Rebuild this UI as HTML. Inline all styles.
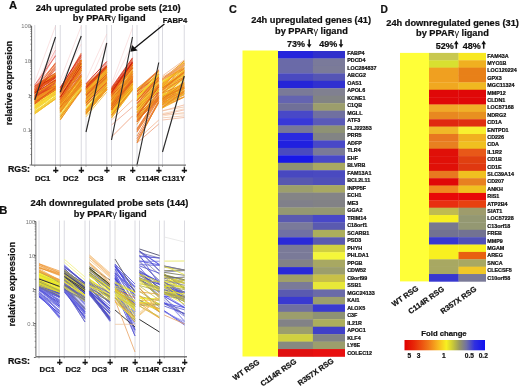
<!DOCTYPE html>
<html><head><meta charset="utf-8"><style>
html,body{margin:0;padding:0;background:#fff;}
body{width:520px;height:388px;overflow:hidden;}
svg{display:block;will-change:transform;}

</style></head><body>
<svg width="520" height="388" viewBox="0 0 520 388" font-family='"Liberation Sans", sans-serif'><line x1="34.75" y1="25" x2="34.75" y2="165.2" stroke="#d6d6dc" stroke-width="0.9"/><line x1="55.5" y1="25" x2="55.5" y2="165.2" stroke="#d6d6dc" stroke-width="0.9"/><line x1="60.25" y1="25" x2="60.25" y2="165.2" stroke="#d6d6dc" stroke-width="0.9"/><line x1="81.25" y1="25" x2="81.25" y2="165.2" stroke="#d6d6dc" stroke-width="0.9"/><line x1="86" y1="25" x2="86" y2="165.2" stroke="#d6d6dc" stroke-width="0.9"/><line x1="106.75" y1="25" x2="106.75" y2="165.2" stroke="#d6d6dc" stroke-width="0.9"/><line x1="111.5" y1="25" x2="111.5" y2="165.2" stroke="#d6d6dc" stroke-width="0.9"/><line x1="132.5" y1="25" x2="132.5" y2="165.2" stroke="#d6d6dc" stroke-width="0.9"/><line x1="137" y1="25" x2="137" y2="165.2" stroke="#d6d6dc" stroke-width="0.9"/><line x1="158.75" y1="25" x2="158.75" y2="165.2" stroke="#d6d6dc" stroke-width="0.9"/><line x1="162.5" y1="25" x2="162.5" y2="165.2" stroke="#d6d6dc" stroke-width="0.9"/><line x1="184.25" y1="25" x2="184.25" y2="165.2" stroke="#d6d6dc" stroke-width="0.9"/><line x1="34.75" y1="82.00" x2="55.50" y2="26.00" stroke="#f4c4c4" stroke-width="0.6" stroke-opacity="0.8"/><line x1="34.75" y1="86.00" x2="55.50" y2="46.00" stroke="#f4c4c4" stroke-width="0.6" stroke-opacity="0.8"/><line x1="34.75" y1="90.00" x2="55.50" y2="52.00" stroke="#f4c4c4" stroke-width="0.6" stroke-opacity="0.8"/><line x1="34.75" y1="99.94" x2="55.50" y2="89.54" stroke="#f8e830" stroke-width="0.8" stroke-opacity="0.9"/><line x1="34.75" y1="108.59" x2="55.50" y2="96.69" stroke="#f8d820" stroke-width="0.8" stroke-opacity="0.9"/><line x1="34.75" y1="97.63" x2="55.50" y2="86.85" stroke="#f8d030" stroke-width="0.8" stroke-opacity="0.9"/><line x1="34.75" y1="97.23" x2="55.50" y2="86.83" stroke="#f8e830" stroke-width="0.8" stroke-opacity="0.9"/><line x1="34.75" y1="113.76" x2="55.50" y2="98.59" stroke="#f8d820" stroke-width="0.8" stroke-opacity="0.9"/><line x1="34.75" y1="105.83" x2="55.50" y2="94.80" stroke="#f8d820" stroke-width="0.8" stroke-opacity="0.9"/><line x1="34.75" y1="104.04" x2="55.50" y2="91.99" stroke="#f8d820" stroke-width="0.8" stroke-opacity="0.9"/><line x1="34.75" y1="97.09" x2="55.50" y2="87.19" stroke="#f0e040" stroke-width="0.8" stroke-opacity="0.9"/><line x1="34.75" y1="98.24" x2="55.50" y2="84.14" stroke="#f8e830" stroke-width="0.8" stroke-opacity="0.9"/><line x1="34.75" y1="103.50" x2="55.50" y2="90.23" stroke="#f8d030" stroke-width="0.8" stroke-opacity="0.9"/><line x1="34.75" y1="105.11" x2="55.50" y2="92.69" stroke="#f0a828" stroke-width="0.8" stroke-opacity="0.9"/><line x1="34.75" y1="106.29" x2="55.50" y2="91.88" stroke="#f0e040" stroke-width="0.8" stroke-opacity="0.9"/><line x1="34.75" y1="107.20" x2="55.50" y2="94.82" stroke="#f8d820" stroke-width="0.8" stroke-opacity="0.9"/><line x1="34.75" y1="104.07" x2="55.50" y2="91.20" stroke="#f8e830" stroke-width="0.8" stroke-opacity="0.9"/><line x1="34.75" y1="111.58" x2="55.50" y2="98.33" stroke="#f0b028" stroke-width="0.8" stroke-opacity="0.9"/><line x1="34.75" y1="98.68" x2="55.50" y2="84.21" stroke="#f0e040" stroke-width="0.8" stroke-opacity="0.9"/><line x1="34.75" y1="97.71" x2="55.50" y2="86.47" stroke="#f0b028" stroke-width="0.8" stroke-opacity="0.9"/><line x1="34.75" y1="101.31" x2="55.50" y2="89.09" stroke="#f0a828" stroke-width="0.8" stroke-opacity="0.9"/><line x1="34.75" y1="96.00" x2="55.50" y2="84.00" stroke="#f8d030" stroke-width="0.8" stroke-opacity="0.9"/><line x1="34.75" y1="105.58" x2="55.50" y2="94.87" stroke="#f0e040" stroke-width="0.8" stroke-opacity="0.9"/><line x1="34.75" y1="107.38" x2="55.50" y2="92.42" stroke="#f8d030" stroke-width="0.8" stroke-opacity="0.9"/><line x1="34.75" y1="103.85" x2="55.50" y2="87.64" stroke="#f0a828" stroke-width="0.8" stroke-opacity="0.9"/><line x1="34.75" y1="103.00" x2="55.50" y2="89.30" stroke="#f8d030" stroke-width="0.8" stroke-opacity="0.9"/><line x1="34.75" y1="107.83" x2="55.50" y2="94.39" stroke="#f8b820" stroke-width="0.8" stroke-opacity="0.9"/><line x1="34.75" y1="112.48" x2="55.50" y2="96.25" stroke="#f8b820" stroke-width="0.8" stroke-opacity="0.9"/><line x1="34.75" y1="107.96" x2="55.50" y2="93.68" stroke="#f8d820" stroke-width="0.8" stroke-opacity="0.9"/><line x1="34.75" y1="100.55" x2="55.50" y2="87.54" stroke="#f8b820" stroke-width="0.8" stroke-opacity="0.9"/><line x1="34.75" y1="111.35" x2="55.50" y2="96.91" stroke="#f8d030" stroke-width="0.8" stroke-opacity="0.9"/><line x1="34.75" y1="105.22" x2="55.50" y2="95.37" stroke="#f0e040" stroke-width="0.8" stroke-opacity="0.9"/><line x1="34.75" y1="98.05" x2="55.50" y2="87.58" stroke="#f0b028" stroke-width="0.8" stroke-opacity="0.9"/><line x1="34.75" y1="106.00" x2="55.50" y2="91.46" stroke="#f8d820" stroke-width="0.8" stroke-opacity="0.9"/><line x1="34.75" y1="113.94" x2="55.50" y2="99.00" stroke="#f0a828" stroke-width="0.8" stroke-opacity="0.9"/><line x1="34.75" y1="113.70" x2="55.50" y2="99.00" stroke="#f8d820" stroke-width="0.8" stroke-opacity="0.9"/><line x1="34.75" y1="102.52" x2="55.50" y2="88.10" stroke="#f0e040" stroke-width="0.8" stroke-opacity="0.9"/><line x1="34.75" y1="101.54" x2="55.50" y2="92.19" stroke="#f0a828" stroke-width="0.8" stroke-opacity="0.9"/><line x1="34.75" y1="98.06" x2="55.50" y2="84.42" stroke="#f8d820" stroke-width="0.8" stroke-opacity="0.9"/><line x1="34.75" y1="106.40" x2="55.50" y2="94.52" stroke="#f8e830" stroke-width="0.8" stroke-opacity="0.9"/><line x1="34.75" y1="98.48" x2="55.50" y2="84.90" stroke="#f0e040" stroke-width="0.8" stroke-opacity="0.9"/><line x1="34.75" y1="109.88" x2="55.50" y2="93.98" stroke="#f0a828" stroke-width="0.8" stroke-opacity="0.9"/><line x1="34.75" y1="100.10" x2="55.50" y2="88.06" stroke="#f0a828" stroke-width="0.8" stroke-opacity="0.9"/><line x1="34.75" y1="103.63" x2="55.50" y2="89.60" stroke="#f8d030" stroke-width="0.8" stroke-opacity="0.9"/><line x1="34.75" y1="100.90" x2="55.50" y2="90.62" stroke="#f0e040" stroke-width="0.8" stroke-opacity="0.9"/><line x1="34.75" y1="103.70" x2="55.50" y2="93.78" stroke="#f0b028" stroke-width="0.8" stroke-opacity="0.9"/><line x1="34.75" y1="98.87" x2="55.50" y2="84.07" stroke="#f8d820" stroke-width="0.8" stroke-opacity="0.9"/><line x1="34.75" y1="102.14" x2="55.50" y2="86.63" stroke="#f0a020" stroke-width="0.8" stroke-opacity="0.9"/><line x1="34.75" y1="107.54" x2="55.50" y2="91.13" stroke="#f8d030" stroke-width="0.8" stroke-opacity="0.9"/><line x1="34.75" y1="107.09" x2="55.50" y2="91.22" stroke="#f8d030" stroke-width="0.8" stroke-opacity="0.9"/><line x1="34.75" y1="108.60" x2="55.50" y2="94.36" stroke="#f8d030" stroke-width="0.8" stroke-opacity="0.9"/><line x1="34.75" y1="112.23" x2="55.50" y2="97.17" stroke="#f8d030" stroke-width="0.8" stroke-opacity="0.9"/><line x1="34.75" y1="99.56" x2="55.50" y2="88.04" stroke="#f8d820" stroke-width="0.8" stroke-opacity="0.9"/><line x1="34.75" y1="110.07" x2="55.50" y2="94.47" stroke="#f8e830" stroke-width="0.8" stroke-opacity="0.9"/><line x1="34.75" y1="112.93" x2="55.50" y2="99.00" stroke="#f0b028" stroke-width="0.8" stroke-opacity="0.9"/><line x1="34.75" y1="112.46" x2="55.50" y2="97.07" stroke="#f8d030" stroke-width="0.8" stroke-opacity="0.9"/><line x1="34.75" y1="103.59" x2="55.50" y2="90.97" stroke="#f8e830" stroke-width="0.8" stroke-opacity="0.9"/><line x1="34.75" y1="111.02" x2="55.50" y2="97.29" stroke="#f0e040" stroke-width="0.8" stroke-opacity="0.9"/><line x1="34.75" y1="88.39" x2="55.50" y2="76.53" stroke="#e05020" stroke-width="0.8" stroke-opacity="0.9"/><line x1="34.75" y1="92.87" x2="55.50" y2="82.60" stroke="#e87818" stroke-width="0.8" stroke-opacity="0.9"/><line x1="34.75" y1="89.97" x2="55.50" y2="75.61" stroke="#d82010" stroke-width="0.8" stroke-opacity="0.9"/><line x1="34.75" y1="95.64" x2="55.50" y2="80.97" stroke="#e85818" stroke-width="0.8" stroke-opacity="0.9"/><line x1="34.75" y1="101.32" x2="55.50" y2="90.00" stroke="#d82010" stroke-width="0.8" stroke-opacity="0.9"/><line x1="34.75" y1="98.61" x2="55.50" y2="88.38" stroke="#e02818" stroke-width="0.8" stroke-opacity="0.9"/><line x1="34.75" y1="97.02" x2="55.50" y2="84.42" stroke="#e04818" stroke-width="0.8" stroke-opacity="0.9"/><line x1="34.75" y1="88.00" x2="55.50" y2="74.52" stroke="#e88a18" stroke-width="0.8" stroke-opacity="0.9"/><line x1="34.75" y1="97.82" x2="55.50" y2="81.61" stroke="#e05020" stroke-width="0.8" stroke-opacity="0.9"/><line x1="34.75" y1="99.31" x2="55.50" y2="85.78" stroke="#e05020" stroke-width="0.8" stroke-opacity="0.9"/><line x1="34.75" y1="96.44" x2="55.50" y2="80.63" stroke="#c81810" stroke-width="0.8" stroke-opacity="0.9"/><line x1="34.75" y1="91.55" x2="55.50" y2="82.21" stroke="#f08020" stroke-width="0.8" stroke-opacity="0.9"/><line x1="34.75" y1="103.04" x2="55.50" y2="89.87" stroke="#d01808" stroke-width="0.8" stroke-opacity="0.9"/><line x1="34.75" y1="95.83" x2="55.50" y2="80.16" stroke="#c81810" stroke-width="0.8" stroke-opacity="0.9"/><line x1="34.75" y1="88.79" x2="55.50" y2="77.48" stroke="#e85818" stroke-width="0.8" stroke-opacity="0.9"/><line x1="34.75" y1="98.44" x2="55.50" y2="81.56" stroke="#e04818" stroke-width="0.8" stroke-opacity="0.9"/><line x1="34.75" y1="95.74" x2="55.50" y2="81.34" stroke="#e87818" stroke-width="0.8" stroke-opacity="0.9"/><line x1="34.75" y1="98.45" x2="55.50" y2="84.51" stroke="#e88a18" stroke-width="0.8" stroke-opacity="0.9"/><line x1="34.75" y1="99.50" x2="55.50" y2="86.44" stroke="#f08020" stroke-width="0.8" stroke-opacity="0.9"/><line x1="34.75" y1="99.94" x2="55.50" y2="86.44" stroke="#f09020" stroke-width="0.8" stroke-opacity="0.9"/><line x1="34.75" y1="94.59" x2="55.50" y2="80.56" stroke="#d01808" stroke-width="0.8" stroke-opacity="0.9"/><line x1="34.75" y1="88.39" x2="55.50" y2="76.43" stroke="#e02818" stroke-width="0.8" stroke-opacity="0.9"/><line x1="34.75" y1="93.78" x2="55.50" y2="81.75" stroke="#e85818" stroke-width="0.8" stroke-opacity="0.9"/><line x1="34.75" y1="104.00" x2="55.50" y2="87.17" stroke="#d82010" stroke-width="0.8" stroke-opacity="0.9"/><line x1="34.75" y1="86.43" x2="55.50" y2="75.04" stroke="#f09020" stroke-width="0.8" stroke-opacity="0.9"/><line x1="34.75" y1="97.69" x2="55.50" y2="82.94" stroke="#e05020" stroke-width="0.8" stroke-opacity="0.9"/><line x1="34.75" y1="102.25" x2="55.50" y2="84.56" stroke="#f8b820" stroke-width="0.8" stroke-opacity="0.9"/><line x1="34.75" y1="95.96" x2="55.50" y2="86.18" stroke="#d82010" stroke-width="0.8" stroke-opacity="0.9"/><line x1="34.75" y1="92.40" x2="55.50" y2="76.21" stroke="#e02818" stroke-width="0.8" stroke-opacity="0.9"/><line x1="34.75" y1="89.84" x2="55.50" y2="74.36" stroke="#e88a18" stroke-width="0.8" stroke-opacity="0.9"/><line x1="34.75" y1="103.37" x2="55.50" y2="89.50" stroke="#f08020" stroke-width="0.8" stroke-opacity="0.9"/><line x1="34.75" y1="92.93" x2="55.50" y2="75.96" stroke="#c81810" stroke-width="0.8" stroke-opacity="0.9"/><line x1="34.75" y1="95.35" x2="55.50" y2="80.21" stroke="#d01808" stroke-width="0.8" stroke-opacity="0.9"/><line x1="34.75" y1="97.30" x2="55.50" y2="81.38" stroke="#e04818" stroke-width="0.8" stroke-opacity="0.9"/><line x1="34.75" y1="101.36" x2="55.50" y2="88.32" stroke="#f08020" stroke-width="0.8" stroke-opacity="0.9"/><line x1="34.75" y1="100.59" x2="55.50" y2="89.70" stroke="#e88a18" stroke-width="0.8" stroke-opacity="0.9"/><line x1="34.75" y1="102.24" x2="55.50" y2="89.72" stroke="#f09020" stroke-width="0.8" stroke-opacity="0.9"/><line x1="34.75" y1="90.95" x2="55.50" y2="75.90" stroke="#e87818" stroke-width="0.8" stroke-opacity="0.9"/><line x1="34.75" y1="86.00" x2="55.50" y2="75.48" stroke="#e88a18" stroke-width="0.8" stroke-opacity="0.9"/><line x1="34.75" y1="100.87" x2="55.50" y2="85.76" stroke="#f09020" stroke-width="0.8" stroke-opacity="0.9"/><line x1="34.75" y1="98.18" x2="55.50" y2="88.44" stroke="#f09020" stroke-width="0.8" stroke-opacity="0.9"/><line x1="34.75" y1="88.72" x2="55.50" y2="75.00" stroke="#c81810" stroke-width="0.8" stroke-opacity="0.9"/><line x1="34.75" y1="95.76" x2="55.50" y2="80.72" stroke="#f08020" stroke-width="0.8" stroke-opacity="0.9"/><line x1="34.75" y1="94.07" x2="55.50" y2="79.97" stroke="#e85818" stroke-width="0.8" stroke-opacity="0.9"/><line x1="34.75" y1="88.99" x2="55.50" y2="79.66" stroke="#f8b820" stroke-width="0.8" stroke-opacity="0.9"/><line x1="34.75" y1="92.89" x2="55.50" y2="77.11" stroke="#d01808" stroke-width="0.8" stroke-opacity="0.9"/><line x1="34.75" y1="96.86" x2="55.50" y2="85.98" stroke="#e85818" stroke-width="0.8" stroke-opacity="0.9"/><line x1="34.75" y1="86.00" x2="55.50" y2="73.66" stroke="#e05020" stroke-width="0.8" stroke-opacity="0.9"/><line x1="34.75" y1="93.88" x2="55.50" y2="81.47" stroke="#f0a828" stroke-width="0.8" stroke-opacity="0.9"/><line x1="34.75" y1="100.37" x2="55.50" y2="86.90" stroke="#f09020" stroke-width="0.8" stroke-opacity="0.9"/><line x1="34.75" y1="102.43" x2="55.50" y2="88.04" stroke="#e04818" stroke-width="0.8" stroke-opacity="0.9"/><line x1="34.75" y1="93.96" x2="55.50" y2="79.88" stroke="#f8b820" stroke-width="0.8" stroke-opacity="0.9"/><line x1="34.75" y1="91.16" x2="55.50" y2="77.83" stroke="#e04818" stroke-width="0.8" stroke-opacity="0.9"/><line x1="34.75" y1="86.93" x2="55.50" y2="75.18" stroke="#e88a18" stroke-width="0.8" stroke-opacity="0.9"/><line x1="34.75" y1="86.69" x2="55.50" y2="77.52" stroke="#d01808" stroke-width="0.8" stroke-opacity="0.9"/><line x1="34.75" y1="96.89" x2="55.50" y2="83.08" stroke="#e05020" stroke-width="0.8" stroke-opacity="0.9"/><line x1="34.75" y1="86.00" x2="55.50" y2="73.00" stroke="#e87818" stroke-width="0.8" stroke-opacity="0.9"/><line x1="34.75" y1="93.23" x2="55.50" y2="79.89" stroke="#c81810" stroke-width="0.8" stroke-opacity="0.9"/><line x1="34.75" y1="89.31" x2="55.50" y2="80.45" stroke="#e05020" stroke-width="0.8" stroke-opacity="0.9"/><line x1="34.75" y1="89.72" x2="55.50" y2="78.46" stroke="#e02818" stroke-width="0.8" stroke-opacity="0.9"/><line x1="34.75" y1="91.86" x2="55.50" y2="76.46" stroke="#e87818" stroke-width="0.8" stroke-opacity="0.9"/><line x1="34.75" y1="89.35" x2="55.50" y2="73.00" stroke="#f0a020" stroke-width="0.8" stroke-opacity="0.9"/><line x1="34.75" y1="86.00" x2="55.50" y2="73.00" stroke="#e04818" stroke-width="0.8" stroke-opacity="0.9"/><line x1="34.75" y1="89.99" x2="55.50" y2="76.24" stroke="#e04818" stroke-width="0.8" stroke-opacity="0.9"/><line x1="34.75" y1="99.00" x2="55.50" y2="86.11" stroke="#f09020" stroke-width="0.8" stroke-opacity="0.9"/><line x1="34.75" y1="93.31" x2="55.50" y2="68.73" stroke="#d01808" stroke-width="0.75" stroke-opacity="0.85"/><line x1="34.75" y1="92.67" x2="55.50" y2="65.57" stroke="#e05020" stroke-width="0.75" stroke-opacity="0.85"/><line x1="34.75" y1="92.19" x2="55.50" y2="67.49" stroke="#e85818" stroke-width="0.75" stroke-opacity="0.85"/><line x1="34.75" y1="92.04" x2="55.50" y2="69.75" stroke="#e04818" stroke-width="0.75" stroke-opacity="0.85"/><line x1="34.75" y1="91.62" x2="55.50" y2="62.62" stroke="#e85818" stroke-width="0.75" stroke-opacity="0.85"/><line x1="34.75" y1="92.02" x2="55.50" y2="66.50" stroke="#e85818" stroke-width="0.75" stroke-opacity="0.85"/><line x1="34.75" y1="90.18" x2="55.50" y2="64.10" stroke="#e85818" stroke-width="0.75" stroke-opacity="0.85"/><line x1="34.75" y1="87.42" x2="55.50" y2="63.31" stroke="#e04818" stroke-width="0.75" stroke-opacity="0.85"/><line x1="34.75" y1="85.00" x2="55.50" y2="56.08" stroke="#e02818" stroke-width="0.75" stroke-opacity="0.85"/><line x1="34.75" y1="88.00" x2="55.50" y2="50.00" stroke="#f08080" stroke-width="0.7" stroke-opacity="0.9"/><line x1="34.75" y1="90.00" x2="55.50" y2="55.00" stroke="#e87070" stroke-width="0.7" stroke-opacity="0.9"/><line x1="34.75" y1="100.00" x2="55.50" y2="37.00" stroke="#2a2a2a" stroke-width="1.15" stroke-opacity="1"/><line x1="60.25" y1="80.00" x2="81.25" y2="26.00" stroke="#f4c4c4" stroke-width="0.6" stroke-opacity="0.8"/><line x1="60.25" y1="84.00" x2="81.25" y2="44.00" stroke="#f4c4c4" stroke-width="0.6" stroke-opacity="0.8"/><line x1="60.25" y1="106.81" x2="81.25" y2="85.26" stroke="#e88a18" stroke-width="0.8" stroke-opacity="0.9"/><line x1="60.25" y1="120.00" x2="81.25" y2="88.96" stroke="#e87818" stroke-width="0.8" stroke-opacity="0.9"/><line x1="60.25" y1="102.74" x2="81.25" y2="76.00" stroke="#f0b028" stroke-width="0.8" stroke-opacity="0.9"/><line x1="60.25" y1="115.33" x2="81.25" y2="90.77" stroke="#f0a828" stroke-width="0.8" stroke-opacity="0.9"/><line x1="60.25" y1="117.65" x2="81.25" y2="87.81" stroke="#f0e040" stroke-width="0.8" stroke-opacity="0.9"/><line x1="60.25" y1="104.00" x2="81.25" y2="76.21" stroke="#f0a020" stroke-width="0.8" stroke-opacity="0.9"/><line x1="60.25" y1="113.20" x2="81.25" y2="83.84" stroke="#f8b820" stroke-width="0.8" stroke-opacity="0.9"/><line x1="60.25" y1="107.54" x2="81.25" y2="82.23" stroke="#f08020" stroke-width="0.8" stroke-opacity="0.9"/><line x1="60.25" y1="108.43" x2="81.25" y2="82.98" stroke="#f8d820" stroke-width="0.8" stroke-opacity="0.9"/><line x1="60.25" y1="117.05" x2="81.25" y2="90.21" stroke="#f8d030" stroke-width="0.8" stroke-opacity="0.9"/><line x1="60.25" y1="105.92" x2="81.25" y2="80.48" stroke="#f8d030" stroke-width="0.8" stroke-opacity="0.9"/><line x1="60.25" y1="118.30" x2="81.25" y2="88.51" stroke="#f8d820" stroke-width="0.8" stroke-opacity="0.9"/><line x1="60.25" y1="120.00" x2="81.25" y2="89.33" stroke="#f8d030" stroke-width="0.8" stroke-opacity="0.9"/><line x1="60.25" y1="101.57" x2="81.25" y2="79.60" stroke="#f8d820" stroke-width="0.8" stroke-opacity="0.9"/><line x1="60.25" y1="110.24" x2="81.25" y2="84.26" stroke="#f0b028" stroke-width="0.8" stroke-opacity="0.9"/><line x1="60.25" y1="109.48" x2="81.25" y2="85.42" stroke="#f8e830" stroke-width="0.8" stroke-opacity="0.9"/><line x1="60.25" y1="104.57" x2="81.25" y2="78.16" stroke="#f0b028" stroke-width="0.8" stroke-opacity="0.9"/><line x1="60.25" y1="112.46" x2="81.25" y2="89.16" stroke="#f8d030" stroke-width="0.8" stroke-opacity="0.9"/><line x1="60.25" y1="105.84" x2="81.25" y2="84.47" stroke="#f09020" stroke-width="0.8" stroke-opacity="0.9"/><line x1="60.25" y1="107.83" x2="81.25" y2="81.49" stroke="#f8e830" stroke-width="0.8" stroke-opacity="0.9"/><line x1="60.25" y1="105.25" x2="81.25" y2="81.21" stroke="#f8e830" stroke-width="0.8" stroke-opacity="0.9"/><line x1="60.25" y1="117.05" x2="81.25" y2="86.19" stroke="#f0a828" stroke-width="0.8" stroke-opacity="0.9"/><line x1="60.25" y1="116.67" x2="81.25" y2="86.40" stroke="#f8e830" stroke-width="0.8" stroke-opacity="0.9"/><line x1="60.25" y1="100.64" x2="81.25" y2="78.82" stroke="#f0b028" stroke-width="0.8" stroke-opacity="0.9"/><line x1="60.25" y1="106.78" x2="81.25" y2="80.69" stroke="#f0a020" stroke-width="0.8" stroke-opacity="0.9"/><line x1="60.25" y1="102.92" x2="81.25" y2="81.27" stroke="#f09020" stroke-width="0.8" stroke-opacity="0.9"/><line x1="60.25" y1="117.21" x2="81.25" y2="89.84" stroke="#e87818" stroke-width="0.8" stroke-opacity="0.9"/><line x1="60.25" y1="107.95" x2="81.25" y2="82.42" stroke="#f0e040" stroke-width="0.8" stroke-opacity="0.9"/><line x1="60.25" y1="119.56" x2="81.25" y2="90.78" stroke="#e87818" stroke-width="0.8" stroke-opacity="0.9"/><line x1="60.25" y1="112.30" x2="81.25" y2="82.63" stroke="#e88a18" stroke-width="0.8" stroke-opacity="0.9"/><line x1="60.25" y1="108.91" x2="81.25" y2="80.84" stroke="#f8d820" stroke-width="0.8" stroke-opacity="0.9"/><line x1="60.25" y1="112.18" x2="81.25" y2="84.01" stroke="#f8b820" stroke-width="0.8" stroke-opacity="0.9"/><line x1="60.25" y1="108.51" x2="81.25" y2="82.58" stroke="#e88a18" stroke-width="0.8" stroke-opacity="0.9"/><line x1="60.25" y1="115.69" x2="81.25" y2="87.37" stroke="#f0a828" stroke-width="0.8" stroke-opacity="0.9"/><line x1="60.25" y1="106.36" x2="81.25" y2="80.31" stroke="#f8b820" stroke-width="0.8" stroke-opacity="0.9"/><line x1="60.25" y1="110.32" x2="81.25" y2="86.29" stroke="#f8d030" stroke-width="0.8" stroke-opacity="0.9"/><line x1="60.25" y1="110.73" x2="81.25" y2="84.00" stroke="#f8d030" stroke-width="0.8" stroke-opacity="0.9"/><line x1="60.25" y1="108.84" x2="81.25" y2="81.61" stroke="#f8b820" stroke-width="0.8" stroke-opacity="0.9"/><line x1="60.25" y1="104.39" x2="81.25" y2="80.22" stroke="#f8d820" stroke-width="0.8" stroke-opacity="0.9"/><line x1="60.25" y1="114.40" x2="81.25" y2="86.65" stroke="#f0e040" stroke-width="0.8" stroke-opacity="0.9"/><line x1="60.25" y1="109.13" x2="81.25" y2="80.73" stroke="#f8d820" stroke-width="0.8" stroke-opacity="0.9"/><line x1="60.25" y1="104.14" x2="81.25" y2="80.34" stroke="#f8e830" stroke-width="0.8" stroke-opacity="0.9"/><line x1="60.25" y1="102.54" x2="81.25" y2="78.64" stroke="#f0a828" stroke-width="0.8" stroke-opacity="0.9"/><line x1="60.25" y1="104.23" x2="81.25" y2="76.93" stroke="#f09020" stroke-width="0.8" stroke-opacity="0.9"/><line x1="60.25" y1="111.64" x2="81.25" y2="84.81" stroke="#f0a020" stroke-width="0.8" stroke-opacity="0.9"/><line x1="60.25" y1="91.41" x2="81.25" y2="65.37" stroke="#f0a828" stroke-width="0.8" stroke-opacity="0.9"/><line x1="60.25" y1="111.20" x2="81.25" y2="81.85" stroke="#e04818" stroke-width="0.8" stroke-opacity="0.9"/><line x1="60.25" y1="111.93" x2="81.25" y2="80.28" stroke="#f08020" stroke-width="0.8" stroke-opacity="0.9"/><line x1="60.25" y1="91.75" x2="81.25" y2="69.50" stroke="#f08020" stroke-width="0.8" stroke-opacity="0.9"/><line x1="60.25" y1="112.00" x2="81.25" y2="85.63" stroke="#f0a828" stroke-width="0.8" stroke-opacity="0.9"/><line x1="60.25" y1="92.87" x2="81.25" y2="60.00" stroke="#f09020" stroke-width="0.8" stroke-opacity="0.9"/><line x1="60.25" y1="97.25" x2="81.25" y2="67.18" stroke="#f0a020" stroke-width="0.8" stroke-opacity="0.9"/><line x1="60.25" y1="112.00" x2="81.25" y2="85.24" stroke="#f8b820" stroke-width="0.8" stroke-opacity="0.9"/><line x1="60.25" y1="102.39" x2="81.25" y2="74.81" stroke="#e04818" stroke-width="0.8" stroke-opacity="0.9"/><line x1="60.25" y1="108.57" x2="81.25" y2="82.67" stroke="#e85818" stroke-width="0.8" stroke-opacity="0.9"/><line x1="60.25" y1="89.29" x2="81.25" y2="63.90" stroke="#f0a020" stroke-width="0.8" stroke-opacity="0.9"/><line x1="60.25" y1="112.00" x2="81.25" y2="86.00" stroke="#f0a828" stroke-width="0.8" stroke-opacity="0.9"/><line x1="60.25" y1="101.43" x2="81.25" y2="70.01" stroke="#f8b820" stroke-width="0.8" stroke-opacity="0.9"/><line x1="60.25" y1="103.88" x2="81.25" y2="74.59" stroke="#f0a828" stroke-width="0.8" stroke-opacity="0.9"/><line x1="60.25" y1="110.37" x2="81.25" y2="79.74" stroke="#e88a18" stroke-width="0.8" stroke-opacity="0.9"/><line x1="60.25" y1="107.28" x2="81.25" y2="75.22" stroke="#e87818" stroke-width="0.8" stroke-opacity="0.9"/><line x1="60.25" y1="106.51" x2="81.25" y2="77.02" stroke="#f8b820" stroke-width="0.8" stroke-opacity="0.9"/><line x1="60.25" y1="95.61" x2="81.25" y2="67.02" stroke="#e04818" stroke-width="0.8" stroke-opacity="0.9"/><line x1="60.25" y1="90.52" x2="81.25" y2="60.00" stroke="#e88a18" stroke-width="0.8" stroke-opacity="0.9"/><line x1="60.25" y1="92.39" x2="81.25" y2="68.03" stroke="#f0a020" stroke-width="0.8" stroke-opacity="0.9"/><line x1="60.25" y1="92.36" x2="81.25" y2="63.69" stroke="#e88a18" stroke-width="0.8" stroke-opacity="0.9"/><line x1="60.25" y1="102.99" x2="81.25" y2="69.15" stroke="#e85818" stroke-width="0.8" stroke-opacity="0.9"/><line x1="60.25" y1="91.63" x2="81.25" y2="61.57" stroke="#e85818" stroke-width="0.8" stroke-opacity="0.9"/><line x1="60.25" y1="89.17" x2="81.25" y2="60.26" stroke="#f8b820" stroke-width="0.8" stroke-opacity="0.9"/><line x1="60.25" y1="100.80" x2="81.25" y2="70.24" stroke="#f08020" stroke-width="0.8" stroke-opacity="0.9"/><line x1="60.25" y1="112.00" x2="81.25" y2="84.60" stroke="#f09020" stroke-width="0.8" stroke-opacity="0.9"/><line x1="60.25" y1="104.18" x2="81.25" y2="76.71" stroke="#f0a020" stroke-width="0.8" stroke-opacity="0.9"/><line x1="60.25" y1="103.44" x2="81.25" y2="76.29" stroke="#f0b028" stroke-width="0.8" stroke-opacity="0.9"/><line x1="60.25" y1="96.48" x2="81.25" y2="68.21" stroke="#f08020" stroke-width="0.8" stroke-opacity="0.9"/><line x1="60.25" y1="100.23" x2="81.25" y2="66.20" stroke="#e88a18" stroke-width="0.8" stroke-opacity="0.9"/><line x1="60.25" y1="99.60" x2="81.25" y2="68.39" stroke="#f8b820" stroke-width="0.8" stroke-opacity="0.9"/><line x1="60.25" y1="92.43" x2="81.25" y2="60.00" stroke="#e04818" stroke-width="0.8" stroke-opacity="0.9"/><line x1="60.25" y1="108.03" x2="81.25" y2="82.85" stroke="#f0a828" stroke-width="0.8" stroke-opacity="0.9"/><line x1="60.25" y1="89.08" x2="81.25" y2="63.22" stroke="#f8b820" stroke-width="0.8" stroke-opacity="0.9"/><line x1="60.25" y1="89.00" x2="81.25" y2="60.00" stroke="#e87818" stroke-width="0.8" stroke-opacity="0.9"/><line x1="60.25" y1="96.62" x2="81.25" y2="69.79" stroke="#f0b028" stroke-width="0.8" stroke-opacity="0.9"/><line x1="60.25" y1="96.21" x2="81.25" y2="72.98" stroke="#e87818" stroke-width="0.8" stroke-opacity="0.9"/><line x1="60.25" y1="96.52" x2="81.25" y2="65.39" stroke="#f0a020" stroke-width="0.8" stroke-opacity="0.9"/><line x1="60.25" y1="97.37" x2="81.25" y2="68.48" stroke="#e05020" stroke-width="0.8" stroke-opacity="0.9"/><line x1="60.25" y1="107.77" x2="81.25" y2="86.00" stroke="#f08020" stroke-width="0.8" stroke-opacity="0.9"/><line x1="60.25" y1="103.08" x2="81.25" y2="75.90" stroke="#f8b820" stroke-width="0.8" stroke-opacity="0.9"/><line x1="60.25" y1="110.02" x2="81.25" y2="82.99" stroke="#f09020" stroke-width="0.8" stroke-opacity="0.9"/><line x1="60.25" y1="108.16" x2="81.25" y2="86.00" stroke="#f0a020" stroke-width="0.8" stroke-opacity="0.9"/><line x1="60.25" y1="109.81" x2="81.25" y2="82.23" stroke="#f0b028" stroke-width="0.8" stroke-opacity="0.9"/><line x1="60.25" y1="108.54" x2="81.25" y2="84.61" stroke="#e85818" stroke-width="0.8" stroke-opacity="0.9"/><line x1="60.25" y1="89.00" x2="81.25" y2="64.03" stroke="#e88a18" stroke-width="0.8" stroke-opacity="0.9"/><line x1="60.25" y1="99.41" x2="81.25" y2="70.46" stroke="#e04818" stroke-width="0.8" stroke-opacity="0.9"/><line x1="60.25" y1="99.81" x2="81.25" y2="71.46" stroke="#f08020" stroke-width="0.8" stroke-opacity="0.9"/><line x1="60.25" y1="92.22" x2="81.25" y2="63.74" stroke="#f0a828" stroke-width="0.8" stroke-opacity="0.9"/><line x1="60.25" y1="112.00" x2="81.25" y2="83.15" stroke="#f09020" stroke-width="0.8" stroke-opacity="0.9"/><line x1="60.25" y1="99.42" x2="81.25" y2="72.20" stroke="#e04818" stroke-width="0.8" stroke-opacity="0.9"/><line x1="60.25" y1="109.62" x2="81.25" y2="79.07" stroke="#f0a020" stroke-width="0.8" stroke-opacity="0.9"/><line x1="60.25" y1="96.22" x2="81.25" y2="66.65" stroke="#f0a020" stroke-width="0.8" stroke-opacity="0.9"/><line x1="60.25" y1="91.84" x2="81.25" y2="63.19" stroke="#f09020" stroke-width="0.8" stroke-opacity="0.9"/><line x1="60.25" y1="98.28" x2="81.25" y2="64.88" stroke="#f08020" stroke-width="0.8" stroke-opacity="0.9"/><line x1="60.25" y1="101.51" x2="81.25" y2="70.35" stroke="#e88a18" stroke-width="0.8" stroke-opacity="0.9"/><line x1="60.25" y1="101.19" x2="81.25" y2="76.61" stroke="#e87818" stroke-width="0.8" stroke-opacity="0.9"/><line x1="60.25" y1="91.18" x2="81.25" y2="65.15" stroke="#f0a828" stroke-width="0.8" stroke-opacity="0.9"/><line x1="60.25" y1="106.86" x2="81.25" y2="82.16" stroke="#f08020" stroke-width="0.8" stroke-opacity="0.9"/><line x1="60.25" y1="90.85" x2="81.25" y2="63.87" stroke="#e88a18" stroke-width="0.8" stroke-opacity="0.9"/><line x1="60.25" y1="109.51" x2="81.25" y2="86.00" stroke="#f0a828" stroke-width="0.8" stroke-opacity="0.9"/><line x1="60.25" y1="104.77" x2="81.25" y2="76.96" stroke="#e87818" stroke-width="0.8" stroke-opacity="0.9"/><line x1="60.25" y1="92.10" x2="81.25" y2="63.69" stroke="#e88a18" stroke-width="0.8" stroke-opacity="0.9"/><line x1="60.25" y1="89.00" x2="81.25" y2="60.00" stroke="#f0a020" stroke-width="0.8" stroke-opacity="0.9"/><line x1="60.25" y1="91.48" x2="81.25" y2="64.22" stroke="#e87818" stroke-width="0.8" stroke-opacity="0.9"/><line x1="60.25" y1="107.21" x2="81.25" y2="80.29" stroke="#e85818" stroke-width="0.8" stroke-opacity="0.9"/><line x1="60.25" y1="94.13" x2="81.25" y2="70.42" stroke="#e04818" stroke-width="0.8" stroke-opacity="0.9"/><line x1="60.25" y1="99.49" x2="81.25" y2="74.88" stroke="#e05020" stroke-width="0.8" stroke-opacity="0.9"/><line x1="60.25" y1="102.61" x2="81.25" y2="71.11" stroke="#f09020" stroke-width="0.8" stroke-opacity="0.9"/><line x1="60.25" y1="96.57" x2="81.25" y2="74.15" stroke="#e05020" stroke-width="0.8" stroke-opacity="0.9"/><line x1="60.25" y1="99.20" x2="81.25" y2="66.53" stroke="#e85818" stroke-width="0.8" stroke-opacity="0.9"/><line x1="60.25" y1="108.73" x2="81.25" y2="79.22" stroke="#f0b028" stroke-width="0.8" stroke-opacity="0.9"/><line x1="60.25" y1="103.07" x2="81.25" y2="76.02" stroke="#e87818" stroke-width="0.8" stroke-opacity="0.9"/><line x1="60.25" y1="96.62" x2="81.25" y2="68.27" stroke="#f08020" stroke-width="0.8" stroke-opacity="0.9"/><line x1="60.25" y1="100.98" x2="81.25" y2="70.26" stroke="#f09020" stroke-width="0.8" stroke-opacity="0.9"/><line x1="60.25" y1="89.00" x2="81.25" y2="60.59" stroke="#f8b820" stroke-width="0.8" stroke-opacity="0.9"/><line x1="60.25" y1="91.89" x2="81.25" y2="61.31" stroke="#e04818" stroke-width="0.8" stroke-opacity="0.9"/><line x1="60.25" y1="91.90" x2="81.25" y2="61.83" stroke="#f09020" stroke-width="0.8" stroke-opacity="0.9"/><line x1="60.25" y1="107.59" x2="81.25" y2="83.99" stroke="#e88a18" stroke-width="0.8" stroke-opacity="0.9"/><line x1="60.25" y1="98.26" x2="81.25" y2="64.28" stroke="#f0a828" stroke-width="0.8" stroke-opacity="0.9"/><line x1="60.25" y1="90.82" x2="81.25" y2="57.62" stroke="#e02818" stroke-width="0.8" stroke-opacity="0.9"/><line x1="60.25" y1="97.34" x2="81.25" y2="66.00" stroke="#d01808" stroke-width="0.8" stroke-opacity="0.9"/><line x1="60.25" y1="95.22" x2="81.25" y2="61.80" stroke="#f09020" stroke-width="0.8" stroke-opacity="0.9"/><line x1="60.25" y1="97.40" x2="81.25" y2="62.77" stroke="#c81810" stroke-width="0.8" stroke-opacity="0.9"/><line x1="60.25" y1="88.91" x2="81.25" y2="53.00" stroke="#e85818" stroke-width="0.8" stroke-opacity="0.9"/><line x1="60.25" y1="87.52" x2="81.25" y2="55.48" stroke="#c81810" stroke-width="0.8" stroke-opacity="0.9"/><line x1="60.25" y1="87.66" x2="81.25" y2="54.54" stroke="#d82010" stroke-width="0.8" stroke-opacity="0.9"/><line x1="60.25" y1="93.77" x2="81.25" y2="61.25" stroke="#e87818" stroke-width="0.8" stroke-opacity="0.9"/><line x1="60.25" y1="93.47" x2="81.25" y2="59.39" stroke="#e05020" stroke-width="0.8" stroke-opacity="0.9"/><line x1="60.25" y1="89.56" x2="81.25" y2="56.57" stroke="#e85818" stroke-width="0.8" stroke-opacity="0.9"/><line x1="60.25" y1="92.00" x2="81.25" y2="36.00" stroke="#2a2a2a" stroke-width="1.15" stroke-opacity="1"/><line x1="86.00" y1="80.00" x2="106.75" y2="34.00" stroke="#f4c4c4" stroke-width="0.6" stroke-opacity="0.8"/><line x1="86.00" y1="90.00" x2="106.75" y2="42.00" stroke="#f4c4c4" stroke-width="0.6" stroke-opacity="0.8"/><line x1="86.00" y1="103.14" x2="106.75" y2="80.25" stroke="#f08020" stroke-width="0.8" stroke-opacity="0.9"/><line x1="86.00" y1="113.54" x2="106.75" y2="89.58" stroke="#f08020" stroke-width="0.8" stroke-opacity="0.9"/><line x1="86.00" y1="109.58" x2="106.75" y2="85.57" stroke="#f8d030" stroke-width="0.8" stroke-opacity="0.9"/><line x1="86.00" y1="100.14" x2="106.75" y2="81.01" stroke="#f8e830" stroke-width="0.8" stroke-opacity="0.9"/><line x1="86.00" y1="96.41" x2="106.75" y2="77.33" stroke="#f0a020" stroke-width="0.8" stroke-opacity="0.9"/><line x1="86.00" y1="95.00" x2="106.75" y2="78.34" stroke="#f8e830" stroke-width="0.8" stroke-opacity="0.9"/><line x1="86.00" y1="109.84" x2="106.75" y2="85.01" stroke="#e87818" stroke-width="0.8" stroke-opacity="0.9"/><line x1="86.00" y1="112.87" x2="106.75" y2="89.72" stroke="#f0a020" stroke-width="0.8" stroke-opacity="0.9"/><line x1="86.00" y1="114.00" x2="106.75" y2="88.97" stroke="#f0b028" stroke-width="0.8" stroke-opacity="0.9"/><line x1="86.00" y1="101.43" x2="106.75" y2="78.68" stroke="#f8b820" stroke-width="0.8" stroke-opacity="0.9"/><line x1="86.00" y1="109.30" x2="106.75" y2="84.43" stroke="#f8e830" stroke-width="0.8" stroke-opacity="0.9"/><line x1="86.00" y1="105.19" x2="106.75" y2="83.81" stroke="#f08020" stroke-width="0.8" stroke-opacity="0.9"/><line x1="86.00" y1="102.02" x2="106.75" y2="78.35" stroke="#e87818" stroke-width="0.8" stroke-opacity="0.9"/><line x1="86.00" y1="113.21" x2="106.75" y2="89.89" stroke="#f08020" stroke-width="0.8" stroke-opacity="0.9"/><line x1="86.00" y1="103.58" x2="106.75" y2="81.14" stroke="#f8b820" stroke-width="0.8" stroke-opacity="0.9"/><line x1="86.00" y1="103.44" x2="106.75" y2="80.72" stroke="#f8e830" stroke-width="0.8" stroke-opacity="0.9"/><line x1="86.00" y1="110.12" x2="106.75" y2="89.73" stroke="#f0b028" stroke-width="0.8" stroke-opacity="0.9"/><line x1="86.00" y1="107.02" x2="106.75" y2="88.26" stroke="#f8d030" stroke-width="0.8" stroke-opacity="0.9"/><line x1="86.00" y1="106.00" x2="106.75" y2="85.38" stroke="#f0b028" stroke-width="0.8" stroke-opacity="0.9"/><line x1="86.00" y1="99.99" x2="106.75" y2="81.03" stroke="#e88a18" stroke-width="0.8" stroke-opacity="0.9"/><line x1="86.00" y1="108.81" x2="106.75" y2="89.23" stroke="#f08020" stroke-width="0.8" stroke-opacity="0.9"/><line x1="86.00" y1="96.81" x2="106.75" y2="76.29" stroke="#f0a828" stroke-width="0.8" stroke-opacity="0.9"/><line x1="86.00" y1="99.75" x2="106.75" y2="76.58" stroke="#e87818" stroke-width="0.8" stroke-opacity="0.9"/><line x1="86.00" y1="100.61" x2="106.75" y2="81.58" stroke="#f08020" stroke-width="0.8" stroke-opacity="0.9"/><line x1="86.00" y1="114.00" x2="106.75" y2="89.98" stroke="#e88a18" stroke-width="0.8" stroke-opacity="0.9"/><line x1="86.00" y1="95.00" x2="106.75" y2="76.96" stroke="#f0e040" stroke-width="0.8" stroke-opacity="0.9"/><line x1="86.00" y1="102.16" x2="106.75" y2="79.95" stroke="#f8d030" stroke-width="0.8" stroke-opacity="0.9"/><line x1="86.00" y1="100.19" x2="106.75" y2="77.18" stroke="#f0a020" stroke-width="0.8" stroke-opacity="0.9"/><line x1="86.00" y1="104.66" x2="106.75" y2="84.04" stroke="#e87818" stroke-width="0.8" stroke-opacity="0.9"/><line x1="86.00" y1="99.74" x2="106.75" y2="79.51" stroke="#f0a828" stroke-width="0.8" stroke-opacity="0.9"/><line x1="86.00" y1="103.83" x2="106.75" y2="79.69" stroke="#f0a020" stroke-width="0.8" stroke-opacity="0.9"/><line x1="86.00" y1="111.33" x2="106.75" y2="87.64" stroke="#f0b028" stroke-width="0.8" stroke-opacity="0.9"/><line x1="86.00" y1="95.00" x2="106.75" y2="77.59" stroke="#f8d820" stroke-width="0.8" stroke-opacity="0.9"/><line x1="86.00" y1="101.29" x2="106.75" y2="79.58" stroke="#f09020" stroke-width="0.8" stroke-opacity="0.9"/><line x1="86.00" y1="112.83" x2="106.75" y2="87.89" stroke="#f08020" stroke-width="0.8" stroke-opacity="0.9"/><line x1="86.00" y1="105.92" x2="106.75" y2="83.19" stroke="#f0a828" stroke-width="0.8" stroke-opacity="0.9"/><line x1="86.00" y1="95.29" x2="106.75" y2="76.47" stroke="#f0a020" stroke-width="0.8" stroke-opacity="0.9"/><line x1="86.00" y1="101.22" x2="106.75" y2="79.83" stroke="#f0b028" stroke-width="0.8" stroke-opacity="0.9"/><line x1="86.00" y1="95.52" x2="106.75" y2="78.02" stroke="#f8b820" stroke-width="0.8" stroke-opacity="0.9"/><line x1="86.00" y1="102.95" x2="106.75" y2="82.38" stroke="#f09020" stroke-width="0.8" stroke-opacity="0.9"/><line x1="86.00" y1="108.98" x2="106.75" y2="83.62" stroke="#f8d820" stroke-width="0.8" stroke-opacity="0.9"/><line x1="86.00" y1="96.93" x2="106.75" y2="78.97" stroke="#e88a18" stroke-width="0.8" stroke-opacity="0.9"/><line x1="86.00" y1="111.10" x2="106.75" y2="84.89" stroke="#f0e040" stroke-width="0.8" stroke-opacity="0.9"/><line x1="86.00" y1="108.96" x2="106.75" y2="87.45" stroke="#f8d030" stroke-width="0.8" stroke-opacity="0.9"/><line x1="86.00" y1="101.16" x2="106.75" y2="77.45" stroke="#f09020" stroke-width="0.8" stroke-opacity="0.9"/><line x1="86.00" y1="95.00" x2="106.75" y2="77.59" stroke="#e88a18" stroke-width="0.8" stroke-opacity="0.9"/><line x1="86.00" y1="111.56" x2="106.75" y2="87.32" stroke="#f09020" stroke-width="0.8" stroke-opacity="0.9"/><line x1="86.00" y1="105.16" x2="106.75" y2="84.96" stroke="#e87818" stroke-width="0.8" stroke-opacity="0.9"/><line x1="86.00" y1="112.30" x2="106.75" y2="90.00" stroke="#f0a828" stroke-width="0.8" stroke-opacity="0.9"/><line x1="86.00" y1="96.67" x2="106.75" y2="76.00" stroke="#f0a828" stroke-width="0.8" stroke-opacity="0.9"/><line x1="86.00" y1="109.30" x2="106.75" y2="86.35" stroke="#f8e830" stroke-width="0.8" stroke-opacity="0.9"/><line x1="86.00" y1="98.01" x2="106.75" y2="79.11" stroke="#f0e040" stroke-width="0.8" stroke-opacity="0.9"/><line x1="86.00" y1="112.99" x2="106.75" y2="89.52" stroke="#f09020" stroke-width="0.8" stroke-opacity="0.9"/><line x1="86.00" y1="111.20" x2="106.75" y2="87.66" stroke="#e87818" stroke-width="0.8" stroke-opacity="0.9"/><line x1="86.00" y1="110.29" x2="106.75" y2="85.50" stroke="#e88a18" stroke-width="0.8" stroke-opacity="0.9"/><line x1="86.00" y1="91.29" x2="106.75" y2="71.45" stroke="#f8b820" stroke-width="0.8" stroke-opacity="0.9"/><line x1="86.00" y1="93.93" x2="106.75" y2="78.68" stroke="#f09020" stroke-width="0.8" stroke-opacity="0.9"/><line x1="86.00" y1="85.00" x2="106.75" y2="67.18" stroke="#f09020" stroke-width="0.8" stroke-opacity="0.9"/><line x1="86.00" y1="89.27" x2="106.75" y2="69.46" stroke="#e87818" stroke-width="0.8" stroke-opacity="0.9"/><line x1="86.00" y1="88.27" x2="106.75" y2="66.02" stroke="#f08020" stroke-width="0.8" stroke-opacity="0.9"/><line x1="86.00" y1="95.92" x2="106.75" y2="78.99" stroke="#f0b028" stroke-width="0.8" stroke-opacity="0.9"/><line x1="86.00" y1="91.04" x2="106.75" y2="69.56" stroke="#e05020" stroke-width="0.8" stroke-opacity="0.9"/><line x1="86.00" y1="88.17" x2="106.75" y2="69.23" stroke="#f8b820" stroke-width="0.8" stroke-opacity="0.9"/><line x1="86.00" y1="85.34" x2="106.75" y2="66.00" stroke="#e87818" stroke-width="0.8" stroke-opacity="0.9"/><line x1="86.00" y1="103.00" x2="106.75" y2="83.00" stroke="#f08020" stroke-width="0.8" stroke-opacity="0.9"/><line x1="86.00" y1="100.56" x2="106.75" y2="78.94" stroke="#f08020" stroke-width="0.8" stroke-opacity="0.9"/><line x1="86.00" y1="88.96" x2="106.75" y2="69.00" stroke="#f0a020" stroke-width="0.8" stroke-opacity="0.9"/><line x1="86.00" y1="90.33" x2="106.75" y2="68.98" stroke="#f0a020" stroke-width="0.8" stroke-opacity="0.9"/><line x1="86.00" y1="99.30" x2="106.75" y2="83.00" stroke="#f0a828" stroke-width="0.8" stroke-opacity="0.9"/><line x1="86.00" y1="93.28" x2="106.75" y2="71.47" stroke="#f8b820" stroke-width="0.8" stroke-opacity="0.9"/><line x1="86.00" y1="91.50" x2="106.75" y2="72.36" stroke="#e87818" stroke-width="0.8" stroke-opacity="0.9"/><line x1="86.00" y1="94.33" x2="106.75" y2="72.64" stroke="#f0a020" stroke-width="0.8" stroke-opacity="0.9"/><line x1="86.00" y1="86.22" x2="106.75" y2="67.91" stroke="#f8b820" stroke-width="0.8" stroke-opacity="0.9"/><line x1="86.00" y1="88.36" x2="106.75" y2="66.00" stroke="#e87818" stroke-width="0.8" stroke-opacity="0.9"/><line x1="86.00" y1="93.28" x2="106.75" y2="76.18" stroke="#e87818" stroke-width="0.8" stroke-opacity="0.9"/><line x1="86.00" y1="85.03" x2="106.75" y2="66.03" stroke="#f0b028" stroke-width="0.8" stroke-opacity="0.9"/><line x1="86.00" y1="102.38" x2="106.75" y2="80.50" stroke="#f8b820" stroke-width="0.8" stroke-opacity="0.9"/><line x1="86.00" y1="94.69" x2="106.75" y2="73.02" stroke="#f8b820" stroke-width="0.8" stroke-opacity="0.9"/><line x1="86.00" y1="89.94" x2="106.75" y2="69.64" stroke="#f08020" stroke-width="0.8" stroke-opacity="0.9"/><line x1="86.00" y1="103.00" x2="106.75" y2="81.91" stroke="#f0a020" stroke-width="0.8" stroke-opacity="0.9"/><line x1="86.00" y1="92.97" x2="106.75" y2="74.66" stroke="#f08020" stroke-width="0.8" stroke-opacity="0.9"/><line x1="86.00" y1="91.65" x2="106.75" y2="74.81" stroke="#f08020" stroke-width="0.8" stroke-opacity="0.9"/><line x1="86.00" y1="93.39" x2="106.75" y2="72.52" stroke="#f0a020" stroke-width="0.8" stroke-opacity="0.9"/><line x1="86.00" y1="91.90" x2="106.75" y2="70.48" stroke="#f8b820" stroke-width="0.8" stroke-opacity="0.9"/><line x1="86.00" y1="103.00" x2="106.75" y2="83.00" stroke="#f09020" stroke-width="0.8" stroke-opacity="0.9"/><line x1="86.00" y1="95.94" x2="106.75" y2="76.33" stroke="#e05020" stroke-width="0.8" stroke-opacity="0.9"/><line x1="86.00" y1="86.05" x2="106.75" y2="66.69" stroke="#f8b820" stroke-width="0.8" stroke-opacity="0.9"/><line x1="86.00" y1="101.05" x2="106.75" y2="81.57" stroke="#f09020" stroke-width="0.8" stroke-opacity="0.9"/><line x1="86.00" y1="94.36" x2="106.75" y2="72.64" stroke="#e88a18" stroke-width="0.8" stroke-opacity="0.9"/><line x1="86.00" y1="87.06" x2="106.75" y2="70.11" stroke="#e88a18" stroke-width="0.8" stroke-opacity="0.9"/><line x1="86.00" y1="92.88" x2="106.75" y2="75.93" stroke="#f8b820" stroke-width="0.8" stroke-opacity="0.9"/><line x1="86.00" y1="98.32" x2="106.75" y2="78.59" stroke="#e88a18" stroke-width="0.8" stroke-opacity="0.9"/><line x1="86.00" y1="98.57" x2="106.75" y2="77.52" stroke="#e88a18" stroke-width="0.8" stroke-opacity="0.9"/><line x1="86.00" y1="89.23" x2="106.75" y2="74.00" stroke="#f0a020" stroke-width="0.8" stroke-opacity="0.9"/><line x1="86.00" y1="101.10" x2="106.75" y2="83.00" stroke="#e88a18" stroke-width="0.8" stroke-opacity="0.9"/><line x1="86.00" y1="94.53" x2="106.75" y2="74.04" stroke="#f0a020" stroke-width="0.8" stroke-opacity="0.9"/><line x1="86.00" y1="89.13" x2="106.75" y2="69.06" stroke="#f0a828" stroke-width="0.8" stroke-opacity="0.9"/><line x1="86.00" y1="85.34" x2="106.75" y2="67.25" stroke="#e87818" stroke-width="0.8" stroke-opacity="0.9"/><line x1="86.00" y1="87.14" x2="106.75" y2="66.00" stroke="#e88a18" stroke-width="0.8" stroke-opacity="0.9"/><line x1="86.00" y1="94.72" x2="106.75" y2="74.32" stroke="#f09020" stroke-width="0.8" stroke-opacity="0.9"/><line x1="86.00" y1="90.92" x2="106.75" y2="67.85" stroke="#e88a18" stroke-width="0.8" stroke-opacity="0.9"/><line x1="86.00" y1="100.97" x2="106.75" y2="81.81" stroke="#f0a020" stroke-width="0.8" stroke-opacity="0.9"/><line x1="86.00" y1="98.52" x2="106.75" y2="77.86" stroke="#e05020" stroke-width="0.8" stroke-opacity="0.9"/><line x1="86.00" y1="102.32" x2="106.75" y2="81.98" stroke="#f8b820" stroke-width="0.8" stroke-opacity="0.9"/><line x1="86.00" y1="87.40" x2="106.75" y2="67.97" stroke="#f8b820" stroke-width="0.8" stroke-opacity="0.9"/><line x1="86.00" y1="91.33" x2="106.75" y2="69.27" stroke="#f8b820" stroke-width="0.8" stroke-opacity="0.9"/><line x1="86.00" y1="88.82" x2="106.75" y2="71.21" stroke="#f09020" stroke-width="0.8" stroke-opacity="0.9"/><line x1="86.00" y1="89.09" x2="106.75" y2="70.02" stroke="#e85818" stroke-width="0.8" stroke-opacity="0.9"/><line x1="86.00" y1="100.55" x2="106.75" y2="81.42" stroke="#f8b820" stroke-width="0.8" stroke-opacity="0.9"/><line x1="86.00" y1="89.13" x2="106.75" y2="70.53" stroke="#f8b820" stroke-width="0.8" stroke-opacity="0.9"/><line x1="86.00" y1="102.18" x2="106.75" y2="78.13" stroke="#f0a020" stroke-width="0.8" stroke-opacity="0.9"/><line x1="86.00" y1="92.95" x2="106.75" y2="76.67" stroke="#e88a18" stroke-width="0.8" stroke-opacity="0.9"/><line x1="86.00" y1="92.19" x2="106.75" y2="75.21" stroke="#e04818" stroke-width="0.8" stroke-opacity="0.9"/><line x1="86.00" y1="88.56" x2="106.75" y2="67.02" stroke="#f0b028" stroke-width="0.8" stroke-opacity="0.9"/><line x1="86.00" y1="100.04" x2="106.75" y2="79.64" stroke="#f0a828" stroke-width="0.8" stroke-opacity="0.9"/><line x1="86.00" y1="89.78" x2="106.75" y2="69.02" stroke="#f0b028" stroke-width="0.8" stroke-opacity="0.9"/><line x1="86.00" y1="103.00" x2="106.75" y2="82.44" stroke="#e05020" stroke-width="0.8" stroke-opacity="0.9"/><line x1="86.00" y1="85.00" x2="106.75" y2="66.45" stroke="#e87818" stroke-width="0.8" stroke-opacity="0.9"/><line x1="86.00" y1="88.60" x2="106.75" y2="67.93" stroke="#e05020" stroke-width="0.8" stroke-opacity="0.9"/><line x1="86.00" y1="90.07" x2="106.75" y2="70.58" stroke="#f0a020" stroke-width="0.8" stroke-opacity="0.9"/><line x1="86.00" y1="94.66" x2="106.75" y2="75.21" stroke="#f0b028" stroke-width="0.8" stroke-opacity="0.9"/><line x1="86.00" y1="102.09" x2="106.75" y2="80.62" stroke="#f0a828" stroke-width="0.8" stroke-opacity="0.9"/><line x1="86.00" y1="100.65" x2="106.75" y2="79.89" stroke="#f0a828" stroke-width="0.8" stroke-opacity="0.9"/><line x1="86.00" y1="97.75" x2="106.75" y2="78.52" stroke="#f09020" stroke-width="0.8" stroke-opacity="0.9"/><line x1="86.00" y1="92.11" x2="106.75" y2="73.63" stroke="#f8b820" stroke-width="0.8" stroke-opacity="0.9"/><line x1="86.00" y1="95.12" x2="106.75" y2="74.35" stroke="#e05020" stroke-width="0.8" stroke-opacity="0.9"/><line x1="86.00" y1="89.06" x2="106.75" y2="67.39" stroke="#f8b820" stroke-width="0.8" stroke-opacity="0.9"/><line x1="86.00" y1="90.25" x2="106.75" y2="70.87" stroke="#f8b820" stroke-width="0.8" stroke-opacity="0.9"/><line x1="86.00" y1="97.12" x2="106.75" y2="79.10" stroke="#f0b028" stroke-width="0.8" stroke-opacity="0.9"/><line x1="86.00" y1="88.68" x2="106.75" y2="69.77" stroke="#f0a828" stroke-width="0.8" stroke-opacity="0.9"/><line x1="86.00" y1="86.65" x2="106.75" y2="63.52" stroke="#d01808" stroke-width="0.75" stroke-opacity="0.85"/><line x1="86.00" y1="83.66" x2="106.75" y2="61.83" stroke="#d82010" stroke-width="0.75" stroke-opacity="0.85"/><line x1="86.00" y1="89.65" x2="106.75" y2="67.39" stroke="#e02818" stroke-width="0.75" stroke-opacity="0.85"/><line x1="86.00" y1="86.39" x2="106.75" y2="64.89" stroke="#e85818" stroke-width="0.75" stroke-opacity="0.85"/><line x1="86.00" y1="84.03" x2="106.75" y2="61.41" stroke="#d01808" stroke-width="0.75" stroke-opacity="0.85"/><line x1="86.00" y1="87.42" x2="106.75" y2="66.00" stroke="#e02818" stroke-width="0.75" stroke-opacity="0.85"/><line x1="86.00" y1="88.11" x2="106.75" y2="65.70" stroke="#c81810" stroke-width="0.75" stroke-opacity="0.85"/><line x1="86.00" y1="87.84" x2="106.75" y2="67.36" stroke="#e04818" stroke-width="0.75" stroke-opacity="0.85"/><line x1="86.00" y1="116.83" x2="106.75" y2="92.00" stroke="#f8b820" stroke-width="0.8" stroke-opacity="0.9"/><line x1="86.00" y1="112.04" x2="106.75" y2="87.24" stroke="#f0a828" stroke-width="0.8" stroke-opacity="0.9"/><line x1="86.00" y1="114.45" x2="106.75" y2="89.34" stroke="#f0a828" stroke-width="0.8" stroke-opacity="0.9"/><line x1="86.00" y1="111.01" x2="106.75" y2="87.39" stroke="#f0a020" stroke-width="0.8" stroke-opacity="0.9"/><line x1="86.00" y1="114.85" x2="106.75" y2="89.27" stroke="#f0b028" stroke-width="0.8" stroke-opacity="0.9"/><line x1="86.00" y1="132.00" x2="106.75" y2="43.00" stroke="#2a2a2a" stroke-width="1.15" stroke-opacity="1"/><line x1="111.50" y1="84.00" x2="132.50" y2="28.00" stroke="#f4c4c4" stroke-width="0.6" stroke-opacity="0.8"/><line x1="111.50" y1="86.00" x2="132.50" y2="44.00" stroke="#f4c4c4" stroke-width="0.6" stroke-opacity="0.8"/><line x1="111.50" y1="109.18" x2="132.50" y2="85.11" stroke="#f0a020" stroke-width="0.8" stroke-opacity="0.9"/><line x1="111.50" y1="101.92" x2="132.50" y2="79.29" stroke="#f8d030" stroke-width="0.8" stroke-opacity="0.9"/><line x1="111.50" y1="113.81" x2="132.50" y2="85.42" stroke="#f0e040" stroke-width="0.8" stroke-opacity="0.9"/><line x1="111.50" y1="118.00" x2="132.50" y2="89.56" stroke="#f8e830" stroke-width="0.8" stroke-opacity="0.9"/><line x1="111.50" y1="108.90" x2="132.50" y2="86.04" stroke="#f09020" stroke-width="0.8" stroke-opacity="0.9"/><line x1="111.50" y1="115.95" x2="132.50" y2="88.44" stroke="#f0b028" stroke-width="0.8" stroke-opacity="0.9"/><line x1="111.50" y1="109.11" x2="132.50" y2="85.45" stroke="#f0a020" stroke-width="0.8" stroke-opacity="0.9"/><line x1="111.50" y1="103.38" x2="132.50" y2="77.52" stroke="#f0b028" stroke-width="0.8" stroke-opacity="0.9"/><line x1="111.50" y1="114.79" x2="132.50" y2="88.81" stroke="#e87818" stroke-width="0.8" stroke-opacity="0.9"/><line x1="111.50" y1="112.20" x2="132.50" y2="83.34" stroke="#f8e830" stroke-width="0.8" stroke-opacity="0.9"/><line x1="111.50" y1="107.89" x2="132.50" y2="83.81" stroke="#f8d820" stroke-width="0.8" stroke-opacity="0.9"/><line x1="111.50" y1="106.36" x2="132.50" y2="80.58" stroke="#f8d820" stroke-width="0.8" stroke-opacity="0.9"/><line x1="111.50" y1="114.88" x2="132.50" y2="87.76" stroke="#f8d030" stroke-width="0.8" stroke-opacity="0.9"/><line x1="111.50" y1="113.34" x2="132.50" y2="87.06" stroke="#f8d820" stroke-width="0.8" stroke-opacity="0.9"/><line x1="111.50" y1="104.85" x2="132.50" y2="76.06" stroke="#f0a020" stroke-width="0.8" stroke-opacity="0.9"/><line x1="111.50" y1="107.47" x2="132.50" y2="81.56" stroke="#f08020" stroke-width="0.8" stroke-opacity="0.9"/><line x1="111.50" y1="100.00" x2="132.50" y2="76.00" stroke="#f0a828" stroke-width="0.8" stroke-opacity="0.9"/><line x1="111.50" y1="114.66" x2="132.50" y2="89.53" stroke="#f0a020" stroke-width="0.8" stroke-opacity="0.9"/><line x1="111.50" y1="116.42" x2="132.50" y2="88.34" stroke="#f08020" stroke-width="0.8" stroke-opacity="0.9"/><line x1="111.50" y1="103.58" x2="132.50" y2="79.06" stroke="#f09020" stroke-width="0.8" stroke-opacity="0.9"/><line x1="111.50" y1="100.00" x2="132.50" y2="77.85" stroke="#f09020" stroke-width="0.8" stroke-opacity="0.9"/><line x1="111.50" y1="111.58" x2="132.50" y2="86.01" stroke="#f0a020" stroke-width="0.8" stroke-opacity="0.9"/><line x1="111.50" y1="105.43" x2="132.50" y2="84.26" stroke="#f0a020" stroke-width="0.8" stroke-opacity="0.9"/><line x1="111.50" y1="108.38" x2="132.50" y2="82.82" stroke="#e87818" stroke-width="0.8" stroke-opacity="0.9"/><line x1="111.50" y1="114.74" x2="132.50" y2="85.23" stroke="#f0a020" stroke-width="0.8" stroke-opacity="0.9"/><line x1="111.50" y1="105.36" x2="132.50" y2="81.42" stroke="#f0a020" stroke-width="0.8" stroke-opacity="0.9"/><line x1="111.50" y1="109.08" x2="132.50" y2="84.93" stroke="#f0e040" stroke-width="0.8" stroke-opacity="0.9"/><line x1="111.50" y1="112.62" x2="132.50" y2="84.39" stroke="#f0a020" stroke-width="0.8" stroke-opacity="0.9"/><line x1="111.50" y1="112.75" x2="132.50" y2="88.42" stroke="#f09020" stroke-width="0.8" stroke-opacity="0.9"/><line x1="111.50" y1="117.52" x2="132.50" y2="90.32" stroke="#f0b028" stroke-width="0.8" stroke-opacity="0.9"/><line x1="111.50" y1="101.34" x2="132.50" y2="79.02" stroke="#f09020" stroke-width="0.8" stroke-opacity="0.9"/><line x1="111.50" y1="100.00" x2="132.50" y2="77.06" stroke="#f0b028" stroke-width="0.8" stroke-opacity="0.9"/><line x1="111.50" y1="118.00" x2="132.50" y2="89.53" stroke="#f0b028" stroke-width="0.8" stroke-opacity="0.9"/><line x1="111.50" y1="100.00" x2="132.50" y2="78.92" stroke="#f0a828" stroke-width="0.8" stroke-opacity="0.9"/><line x1="111.50" y1="109.43" x2="132.50" y2="84.66" stroke="#f8e830" stroke-width="0.8" stroke-opacity="0.9"/><line x1="111.50" y1="115.09" x2="132.50" y2="89.21" stroke="#e88a18" stroke-width="0.8" stroke-opacity="0.9"/><line x1="111.50" y1="112.55" x2="132.50" y2="87.65" stroke="#f8d030" stroke-width="0.8" stroke-opacity="0.9"/><line x1="111.50" y1="110.63" x2="132.50" y2="81.80" stroke="#f0a020" stroke-width="0.8" stroke-opacity="0.9"/><line x1="111.50" y1="110.27" x2="132.50" y2="84.57" stroke="#f09020" stroke-width="0.8" stroke-opacity="0.9"/><line x1="111.50" y1="113.00" x2="132.50" y2="85.80" stroke="#f8d820" stroke-width="0.8" stroke-opacity="0.9"/><line x1="111.50" y1="111.33" x2="132.50" y2="88.57" stroke="#f8d030" stroke-width="0.8" stroke-opacity="0.9"/><line x1="111.50" y1="109.97" x2="132.50" y2="87.15" stroke="#e88a18" stroke-width="0.8" stroke-opacity="0.9"/><line x1="111.50" y1="108.85" x2="132.50" y2="80.98" stroke="#f0b028" stroke-width="0.8" stroke-opacity="0.9"/><line x1="111.50" y1="107.32" x2="132.50" y2="82.03" stroke="#f0e040" stroke-width="0.8" stroke-opacity="0.9"/><line x1="111.50" y1="110.09" x2="132.50" y2="82.94" stroke="#f8d820" stroke-width="0.8" stroke-opacity="0.9"/><line x1="111.50" y1="105.90" x2="132.50" y2="78.17" stroke="#e87818" stroke-width="0.8" stroke-opacity="0.9"/><line x1="111.50" y1="103.01" x2="132.50" y2="77.96" stroke="#f8b820" stroke-width="0.8" stroke-opacity="0.9"/><line x1="111.50" y1="96.64" x2="132.50" y2="72.98" stroke="#f09020" stroke-width="0.8" stroke-opacity="0.9"/><line x1="111.50" y1="100.42" x2="132.50" y2="75.17" stroke="#e88a18" stroke-width="0.8" stroke-opacity="0.9"/><line x1="111.50" y1="98.07" x2="132.50" y2="71.55" stroke="#e88a18" stroke-width="0.8" stroke-opacity="0.9"/><line x1="111.50" y1="104.59" x2="132.50" y2="76.82" stroke="#e04818" stroke-width="0.8" stroke-opacity="0.9"/><line x1="111.50" y1="92.47" x2="132.50" y2="71.28" stroke="#e87818" stroke-width="0.8" stroke-opacity="0.9"/><line x1="111.50" y1="92.80" x2="132.50" y2="71.52" stroke="#f8b820" stroke-width="0.8" stroke-opacity="0.9"/><line x1="111.50" y1="95.08" x2="132.50" y2="67.96" stroke="#f0b028" stroke-width="0.8" stroke-opacity="0.9"/><line x1="111.50" y1="105.98" x2="132.50" y2="76.41" stroke="#f08020" stroke-width="0.8" stroke-opacity="0.9"/><line x1="111.50" y1="100.24" x2="132.50" y2="73.59" stroke="#e88a18" stroke-width="0.8" stroke-opacity="0.9"/><line x1="111.50" y1="92.71" x2="132.50" y2="68.84" stroke="#e88a18" stroke-width="0.8" stroke-opacity="0.9"/><line x1="111.50" y1="108.99" x2="132.50" y2="79.36" stroke="#e05020" stroke-width="0.8" stroke-opacity="0.9"/><line x1="111.50" y1="96.06" x2="132.50" y2="74.59" stroke="#f08020" stroke-width="0.8" stroke-opacity="0.9"/><line x1="111.50" y1="94.39" x2="132.50" y2="70.39" stroke="#f0b028" stroke-width="0.8" stroke-opacity="0.9"/><line x1="111.50" y1="95.78" x2="132.50" y2="67.86" stroke="#e88a18" stroke-width="0.8" stroke-opacity="0.9"/><line x1="111.50" y1="91.03" x2="132.50" y2="68.31" stroke="#e85818" stroke-width="0.8" stroke-opacity="0.9"/><line x1="111.50" y1="100.25" x2="132.50" y2="76.90" stroke="#f09020" stroke-width="0.8" stroke-opacity="0.9"/><line x1="111.50" y1="96.83" x2="132.50" y2="68.13" stroke="#f08020" stroke-width="0.8" stroke-opacity="0.9"/><line x1="111.50" y1="96.57" x2="132.50" y2="68.17" stroke="#e85818" stroke-width="0.8" stroke-opacity="0.9"/><line x1="111.50" y1="100.56" x2="132.50" y2="75.66" stroke="#e87818" stroke-width="0.8" stroke-opacity="0.9"/><line x1="111.50" y1="89.12" x2="132.50" y2="67.31" stroke="#f8b820" stroke-width="0.8" stroke-opacity="0.9"/><line x1="111.50" y1="99.64" x2="132.50" y2="71.71" stroke="#e04818" stroke-width="0.8" stroke-opacity="0.9"/><line x1="111.50" y1="100.76" x2="132.50" y2="73.63" stroke="#f8b820" stroke-width="0.8" stroke-opacity="0.9"/><line x1="111.50" y1="107.68" x2="132.50" y2="80.32" stroke="#e88a18" stroke-width="0.8" stroke-opacity="0.9"/><line x1="111.50" y1="109.12" x2="132.50" y2="80.91" stroke="#e87818" stroke-width="0.8" stroke-opacity="0.9"/><line x1="111.50" y1="103.04" x2="132.50" y2="74.44" stroke="#f08020" stroke-width="0.8" stroke-opacity="0.9"/><line x1="111.50" y1="108.00" x2="132.50" y2="83.78" stroke="#f08020" stroke-width="0.8" stroke-opacity="0.9"/><line x1="111.50" y1="94.81" x2="132.50" y2="69.29" stroke="#f0a828" stroke-width="0.8" stroke-opacity="0.9"/><line x1="111.50" y1="97.64" x2="132.50" y2="75.84" stroke="#e85818" stroke-width="0.8" stroke-opacity="0.9"/><line x1="111.50" y1="110.00" x2="132.50" y2="81.53" stroke="#e87818" stroke-width="0.8" stroke-opacity="0.9"/><line x1="111.50" y1="110.00" x2="132.50" y2="80.00" stroke="#f0b028" stroke-width="0.8" stroke-opacity="0.9"/><line x1="111.50" y1="110.00" x2="132.50" y2="79.14" stroke="#f0b028" stroke-width="0.8" stroke-opacity="0.9"/><line x1="111.50" y1="104.83" x2="132.50" y2="80.96" stroke="#e87818" stroke-width="0.8" stroke-opacity="0.9"/><line x1="111.50" y1="89.97" x2="132.50" y2="63.00" stroke="#e88a18" stroke-width="0.8" stroke-opacity="0.9"/><line x1="111.50" y1="101.95" x2="132.50" y2="77.79" stroke="#f0a828" stroke-width="0.8" stroke-opacity="0.9"/><line x1="111.50" y1="90.10" x2="132.50" y2="63.68" stroke="#f08020" stroke-width="0.8" stroke-opacity="0.9"/><line x1="111.50" y1="96.12" x2="132.50" y2="70.51" stroke="#f09020" stroke-width="0.8" stroke-opacity="0.9"/><line x1="111.50" y1="110.00" x2="132.50" y2="82.00" stroke="#e88a18" stroke-width="0.8" stroke-opacity="0.9"/><line x1="111.50" y1="103.61" x2="132.50" y2="81.87" stroke="#f08020" stroke-width="0.8" stroke-opacity="0.9"/><line x1="111.50" y1="110.00" x2="132.50" y2="84.00" stroke="#f09020" stroke-width="0.8" stroke-opacity="0.9"/><line x1="111.50" y1="108.23" x2="132.50" y2="82.03" stroke="#e05020" stroke-width="0.8" stroke-opacity="0.9"/><line x1="111.50" y1="107.50" x2="132.50" y2="80.39" stroke="#e85818" stroke-width="0.8" stroke-opacity="0.9"/><line x1="111.50" y1="94.10" x2="132.50" y2="67.35" stroke="#e85818" stroke-width="0.8" stroke-opacity="0.9"/><line x1="111.50" y1="90.24" x2="132.50" y2="63.21" stroke="#f0a020" stroke-width="0.8" stroke-opacity="0.9"/><line x1="111.50" y1="98.38" x2="132.50" y2="76.96" stroke="#e04818" stroke-width="0.8" stroke-opacity="0.9"/><line x1="111.50" y1="96.19" x2="132.50" y2="68.79" stroke="#f8b820" stroke-width="0.8" stroke-opacity="0.9"/><line x1="111.50" y1="105.59" x2="132.50" y2="78.54" stroke="#f0a020" stroke-width="0.8" stroke-opacity="0.9"/><line x1="111.50" y1="91.02" x2="132.50" y2="65.18" stroke="#f09020" stroke-width="0.8" stroke-opacity="0.9"/><line x1="111.50" y1="106.76" x2="132.50" y2="84.00" stroke="#f0a828" stroke-width="0.8" stroke-opacity="0.9"/><line x1="111.50" y1="108.81" x2="132.50" y2="84.00" stroke="#f08020" stroke-width="0.8" stroke-opacity="0.9"/><line x1="111.50" y1="92.53" x2="132.50" y2="67.56" stroke="#e04818" stroke-width="0.8" stroke-opacity="0.9"/><line x1="111.50" y1="110.00" x2="132.50" y2="81.42" stroke="#e04818" stroke-width="0.8" stroke-opacity="0.9"/><line x1="111.50" y1="95.60" x2="132.50" y2="73.82" stroke="#e04818" stroke-width="0.8" stroke-opacity="0.9"/><line x1="111.50" y1="92.91" x2="132.50" y2="65.67" stroke="#f0b028" stroke-width="0.8" stroke-opacity="0.9"/><line x1="111.50" y1="93.89" x2="132.50" y2="67.02" stroke="#f0b028" stroke-width="0.8" stroke-opacity="0.9"/><line x1="111.50" y1="94.13" x2="132.50" y2="66.12" stroke="#e05020" stroke-width="0.8" stroke-opacity="0.9"/><line x1="111.50" y1="94.03" x2="132.50" y2="65.30" stroke="#f09020" stroke-width="0.8" stroke-opacity="0.9"/><line x1="111.50" y1="98.26" x2="132.50" y2="71.91" stroke="#f8b820" stroke-width="0.8" stroke-opacity="0.9"/><line x1="111.50" y1="89.00" x2="132.50" y2="65.35" stroke="#f0a020" stroke-width="0.8" stroke-opacity="0.9"/><line x1="111.50" y1="102.94" x2="132.50" y2="76.70" stroke="#f0a828" stroke-width="0.8" stroke-opacity="0.9"/><line x1="111.50" y1="105.83" x2="132.50" y2="78.39" stroke="#e88a18" stroke-width="0.8" stroke-opacity="0.9"/><line x1="111.50" y1="90.42" x2="132.50" y2="63.33" stroke="#e87818" stroke-width="0.8" stroke-opacity="0.9"/><line x1="111.50" y1="98.93" x2="132.50" y2="72.51" stroke="#f0a828" stroke-width="0.8" stroke-opacity="0.9"/><line x1="111.50" y1="107.11" x2="132.50" y2="78.10" stroke="#f0a020" stroke-width="0.8" stroke-opacity="0.9"/><line x1="111.50" y1="92.84" x2="132.50" y2="64.21" stroke="#f8b820" stroke-width="0.8" stroke-opacity="0.9"/><line x1="111.50" y1="105.63" x2="132.50" y2="78.34" stroke="#e85818" stroke-width="0.8" stroke-opacity="0.9"/><line x1="111.50" y1="103.33" x2="132.50" y2="74.17" stroke="#f0a020" stroke-width="0.8" stroke-opacity="0.9"/><line x1="111.50" y1="106.64" x2="132.50" y2="82.44" stroke="#e88a18" stroke-width="0.8" stroke-opacity="0.9"/><line x1="111.50" y1="108.45" x2="132.50" y2="79.02" stroke="#e05020" stroke-width="0.8" stroke-opacity="0.9"/><line x1="111.50" y1="103.61" x2="132.50" y2="73.79" stroke="#f08020" stroke-width="0.8" stroke-opacity="0.9"/><line x1="111.50" y1="109.00" x2="132.50" y2="83.12" stroke="#f0b028" stroke-width="0.8" stroke-opacity="0.9"/><line x1="111.50" y1="103.59" x2="132.50" y2="78.28" stroke="#f08020" stroke-width="0.8" stroke-opacity="0.9"/><line x1="111.50" y1="91.70" x2="132.50" y2="65.19" stroke="#e04818" stroke-width="0.8" stroke-opacity="0.9"/><line x1="111.50" y1="103.53" x2="132.50" y2="71.64" stroke="#e88a18" stroke-width="0.8" stroke-opacity="0.9"/><line x1="111.50" y1="90.26" x2="132.50" y2="60.33" stroke="#e87818" stroke-width="0.8" stroke-opacity="0.9"/><line x1="111.50" y1="92.25" x2="132.50" y2="61.44" stroke="#e02818" stroke-width="0.8" stroke-opacity="0.9"/><line x1="111.50" y1="92.23" x2="132.50" y2="63.64" stroke="#e87818" stroke-width="0.8" stroke-opacity="0.9"/><line x1="111.50" y1="92.98" x2="132.50" y2="62.16" stroke="#e02818" stroke-width="0.8" stroke-opacity="0.9"/><line x1="111.50" y1="89.67" x2="132.50" y2="61.77" stroke="#c81810" stroke-width="0.8" stroke-opacity="0.9"/><line x1="111.50" y1="88.52" x2="132.50" y2="59.43" stroke="#d01808" stroke-width="0.8" stroke-opacity="0.9"/><line x1="111.50" y1="94.23" x2="132.50" y2="67.88" stroke="#e05020" stroke-width="0.8" stroke-opacity="0.9"/><line x1="111.50" y1="92.65" x2="132.50" y2="62.04" stroke="#d82010" stroke-width="0.8" stroke-opacity="0.9"/><line x1="111.50" y1="93.56" x2="132.50" y2="64.69" stroke="#e85818" stroke-width="0.8" stroke-opacity="0.9"/><line x1="111.50" y1="94.37" x2="132.50" y2="65.08" stroke="#e85818" stroke-width="0.8" stroke-opacity="0.9"/><line x1="111.50" y1="95.27" x2="132.50" y2="64.49" stroke="#f08020" stroke-width="0.8" stroke-opacity="0.9"/><line x1="111.50" y1="88.81" x2="132.50" y2="58.13" stroke="#e05020" stroke-width="0.8" stroke-opacity="0.9"/><line x1="111.50" y1="91.65" x2="132.50" y2="63.00" stroke="#d01808" stroke-width="0.8" stroke-opacity="0.9"/><line x1="111.50" y1="87.44" x2="132.50" y2="57.78" stroke="#d82010" stroke-width="0.8" stroke-opacity="0.9"/><line x1="111.50" y1="137.00" x2="132.50" y2="116.00" stroke="#e88050" stroke-width="0.7" stroke-opacity="0.9"/><line x1="111.50" y1="125.00" x2="132.50" y2="107.00" stroke="#e89070" stroke-width="0.7" stroke-opacity="0.9"/><line x1="111.50" y1="120.00" x2="132.50" y2="100.00" stroke="#f0a070" stroke-width="0.7" stroke-opacity="0.9"/><line x1="111.50" y1="140.00" x2="132.50" y2="37.00" stroke="#2a2a2a" stroke-width="1.15" stroke-opacity="1"/><line x1="137.00" y1="95.66" x2="158.75" y2="75.84" stroke="#f8d030" stroke-width="0.8" stroke-opacity="0.9"/><line x1="137.00" y1="99.49" x2="158.75" y2="87.93" stroke="#f8d030" stroke-width="0.8" stroke-opacity="0.9"/><line x1="137.00" y1="93.95" x2="158.75" y2="72.30" stroke="#f8d030" stroke-width="0.8" stroke-opacity="0.9"/><line x1="137.00" y1="109.15" x2="158.75" y2="90.73" stroke="#f8d030" stroke-width="0.8" stroke-opacity="0.9"/><line x1="137.00" y1="89.00" x2="158.75" y2="70.00" stroke="#e87818" stroke-width="0.8" stroke-opacity="0.9"/><line x1="137.00" y1="107.78" x2="158.75" y2="81.10" stroke="#f0a020" stroke-width="0.8" stroke-opacity="0.9"/><line x1="137.00" y1="97.17" x2="158.75" y2="76.47" stroke="#f8d030" stroke-width="0.8" stroke-opacity="0.9"/><line x1="137.00" y1="103.66" x2="158.75" y2="85.11" stroke="#e04818" stroke-width="0.8" stroke-opacity="0.9"/><line x1="137.00" y1="119.16" x2="158.75" y2="98.06" stroke="#f8d030" stroke-width="0.8" stroke-opacity="0.9"/><line x1="137.00" y1="97.76" x2="158.75" y2="76.90" stroke="#e88a18" stroke-width="0.8" stroke-opacity="0.9"/><line x1="137.00" y1="115.67" x2="158.75" y2="90.16" stroke="#f0a828" stroke-width="0.8" stroke-opacity="0.9"/><line x1="137.00" y1="109.82" x2="158.75" y2="89.65" stroke="#e88a18" stroke-width="0.8" stroke-opacity="0.9"/><line x1="137.00" y1="105.78" x2="158.75" y2="89.98" stroke="#f0a020" stroke-width="0.8" stroke-opacity="0.9"/><line x1="137.00" y1="108.92" x2="158.75" y2="86.68" stroke="#e88a18" stroke-width="0.8" stroke-opacity="0.9"/><line x1="137.00" y1="96.93" x2="158.75" y2="80.42" stroke="#e85818" stroke-width="0.8" stroke-opacity="0.9"/><line x1="137.00" y1="106.28" x2="158.75" y2="78.85" stroke="#e88a18" stroke-width="0.8" stroke-opacity="0.9"/><line x1="137.00" y1="97.96" x2="158.75" y2="77.65" stroke="#f8d030" stroke-width="0.8" stroke-opacity="0.9"/><line x1="137.00" y1="119.56" x2="158.75" y2="100.00" stroke="#f09020" stroke-width="0.8" stroke-opacity="0.9"/><line x1="137.00" y1="108.24" x2="158.75" y2="85.17" stroke="#e05020" stroke-width="0.8" stroke-opacity="0.9"/><line x1="137.00" y1="89.94" x2="158.75" y2="71.32" stroke="#f8d820" stroke-width="0.8" stroke-opacity="0.9"/><line x1="137.00" y1="114.38" x2="158.75" y2="97.29" stroke="#e05020" stroke-width="0.8" stroke-opacity="0.9"/><line x1="137.00" y1="109.95" x2="158.75" y2="90.69" stroke="#f0b028" stroke-width="0.8" stroke-opacity="0.9"/><line x1="137.00" y1="90.69" x2="158.75" y2="75.21" stroke="#f0a020" stroke-width="0.8" stroke-opacity="0.9"/><line x1="137.00" y1="116.28" x2="158.75" y2="96.78" stroke="#f8d820" stroke-width="0.8" stroke-opacity="0.9"/><line x1="137.00" y1="122.00" x2="158.75" y2="95.58" stroke="#e05020" stroke-width="0.8" stroke-opacity="0.9"/><line x1="137.00" y1="116.49" x2="158.75" y2="87.90" stroke="#f0e040" stroke-width="0.8" stroke-opacity="0.9"/><line x1="137.00" y1="91.52" x2="158.75" y2="73.55" stroke="#f08020" stroke-width="0.8" stroke-opacity="0.9"/><line x1="137.00" y1="110.01" x2="158.75" y2="85.58" stroke="#f8b820" stroke-width="0.8" stroke-opacity="0.9"/><line x1="137.00" y1="114.86" x2="158.75" y2="96.59" stroke="#f08020" stroke-width="0.8" stroke-opacity="0.9"/><line x1="137.00" y1="101.05" x2="158.75" y2="81.01" stroke="#f8d820" stroke-width="0.8" stroke-opacity="0.9"/><line x1="137.00" y1="99.18" x2="158.75" y2="80.81" stroke="#e85818" stroke-width="0.8" stroke-opacity="0.9"/><line x1="137.00" y1="99.93" x2="158.75" y2="84.12" stroke="#f0e040" stroke-width="0.8" stroke-opacity="0.9"/><line x1="137.00" y1="120.48" x2="158.75" y2="97.89" stroke="#e04818" stroke-width="0.8" stroke-opacity="0.9"/><line x1="137.00" y1="95.52" x2="158.75" y2="79.80" stroke="#e85818" stroke-width="0.8" stroke-opacity="0.9"/><line x1="137.00" y1="99.84" x2="158.75" y2="75.43" stroke="#f0e040" stroke-width="0.8" stroke-opacity="0.9"/><line x1="137.00" y1="106.52" x2="158.75" y2="86.67" stroke="#f8b820" stroke-width="0.8" stroke-opacity="0.9"/><line x1="137.00" y1="122.00" x2="158.75" y2="92.47" stroke="#f0a020" stroke-width="0.8" stroke-opacity="0.9"/><line x1="137.00" y1="107.62" x2="158.75" y2="90.73" stroke="#f8e830" stroke-width="0.8" stroke-opacity="0.9"/><line x1="137.00" y1="100.50" x2="158.75" y2="78.81" stroke="#f0e040" stroke-width="0.8" stroke-opacity="0.9"/><line x1="137.00" y1="107.90" x2="158.75" y2="84.52" stroke="#f0b028" stroke-width="0.8" stroke-opacity="0.9"/><line x1="137.00" y1="92.09" x2="158.75" y2="70.80" stroke="#e87818" stroke-width="0.8" stroke-opacity="0.9"/><line x1="137.00" y1="111.57" x2="158.75" y2="86.69" stroke="#f0b028" stroke-width="0.8" stroke-opacity="0.9"/><line x1="137.00" y1="107.00" x2="158.75" y2="88.88" stroke="#f09020" stroke-width="0.8" stroke-opacity="0.9"/><line x1="137.00" y1="122.00" x2="158.75" y2="96.28" stroke="#f0a828" stroke-width="0.8" stroke-opacity="0.9"/><line x1="137.00" y1="118.27" x2="158.75" y2="93.81" stroke="#f8d820" stroke-width="0.8" stroke-opacity="0.9"/><line x1="137.00" y1="109.62" x2="158.75" y2="82.94" stroke="#f0b028" stroke-width="0.8" stroke-opacity="0.9"/><line x1="137.00" y1="96.89" x2="158.75" y2="79.30" stroke="#f09020" stroke-width="0.8" stroke-opacity="0.9"/><line x1="137.00" y1="96.55" x2="158.75" y2="75.02" stroke="#f0e040" stroke-width="0.8" stroke-opacity="0.9"/><line x1="137.00" y1="119.96" x2="158.75" y2="100.00" stroke="#e05020" stroke-width="0.8" stroke-opacity="0.9"/><line x1="137.00" y1="92.08" x2="158.75" y2="74.80" stroke="#e04818" stroke-width="0.8" stroke-opacity="0.9"/><line x1="137.00" y1="117.61" x2="158.75" y2="92.84" stroke="#e85818" stroke-width="0.8" stroke-opacity="0.9"/><line x1="137.00" y1="107.45" x2="158.75" y2="92.54" stroke="#e05020" stroke-width="0.8" stroke-opacity="0.9"/><line x1="137.00" y1="114.75" x2="158.75" y2="87.28" stroke="#e87818" stroke-width="0.8" stroke-opacity="0.9"/><line x1="137.00" y1="101.01" x2="158.75" y2="74.74" stroke="#f0a020" stroke-width="0.8" stroke-opacity="0.9"/><line x1="137.00" y1="98.14" x2="158.75" y2="77.57" stroke="#e87818" stroke-width="0.8" stroke-opacity="0.9"/><line x1="137.00" y1="95.47" x2="158.75" y2="76.38" stroke="#f0a020" stroke-width="0.8" stroke-opacity="0.9"/><line x1="137.00" y1="121.66" x2="158.75" y2="96.26" stroke="#f09020" stroke-width="0.8" stroke-opacity="0.9"/><line x1="137.00" y1="107.08" x2="158.75" y2="83.83" stroke="#f09020" stroke-width="0.8" stroke-opacity="0.9"/><line x1="137.00" y1="106.20" x2="158.75" y2="81.31" stroke="#f08020" stroke-width="0.8" stroke-opacity="0.9"/><line x1="137.00" y1="94.85" x2="158.75" y2="78.02" stroke="#e85818" stroke-width="0.8" stroke-opacity="0.9"/><line x1="137.00" y1="106.18" x2="158.75" y2="84.27" stroke="#e05020" stroke-width="0.8" stroke-opacity="0.9"/><line x1="137.00" y1="112.68" x2="158.75" y2="95.06" stroke="#f0b028" stroke-width="0.8" stroke-opacity="0.9"/><line x1="137.00" y1="93.47" x2="158.75" y2="79.42" stroke="#f0e040" stroke-width="0.8" stroke-opacity="0.9"/><line x1="137.00" y1="119.64" x2="158.75" y2="95.76" stroke="#f0a828" stroke-width="0.8" stroke-opacity="0.9"/><line x1="137.00" y1="104.84" x2="158.75" y2="86.20" stroke="#f8b820" stroke-width="0.8" stroke-opacity="0.9"/><line x1="137.00" y1="112.78" x2="158.75" y2="86.94" stroke="#e85818" stroke-width="0.8" stroke-opacity="0.9"/><line x1="137.00" y1="94.12" x2="158.75" y2="74.08" stroke="#e85818" stroke-width="0.8" stroke-opacity="0.9"/><line x1="137.00" y1="115.37" x2="158.75" y2="99.23" stroke="#f0e040" stroke-width="0.8" stroke-opacity="0.9"/><line x1="137.00" y1="103.22" x2="158.75" y2="81.43" stroke="#f8d030" stroke-width="0.8" stroke-opacity="0.9"/><line x1="137.00" y1="109.81" x2="158.75" y2="82.55" stroke="#f8b820" stroke-width="0.8" stroke-opacity="0.9"/><line x1="137.00" y1="112.11" x2="158.75" y2="89.47" stroke="#f8b820" stroke-width="0.8" stroke-opacity="0.9"/><line x1="137.00" y1="117.73" x2="158.75" y2="98.89" stroke="#e88a18" stroke-width="0.8" stroke-opacity="0.9"/><line x1="137.00" y1="89.00" x2="158.75" y2="71.54" stroke="#e87818" stroke-width="0.8" stroke-opacity="0.9"/><line x1="137.00" y1="118.99" x2="158.75" y2="99.70" stroke="#f08020" stroke-width="0.8" stroke-opacity="0.9"/><line x1="137.00" y1="103.73" x2="158.75" y2="78.57" stroke="#e05020" stroke-width="0.8" stroke-opacity="0.9"/><line x1="137.00" y1="89.00" x2="158.75" y2="74.90" stroke="#f0b028" stroke-width="0.8" stroke-opacity="0.9"/><line x1="137.00" y1="106.16" x2="158.75" y2="86.32" stroke="#f0b028" stroke-width="0.8" stroke-opacity="0.9"/><line x1="137.00" y1="92.22" x2="158.75" y2="78.59" stroke="#f0b028" stroke-width="0.8" stroke-opacity="0.9"/><line x1="137.00" y1="113.00" x2="158.75" y2="90.81" stroke="#e88a18" stroke-width="0.8" stroke-opacity="0.9"/><line x1="137.00" y1="101.22" x2="158.75" y2="74.74" stroke="#f0a828" stroke-width="0.8" stroke-opacity="0.9"/><line x1="137.00" y1="107.33" x2="158.75" y2="81.67" stroke="#f0b028" stroke-width="0.8" stroke-opacity="0.9"/><line x1="137.00" y1="102.85" x2="158.75" y2="79.48" stroke="#e85818" stroke-width="0.8" stroke-opacity="0.9"/><line x1="137.00" y1="100.33" x2="158.75" y2="76.29" stroke="#e88a18" stroke-width="0.8" stroke-opacity="0.9"/><line x1="137.00" y1="119.06" x2="158.75" y2="99.73" stroke="#f0a020" stroke-width="0.8" stroke-opacity="0.9"/><line x1="137.00" y1="108.08" x2="158.75" y2="92.29" stroke="#e04818" stroke-width="0.8" stroke-opacity="0.9"/><line x1="137.00" y1="98.20" x2="158.75" y2="74.80" stroke="#f0e040" stroke-width="0.8" stroke-opacity="0.9"/><line x1="137.00" y1="115.53" x2="158.75" y2="88.84" stroke="#f0e040" stroke-width="0.8" stroke-opacity="0.9"/><line x1="137.00" y1="100.61" x2="158.75" y2="77.08" stroke="#e05020" stroke-width="0.8" stroke-opacity="0.9"/><line x1="137.00" y1="109.19" x2="158.75" y2="87.18" stroke="#f8d820" stroke-width="0.8" stroke-opacity="0.9"/><line x1="137.00" y1="89.00" x2="158.75" y2="75.74" stroke="#f0b028" stroke-width="0.8" stroke-opacity="0.9"/><line x1="137.00" y1="99.09" x2="158.75" y2="71.76" stroke="#f8d030" stroke-width="0.8" stroke-opacity="0.9"/><line x1="137.00" y1="100.93" x2="158.75" y2="79.02" stroke="#f08020" stroke-width="0.8" stroke-opacity="0.9"/><line x1="137.00" y1="108.64" x2="158.75" y2="89.66" stroke="#f0e040" stroke-width="0.8" stroke-opacity="0.9"/><line x1="137.00" y1="110.50" x2="158.75" y2="90.63" stroke="#f8d030" stroke-width="0.8" stroke-opacity="0.9"/><line x1="137.00" y1="105.59" x2="158.75" y2="85.09" stroke="#f0e040" stroke-width="0.8" stroke-opacity="0.9"/><line x1="137.00" y1="91.15" x2="158.75" y2="70.00" stroke="#e05020" stroke-width="0.8" stroke-opacity="0.9"/><line x1="137.00" y1="117.27" x2="158.75" y2="97.55" stroke="#e87818" stroke-width="0.8" stroke-opacity="0.9"/><line x1="137.00" y1="112.72" x2="158.75" y2="87.51" stroke="#f0e040" stroke-width="0.8" stroke-opacity="0.9"/><line x1="137.00" y1="106.24" x2="158.75" y2="78.40" stroke="#f0a020" stroke-width="0.8" stroke-opacity="0.9"/><line x1="137.00" y1="96.89" x2="158.75" y2="75.56" stroke="#f8d820" stroke-width="0.8" stroke-opacity="0.9"/><line x1="137.00" y1="132.11" x2="158.75" y2="97.49" stroke="#e05020" stroke-width="0.8" stroke-opacity="0.9"/><line x1="137.00" y1="116.31" x2="158.75" y2="87.08" stroke="#d82010" stroke-width="0.8" stroke-opacity="0.9"/><line x1="137.00" y1="130.33" x2="158.75" y2="97.01" stroke="#f09020" stroke-width="0.8" stroke-opacity="0.9"/><line x1="137.00" y1="138.68" x2="158.75" y2="101.18" stroke="#e04818" stroke-width="0.8" stroke-opacity="0.9"/><line x1="137.00" y1="142.28" x2="158.75" y2="102.02" stroke="#e88a18" stroke-width="0.8" stroke-opacity="0.9"/><line x1="137.00" y1="115.14" x2="158.75" y2="85.59" stroke="#e04818" stroke-width="0.8" stroke-opacity="0.9"/><line x1="137.00" y1="143.00" x2="158.75" y2="101.61" stroke="#e87818" stroke-width="0.8" stroke-opacity="0.9"/><line x1="137.00" y1="112.00" x2="158.75" y2="84.00" stroke="#f08020" stroke-width="0.8" stroke-opacity="0.9"/><line x1="137.00" y1="124.45" x2="158.75" y2="89.17" stroke="#e88a18" stroke-width="0.8" stroke-opacity="0.9"/><line x1="137.00" y1="116.48" x2="158.75" y2="85.03" stroke="#e87818" stroke-width="0.8" stroke-opacity="0.9"/><line x1="137.00" y1="128.48" x2="158.75" y2="95.85" stroke="#e85818" stroke-width="0.8" stroke-opacity="0.9"/><line x1="137.00" y1="140.63" x2="158.75" y2="103.00" stroke="#e87818" stroke-width="0.8" stroke-opacity="0.9"/><line x1="137.00" y1="129.35" x2="158.75" y2="95.49" stroke="#e88a18" stroke-width="0.8" stroke-opacity="0.9"/><line x1="137.00" y1="121.89" x2="158.75" y2="93.73" stroke="#e05020" stroke-width="0.8" stroke-opacity="0.9"/><line x1="137.00" y1="136.09" x2="158.75" y2="98.38" stroke="#e87818" stroke-width="0.8" stroke-opacity="0.9"/><line x1="137.00" y1="131.38" x2="158.75" y2="99.63" stroke="#f08020" stroke-width="0.8" stroke-opacity="0.9"/><line x1="137.00" y1="143.00" x2="158.75" y2="124.00" stroke="#e88050" stroke-width="0.7" stroke-opacity="0.9"/><line x1="137.00" y1="140.00" x2="158.75" y2="120.00" stroke="#f0a070" stroke-width="0.7" stroke-opacity="0.9"/><line x1="137.00" y1="130.00" x2="158.75" y2="96.00" stroke="#e07050" stroke-width="0.7" stroke-opacity="0.9"/><line x1="137.00" y1="165.00" x2="158.75" y2="62.50" stroke="#2a2a2a" stroke-width="1.15" stroke-opacity="1"/><line x1="162.50" y1="92.38" x2="184.25" y2="77.50" stroke="#e88a18" stroke-width="0.8" stroke-opacity="0.9"/><line x1="162.50" y1="92.60" x2="184.25" y2="75.82" stroke="#e88a18" stroke-width="0.8" stroke-opacity="0.9"/><line x1="162.50" y1="85.52" x2="184.25" y2="74.97" stroke="#e87818" stroke-width="0.8" stroke-opacity="0.9"/><line x1="162.50" y1="84.76" x2="184.25" y2="67.76" stroke="#e88a18" stroke-width="0.8" stroke-opacity="0.9"/><line x1="162.50" y1="95.16" x2="184.25" y2="88.47" stroke="#e87818" stroke-width="0.8" stroke-opacity="0.9"/><line x1="162.50" y1="104.85" x2="184.25" y2="92.52" stroke="#e87818" stroke-width="0.8" stroke-opacity="0.9"/><line x1="162.50" y1="93.78" x2="184.25" y2="83.55" stroke="#f0a828" stroke-width="0.8" stroke-opacity="0.9"/><line x1="162.50" y1="97.17" x2="184.25" y2="77.16" stroke="#e87818" stroke-width="0.8" stroke-opacity="0.9"/><line x1="162.50" y1="96.02" x2="184.25" y2="85.43" stroke="#f09020" stroke-width="0.8" stroke-opacity="0.9"/><line x1="162.50" y1="80.49" x2="184.25" y2="63.61" stroke="#f09020" stroke-width="0.8" stroke-opacity="0.9"/><line x1="162.50" y1="83.70" x2="184.25" y2="61.00" stroke="#f0a828" stroke-width="0.8" stroke-opacity="0.9"/><line x1="162.50" y1="98.89" x2="184.25" y2="82.08" stroke="#f09020" stroke-width="0.8" stroke-opacity="0.9"/><line x1="162.50" y1="92.51" x2="184.25" y2="74.75" stroke="#f8b820" stroke-width="0.8" stroke-opacity="0.9"/><line x1="162.50" y1="80.05" x2="184.25" y2="67.82" stroke="#f8d030" stroke-width="0.8" stroke-opacity="0.9"/><line x1="162.50" y1="83.32" x2="184.25" y2="69.21" stroke="#e87818" stroke-width="0.8" stroke-opacity="0.9"/><line x1="162.50" y1="82.06" x2="184.25" y2="64.21" stroke="#f09020" stroke-width="0.8" stroke-opacity="0.9"/><line x1="162.50" y1="100.18" x2="184.25" y2="87.70" stroke="#f8b820" stroke-width="0.8" stroke-opacity="0.9"/><line x1="162.50" y1="98.80" x2="184.25" y2="88.90" stroke="#e87818" stroke-width="0.8" stroke-opacity="0.9"/><line x1="162.50" y1="94.27" x2="184.25" y2="87.18" stroke="#f0a020" stroke-width="0.8" stroke-opacity="0.9"/><line x1="162.50" y1="104.41" x2="184.25" y2="86.68" stroke="#f08020" stroke-width="0.8" stroke-opacity="0.9"/><line x1="162.50" y1="107.12" x2="184.25" y2="97.00" stroke="#f08020" stroke-width="0.8" stroke-opacity="0.9"/><line x1="162.50" y1="83.87" x2="184.25" y2="62.63" stroke="#f09020" stroke-width="0.8" stroke-opacity="0.9"/><line x1="162.50" y1="91.28" x2="184.25" y2="73.10" stroke="#e88a18" stroke-width="0.8" stroke-opacity="0.9"/><line x1="162.50" y1="90.13" x2="184.25" y2="72.86" stroke="#e87818" stroke-width="0.8" stroke-opacity="0.9"/><line x1="162.50" y1="81.95" x2="184.25" y2="70.34" stroke="#f8d820" stroke-width="0.8" stroke-opacity="0.9"/><line x1="162.50" y1="108.00" x2="184.25" y2="93.53" stroke="#f8d030" stroke-width="0.8" stroke-opacity="0.9"/><line x1="162.50" y1="104.50" x2="184.25" y2="88.42" stroke="#f8b820" stroke-width="0.8" stroke-opacity="0.9"/><line x1="162.50" y1="80.74" x2="184.25" y2="62.20" stroke="#f8d820" stroke-width="0.8" stroke-opacity="0.9"/><line x1="162.50" y1="79.00" x2="184.25" y2="63.57" stroke="#f09020" stroke-width="0.8" stroke-opacity="0.9"/><line x1="162.50" y1="84.22" x2="184.25" y2="63.80" stroke="#f8e830" stroke-width="0.8" stroke-opacity="0.9"/><line x1="162.50" y1="79.43" x2="184.25" y2="61.35" stroke="#f8e830" stroke-width="0.8" stroke-opacity="0.9"/><line x1="162.50" y1="101.02" x2="184.25" y2="87.76" stroke="#f08020" stroke-width="0.8" stroke-opacity="0.9"/><line x1="162.50" y1="102.30" x2="184.25" y2="91.34" stroke="#f0e040" stroke-width="0.8" stroke-opacity="0.9"/><line x1="162.50" y1="103.85" x2="184.25" y2="90.68" stroke="#f8d030" stroke-width="0.8" stroke-opacity="0.9"/><line x1="162.50" y1="79.93" x2="184.25" y2="63.63" stroke="#e87818" stroke-width="0.8" stroke-opacity="0.9"/><line x1="162.50" y1="108.00" x2="184.25" y2="97.00" stroke="#f0b028" stroke-width="0.8" stroke-opacity="0.9"/><line x1="162.50" y1="98.49" x2="184.25" y2="88.73" stroke="#f8e830" stroke-width="0.8" stroke-opacity="0.9"/><line x1="162.50" y1="106.46" x2="184.25" y2="96.89" stroke="#f08020" stroke-width="0.8" stroke-opacity="0.9"/><line x1="162.50" y1="104.36" x2="184.25" y2="93.59" stroke="#f09020" stroke-width="0.8" stroke-opacity="0.9"/><line x1="162.50" y1="87.54" x2="184.25" y2="71.08" stroke="#e87818" stroke-width="0.8" stroke-opacity="0.9"/><line x1="162.50" y1="97.04" x2="184.25" y2="85.65" stroke="#f8e830" stroke-width="0.8" stroke-opacity="0.9"/><line x1="162.50" y1="87.18" x2="184.25" y2="73.33" stroke="#e87818" stroke-width="0.8" stroke-opacity="0.9"/><line x1="162.50" y1="79.53" x2="184.25" y2="69.33" stroke="#f0a828" stroke-width="0.8" stroke-opacity="0.9"/><line x1="162.50" y1="88.35" x2="184.25" y2="70.58" stroke="#f09020" stroke-width="0.8" stroke-opacity="0.9"/><line x1="162.50" y1="92.23" x2="184.25" y2="79.99" stroke="#f0e040" stroke-width="0.8" stroke-opacity="0.9"/><line x1="162.50" y1="86.20" x2="184.25" y2="64.98" stroke="#f8b820" stroke-width="0.8" stroke-opacity="0.9"/><line x1="162.50" y1="105.26" x2="184.25" y2="94.90" stroke="#e87818" stroke-width="0.8" stroke-opacity="0.9"/><line x1="162.50" y1="104.48" x2="184.25" y2="94.40" stroke="#f0a828" stroke-width="0.8" stroke-opacity="0.9"/><line x1="162.50" y1="101.18" x2="184.25" y2="83.72" stroke="#f0e040" stroke-width="0.8" stroke-opacity="0.9"/><line x1="162.50" y1="102.14" x2="184.25" y2="87.34" stroke="#f09020" stroke-width="0.8" stroke-opacity="0.9"/><line x1="162.50" y1="97.72" x2="184.25" y2="77.35" stroke="#f0b028" stroke-width="0.8" stroke-opacity="0.9"/><line x1="162.50" y1="86.79" x2="184.25" y2="70.61" stroke="#f09020" stroke-width="0.8" stroke-opacity="0.9"/><line x1="162.50" y1="89.03" x2="184.25" y2="73.61" stroke="#f8b820" stroke-width="0.8" stroke-opacity="0.9"/><line x1="162.50" y1="100.25" x2="184.25" y2="84.04" stroke="#e88a18" stroke-width="0.8" stroke-opacity="0.9"/><line x1="162.50" y1="86.01" x2="184.25" y2="65.34" stroke="#f0a020" stroke-width="0.8" stroke-opacity="0.9"/><line x1="162.50" y1="99.66" x2="184.25" y2="89.35" stroke="#e88a18" stroke-width="0.8" stroke-opacity="0.9"/><line x1="162.50" y1="95.96" x2="184.25" y2="88.11" stroke="#f0a828" stroke-width="0.8" stroke-opacity="0.9"/><line x1="162.50" y1="87.81" x2="184.25" y2="74.92" stroke="#f0b028" stroke-width="0.8" stroke-opacity="0.9"/><line x1="162.50" y1="107.36" x2="184.25" y2="91.66" stroke="#f09020" stroke-width="0.8" stroke-opacity="0.9"/><line x1="162.50" y1="94.96" x2="184.25" y2="91.26" stroke="#f0e040" stroke-width="0.8" stroke-opacity="0.9"/><line x1="162.50" y1="79.00" x2="184.25" y2="61.00" stroke="#e87818" stroke-width="0.8" stroke-opacity="0.9"/><line x1="162.50" y1="84.84" x2="184.25" y2="65.40" stroke="#f8d820" stroke-width="0.8" stroke-opacity="0.9"/><line x1="162.50" y1="104.02" x2="184.25" y2="88.41" stroke="#e87818" stroke-width="0.8" stroke-opacity="0.9"/><line x1="162.50" y1="102.28" x2="184.25" y2="93.45" stroke="#e87818" stroke-width="0.8" stroke-opacity="0.9"/><line x1="162.50" y1="92.99" x2="184.25" y2="73.48" stroke="#f0b028" stroke-width="0.8" stroke-opacity="0.9"/><line x1="162.50" y1="82.21" x2="184.25" y2="65.25" stroke="#f8d820" stroke-width="0.8" stroke-opacity="0.9"/><line x1="162.50" y1="107.51" x2="184.25" y2="93.43" stroke="#f0e040" stroke-width="0.8" stroke-opacity="0.9"/><line x1="162.50" y1="93.65" x2="184.25" y2="76.36" stroke="#f8b820" stroke-width="0.8" stroke-opacity="0.9"/><line x1="162.50" y1="89.71" x2="184.25" y2="71.96" stroke="#e87818" stroke-width="0.8" stroke-opacity="0.9"/><line x1="162.50" y1="92.12" x2="184.25" y2="78.65" stroke="#e88a18" stroke-width="0.8" stroke-opacity="0.9"/><line x1="162.50" y1="98.62" x2="184.25" y2="86.84" stroke="#e88a18" stroke-width="0.8" stroke-opacity="0.9"/><line x1="162.50" y1="86.69" x2="184.25" y2="72.14" stroke="#e88a18" stroke-width="0.8" stroke-opacity="0.9"/><line x1="162.50" y1="79.24" x2="184.25" y2="66.99" stroke="#f0b028" stroke-width="0.8" stroke-opacity="0.9"/><line x1="162.50" y1="99.27" x2="184.25" y2="79.86" stroke="#f8d820" stroke-width="0.8" stroke-opacity="0.9"/><line x1="162.50" y1="86.93" x2="184.25" y2="68.27" stroke="#e87818" stroke-width="0.8" stroke-opacity="0.9"/><line x1="162.50" y1="103.72" x2="184.25" y2="97.00" stroke="#f0a828" stroke-width="0.8" stroke-opacity="0.9"/><line x1="162.50" y1="106.69" x2="184.25" y2="93.84" stroke="#f0a828" stroke-width="0.8" stroke-opacity="0.9"/><line x1="162.50" y1="87.62" x2="184.25" y2="77.25" stroke="#e87818" stroke-width="0.8" stroke-opacity="0.9"/><line x1="162.50" y1="97.05" x2="184.25" y2="88.37" stroke="#e88a18" stroke-width="0.8" stroke-opacity="0.9"/><line x1="162.50" y1="94.93" x2="184.25" y2="77.71" stroke="#f8d820" stroke-width="0.8" stroke-opacity="0.9"/><line x1="162.50" y1="90.48" x2="184.25" y2="74.89" stroke="#f8d030" stroke-width="0.8" stroke-opacity="0.9"/><line x1="162.50" y1="97.04" x2="184.25" y2="82.47" stroke="#e88a18" stroke-width="0.8" stroke-opacity="0.9"/><line x1="162.50" y1="80.81" x2="184.25" y2="70.63" stroke="#f0e040" stroke-width="0.8" stroke-opacity="0.9"/><line x1="162.50" y1="89.84" x2="184.25" y2="78.52" stroke="#f08020" stroke-width="0.8" stroke-opacity="0.9"/><line x1="162.50" y1="92.92" x2="184.25" y2="84.50" stroke="#e87818" stroke-width="0.8" stroke-opacity="0.9"/><line x1="162.50" y1="100.52" x2="184.25" y2="91.88" stroke="#f09020" stroke-width="0.8" stroke-opacity="0.9"/><line x1="162.50" y1="79.00" x2="184.25" y2="68.23" stroke="#f08020" stroke-width="0.8" stroke-opacity="0.9"/><line x1="162.50" y1="86.55" x2="184.25" y2="71.61" stroke="#f8e830" stroke-width="0.8" stroke-opacity="0.9"/><line x1="162.50" y1="103.59" x2="184.25" y2="90.62" stroke="#f09020" stroke-width="0.8" stroke-opacity="0.9"/><line x1="162.50" y1="103.12" x2="184.25" y2="90.75" stroke="#f0a020" stroke-width="0.8" stroke-opacity="0.9"/><line x1="162.50" y1="102.10" x2="184.25" y2="85.46" stroke="#f0a020" stroke-width="0.8" stroke-opacity="0.9"/><line x1="162.50" y1="84.46" x2="184.25" y2="65.62" stroke="#f08020" stroke-width="0.8" stroke-opacity="0.9"/><line x1="162.50" y1="105.35" x2="184.25" y2="88.83" stroke="#f0b028" stroke-width="0.8" stroke-opacity="0.9"/><line x1="162.50" y1="107.81" x2="184.25" y2="91.13" stroke="#f09020" stroke-width="0.8" stroke-opacity="0.9"/><line x1="162.50" y1="95.55" x2="184.25" y2="84.41" stroke="#f0a020" stroke-width="0.8" stroke-opacity="0.9"/><line x1="162.50" y1="101.24" x2="184.25" y2="80.93" stroke="#f09020" stroke-width="0.8" stroke-opacity="0.9"/><line x1="162.50" y1="100.05" x2="184.25" y2="92.09" stroke="#f09020" stroke-width="0.8" stroke-opacity="0.9"/><line x1="162.50" y1="87.22" x2="184.25" y2="70.48" stroke="#f8b820" stroke-width="0.8" stroke-opacity="0.9"/><line x1="162.50" y1="95.72" x2="184.25" y2="83.49" stroke="#f8d820" stroke-width="0.8" stroke-opacity="0.9"/><line x1="162.50" y1="86.13" x2="184.25" y2="65.00" stroke="#f09020" stroke-width="0.8" stroke-opacity="0.9"/><line x1="162.50" y1="99.60" x2="184.25" y2="76.51" stroke="#f09020" stroke-width="0.8" stroke-opacity="0.9"/><line x1="162.50" y1="79.36" x2="184.25" y2="63.51" stroke="#f8b820" stroke-width="0.8" stroke-opacity="0.9"/><line x1="162.50" y1="88.17" x2="184.25" y2="72.20" stroke="#e87818" stroke-width="0.8" stroke-opacity="0.9"/><line x1="162.50" y1="98.95" x2="184.25" y2="82.84" stroke="#e87818" stroke-width="0.8" stroke-opacity="0.9"/><line x1="162.50" y1="102.39" x2="184.25" y2="85.23" stroke="#f08020" stroke-width="0.8" stroke-opacity="0.9"/><line x1="162.50" y1="98.33" x2="184.25" y2="86.69" stroke="#e87818" stroke-width="0.8" stroke-opacity="0.9"/><line x1="162.50" y1="89.74" x2="184.25" y2="71.57" stroke="#e87818" stroke-width="0.8" stroke-opacity="0.9"/><line x1="162.50" y1="79.05" x2="184.25" y2="63.00" stroke="#e88a18" stroke-width="0.8" stroke-opacity="0.9"/><line x1="162.50" y1="84.49" x2="184.25" y2="65.35" stroke="#f8b820" stroke-width="0.8" stroke-opacity="0.9"/><line x1="162.50" y1="107.26" x2="184.25" y2="90.65" stroke="#f09020" stroke-width="0.8" stroke-opacity="0.9"/><line x1="162.50" y1="77.30" x2="184.25" y2="64.12" stroke="#f0b080" stroke-width="0.8" stroke-opacity="0.9"/><line x1="162.50" y1="79.29" x2="184.25" y2="65.09" stroke="#f0a070" stroke-width="0.8" stroke-opacity="0.9"/><line x1="162.50" y1="77.42" x2="184.25" y2="63.55" stroke="#f0b080" stroke-width="0.8" stroke-opacity="0.9"/><line x1="162.50" y1="79.91" x2="184.25" y2="66.00" stroke="#f0b080" stroke-width="0.8" stroke-opacity="0.9"/><line x1="162.50" y1="79.34" x2="184.25" y2="64.89" stroke="#f0a070" stroke-width="0.8" stroke-opacity="0.9"/><line x1="162.50" y1="75.89" x2="184.25" y2="60.00" stroke="#f0b080" stroke-width="0.8" stroke-opacity="0.9"/><line x1="162.50" y1="114.81" x2="184.25" y2="109.85" stroke="#f0b090" stroke-width="0.8" stroke-opacity="0.9"/><line x1="162.50" y1="113.50" x2="184.25" y2="108.87" stroke="#f8d0b0" stroke-width="0.8" stroke-opacity="0.9"/><line x1="162.50" y1="116.07" x2="184.25" y2="112.33" stroke="#f8d0b0" stroke-width="0.8" stroke-opacity="0.9"/><line x1="162.50" y1="110.94" x2="184.25" y2="104.90" stroke="#f0b090" stroke-width="0.8" stroke-opacity="0.9"/><line x1="162.50" y1="114.15" x2="184.25" y2="113.82" stroke="#f0c0a0" stroke-width="0.8" stroke-opacity="0.9"/><line x1="162.50" y1="120.00" x2="184.25" y2="117.49" stroke="#f0b090" stroke-width="0.8" stroke-opacity="0.9"/><line x1="162.50" y1="117.83" x2="184.25" y2="115.89" stroke="#f0c0a0" stroke-width="0.8" stroke-opacity="0.9"/><line x1="162.50" y1="110.58" x2="184.25" y2="106.98" stroke="#f0c0a0" stroke-width="0.8" stroke-opacity="0.9"/><line x1="162.50" y1="152.00" x2="184.25" y2="76.00" stroke="#2a2a2a" stroke-width="1.15" stroke-opacity="1"/><line x1="31.6" y1="26" x2="31.6" y2="165.2" stroke="#666" stroke-width="1.0"/><line x1="29.6" y1="26.00" x2="31.6" y2="26.00" stroke="#444" stroke-width="0.8"/><line x1="30.3" y1="50.29" x2="31.6" y2="50.29" stroke="#555" stroke-width="0.6"/><line x1="30.3" y1="44.17" x2="31.6" y2="44.17" stroke="#555" stroke-width="0.6"/><line x1="30.3" y1="39.83" x2="31.6" y2="39.83" stroke="#555" stroke-width="0.6"/><line x1="30.3" y1="36.46" x2="31.6" y2="36.46" stroke="#555" stroke-width="0.6"/><line x1="30.3" y1="33.71" x2="31.6" y2="33.71" stroke="#555" stroke-width="0.6"/><line x1="30.3" y1="31.38" x2="31.6" y2="31.38" stroke="#555" stroke-width="0.6"/><line x1="30.3" y1="29.37" x2="31.6" y2="29.37" stroke="#555" stroke-width="0.6"/><line x1="30.3" y1="27.59" x2="31.6" y2="27.59" stroke="#555" stroke-width="0.6"/><line x1="29.6" y1="60.75" x2="31.6" y2="60.75" stroke="#444" stroke-width="0.8"/><line x1="30.3" y1="85.04" x2="31.6" y2="85.04" stroke="#555" stroke-width="0.6"/><line x1="30.3" y1="78.92" x2="31.6" y2="78.92" stroke="#555" stroke-width="0.6"/><line x1="30.3" y1="74.58" x2="31.6" y2="74.58" stroke="#555" stroke-width="0.6"/><line x1="30.3" y1="71.21" x2="31.6" y2="71.21" stroke="#555" stroke-width="0.6"/><line x1="30.3" y1="68.46" x2="31.6" y2="68.46" stroke="#555" stroke-width="0.6"/><line x1="30.3" y1="66.13" x2="31.6" y2="66.13" stroke="#555" stroke-width="0.6"/><line x1="30.3" y1="64.12" x2="31.6" y2="64.12" stroke="#555" stroke-width="0.6"/><line x1="30.3" y1="62.34" x2="31.6" y2="62.34" stroke="#555" stroke-width="0.6"/><line x1="29.6" y1="95.50" x2="31.6" y2="95.50" stroke="#444" stroke-width="0.8"/><line x1="30.3" y1="119.79" x2="31.6" y2="119.79" stroke="#555" stroke-width="0.6"/><line x1="30.3" y1="113.67" x2="31.6" y2="113.67" stroke="#555" stroke-width="0.6"/><line x1="30.3" y1="109.33" x2="31.6" y2="109.33" stroke="#555" stroke-width="0.6"/><line x1="30.3" y1="105.96" x2="31.6" y2="105.96" stroke="#555" stroke-width="0.6"/><line x1="30.3" y1="103.21" x2="31.6" y2="103.21" stroke="#555" stroke-width="0.6"/><line x1="30.3" y1="100.88" x2="31.6" y2="100.88" stroke="#555" stroke-width="0.6"/><line x1="30.3" y1="98.87" x2="31.6" y2="98.87" stroke="#555" stroke-width="0.6"/><line x1="30.3" y1="97.09" x2="31.6" y2="97.09" stroke="#555" stroke-width="0.6"/><line x1="29.6" y1="130.25" x2="31.6" y2="130.25" stroke="#444" stroke-width="0.8"/><line x1="30.3" y1="154.54" x2="31.6" y2="154.54" stroke="#555" stroke-width="0.6"/><line x1="30.3" y1="148.42" x2="31.6" y2="148.42" stroke="#555" stroke-width="0.6"/><line x1="30.3" y1="144.08" x2="31.6" y2="144.08" stroke="#555" stroke-width="0.6"/><line x1="30.3" y1="140.71" x2="31.6" y2="140.71" stroke="#555" stroke-width="0.6"/><line x1="30.3" y1="137.96" x2="31.6" y2="137.96" stroke="#555" stroke-width="0.6"/><line x1="30.3" y1="135.63" x2="31.6" y2="135.63" stroke="#555" stroke-width="0.6"/><line x1="30.3" y1="133.62" x2="31.6" y2="133.62" stroke="#555" stroke-width="0.6"/><line x1="30.3" y1="131.84" x2="31.6" y2="131.84" stroke="#555" stroke-width="0.6"/><line x1="29.6" y1="165.00" x2="31.6" y2="165.00" stroke="#444" stroke-width="0.8"/><text x="31.0" y="28.0" font-size="5.8" font-weight="normal" text-anchor="end" fill="#777"  >100</text><text x="31.0" y="62.75" font-size="5.8" font-weight="normal" text-anchor="end" fill="#777"  >10</text><text x="31.0" y="97.5" font-size="5.8" font-weight="normal" text-anchor="end" fill="#777"  >1</text><text x="31.0" y="132.25" font-size="5.8" font-weight="normal" text-anchor="end" fill="#777"  >0.1</text><line x1="31.6" y1="165.2" x2="186" y2="165.2" stroke="#777" stroke-width="1.3"/><line x1="34.75" y1="165.2" x2="34.75" y2="166.79999999999998" stroke="#666" stroke-width="0.6"/><line x1="55.5" y1="165.2" x2="55.5" y2="166.79999999999998" stroke="#666" stroke-width="0.6"/><text x="55.6" y="174.45" font-size="10" font-weight="bold" text-anchor="middle" fill="#111" stroke="#111" stroke-width="0.22" >+</text><text x="42.6" y="180.5" font-size="7.7" font-weight="bold" text-anchor="middle" fill="#111" stroke="#111" stroke-width="0.22" >DC1</text><line x1="60.25" y1="165.2" x2="60.25" y2="166.79999999999998" stroke="#666" stroke-width="0.6"/><line x1="81.25" y1="165.2" x2="81.25" y2="166.79999999999998" stroke="#666" stroke-width="0.6"/><text x="81.35" y="174.45" font-size="10" font-weight="bold" text-anchor="middle" fill="#111" stroke="#111" stroke-width="0.22" >+</text><text x="70.75" y="180.5" font-size="7.7" font-weight="bold" text-anchor="middle" fill="#111" stroke="#111" stroke-width="0.22" >DC2</text><line x1="86" y1="165.2" x2="86" y2="166.79999999999998" stroke="#666" stroke-width="0.6"/><line x1="106.75" y1="165.2" x2="106.75" y2="166.79999999999998" stroke="#666" stroke-width="0.6"/><text x="106.85" y="174.45" font-size="10" font-weight="bold" text-anchor="middle" fill="#111" stroke="#111" stroke-width="0.22" >+</text><text x="95.75" y="180.5" font-size="7.7" font-weight="bold" text-anchor="middle" fill="#111" stroke="#111" stroke-width="0.22" >DC3</text><line x1="111.5" y1="165.2" x2="111.5" y2="166.79999999999998" stroke="#666" stroke-width="0.6"/><line x1="132.5" y1="165.2" x2="132.5" y2="166.79999999999998" stroke="#666" stroke-width="0.6"/><text x="132.6" y="174.45" font-size="10" font-weight="bold" text-anchor="middle" fill="#111" stroke="#111" stroke-width="0.22" >+</text><text x="121.75" y="180.5" font-size="7.7" font-weight="bold" text-anchor="middle" fill="#111" stroke="#111" stroke-width="0.22" >IR</text><line x1="137" y1="165.2" x2="137" y2="166.79999999999998" stroke="#666" stroke-width="0.6"/><line x1="158.75" y1="165.2" x2="158.75" y2="166.79999999999998" stroke="#666" stroke-width="0.6"/><text x="158.85" y="174.45" font-size="10" font-weight="bold" text-anchor="middle" fill="#111" stroke="#111" stroke-width="0.22" >+</text><text x="147.6" y="180.5" font-size="7.7" font-weight="bold" text-anchor="middle" fill="#111" stroke="#111" stroke-width="0.22" >C114R</text><line x1="162.5" y1="165.2" x2="162.5" y2="166.79999999999998" stroke="#666" stroke-width="0.6"/><line x1="184.25" y1="165.2" x2="184.25" y2="166.79999999999998" stroke="#666" stroke-width="0.6"/><text x="184.35" y="174.45" font-size="10" font-weight="bold" text-anchor="middle" fill="#111" stroke="#111" stroke-width="0.22" >+</text><text x="173.4" y="180.5" font-size="7.7" font-weight="bold" text-anchor="middle" fill="#111" stroke="#111" stroke-width="0.22" >C131Y</text><text x="8" y="171.9" font-size="8.8" font-weight="bold" text-anchor="start" fill="#111" stroke="#111" stroke-width="0.22" >RGS:</text><text x="9.0" y="8.8" font-size="11.2" font-weight="bold" text-anchor="start" fill="#111" stroke="#111" stroke-width="0.22" >A</text><text x="108.2" y="10.6" font-size="9.25" font-weight="bold" text-anchor="middle" fill="#111" stroke="#111" stroke-width="0.22" >24h upregulated probe sets (210)</text><text x="109.2" y="21.3" font-size="9.25" font-weight="bold" text-anchor="middle" fill="#111" stroke="#111" stroke-width="0.22" >by PPAR<tspan font-weight="normal" stroke-width="0">γ</tspan> ligand</text><text x="175" y="22.5" font-size="7.6" font-weight="bold" text-anchor="middle" fill="#111" stroke="#111" stroke-width="0.22" >FABP4</text><line x1="164.4" y1="24.0" x2="134.5" y2="48.3" stroke="#111" stroke-width="1.25"/><polygon points="130.4,51.8 132.0,45.0 137.6,50.6" fill="#111"/><text transform="translate(12.4,83.0) rotate(-90)" font-size="9.35" font-weight="bold" text-anchor="middle" fill="#111" stroke="#111" stroke-width="0.22">relative expression</text><line x1="39" y1="220.5" x2="39" y2="356.75" stroke="#d6d6dc" stroke-width="0.9"/><line x1="59.5" y1="220.5" x2="59.5" y2="356.75" stroke="#d6d6dc" stroke-width="0.9"/><line x1="64.25" y1="220.5" x2="64.25" y2="356.75" stroke="#d6d6dc" stroke-width="0.9"/><line x1="85" y1="220.5" x2="85" y2="356.75" stroke="#d6d6dc" stroke-width="0.9"/><line x1="89.5" y1="220.5" x2="89.5" y2="356.75" stroke="#d6d6dc" stroke-width="0.9"/><line x1="110" y1="220.5" x2="110" y2="356.75" stroke="#d6d6dc" stroke-width="0.9"/><line x1="115" y1="220.5" x2="115" y2="356.75" stroke="#d6d6dc" stroke-width="0.9"/><line x1="135" y1="220.5" x2="135" y2="356.75" stroke="#d6d6dc" stroke-width="0.9"/><line x1="139.5" y1="220.5" x2="139.5" y2="356.75" stroke="#d6d6dc" stroke-width="0.9"/><line x1="159.5" y1="220.5" x2="159.5" y2="356.75" stroke="#d6d6dc" stroke-width="0.9"/><line x1="164.25" y1="220.5" x2="164.25" y2="356.75" stroke="#d6d6dc" stroke-width="0.9"/><line x1="184.5" y1="220.5" x2="184.5" y2="356.75" stroke="#d6d6dc" stroke-width="0.9"/><line x1="39.00" y1="288.59" x2="59.50" y2="305.25" stroke="#4040e0" stroke-width="0.85" stroke-opacity="0.92"/><line x1="39.00" y1="293.02" x2="59.50" y2="306.27" stroke="#5c5cd0" stroke-width="0.85" stroke-opacity="0.92"/><line x1="39.00" y1="289.78" x2="59.50" y2="305.61" stroke="#4646d0" stroke-width="0.85" stroke-opacity="0.92"/><line x1="39.00" y1="288.25" x2="59.50" y2="308.40" stroke="#8484e8" stroke-width="0.85" stroke-opacity="0.92"/><line x1="39.00" y1="284.00" x2="59.50" y2="296.84" stroke="#3a3ad0" stroke-width="0.85" stroke-opacity="0.92"/><line x1="39.00" y1="284.96" x2="59.50" y2="295.89" stroke="#6c6ce0" stroke-width="0.85" stroke-opacity="0.92"/><line x1="39.00" y1="284.00" x2="59.50" y2="296.42" stroke="#3030d8" stroke-width="0.85" stroke-opacity="0.92"/><line x1="39.00" y1="289.94" x2="59.50" y2="305.45" stroke="#8484e8" stroke-width="0.85" stroke-opacity="0.92"/><line x1="39.00" y1="297.00" x2="59.50" y2="313.51" stroke="#4040e0" stroke-width="0.85" stroke-opacity="0.92"/><line x1="39.00" y1="287.11" x2="59.50" y2="293.62" stroke="#4646d0" stroke-width="0.85" stroke-opacity="0.92"/><line x1="39.00" y1="289.52" x2="59.50" y2="306.03" stroke="#3030d8" stroke-width="0.85" stroke-opacity="0.92"/><line x1="39.00" y1="291.71" x2="59.50" y2="316.55" stroke="#3030d8" stroke-width="0.85" stroke-opacity="0.92"/><line x1="39.00" y1="293.94" x2="59.50" y2="317.37" stroke="#4646d0" stroke-width="0.85" stroke-opacity="0.92"/><line x1="39.00" y1="288.89" x2="59.50" y2="304.84" stroke="#9090e8" stroke-width="0.85" stroke-opacity="0.92"/><line x1="39.00" y1="286.85" x2="59.50" y2="296.30" stroke="#3030d8" stroke-width="0.85" stroke-opacity="0.92"/><line x1="39.00" y1="292.21" x2="59.50" y2="311.35" stroke="#3030d8" stroke-width="0.85" stroke-opacity="0.92"/><line x1="39.00" y1="287.43" x2="59.50" y2="306.20" stroke="#4040e0" stroke-width="0.85" stroke-opacity="0.92"/><line x1="39.00" y1="292.62" x2="59.50" y2="310.40" stroke="#5050d8" stroke-width="0.85" stroke-opacity="0.92"/><line x1="39.00" y1="289.32" x2="59.50" y2="297.16" stroke="#3a3ad0" stroke-width="0.85" stroke-opacity="0.92"/><line x1="39.00" y1="289.53" x2="59.50" y2="302.64" stroke="#3a3ad0" stroke-width="0.85" stroke-opacity="0.92"/><line x1="39.00" y1="286.45" x2="59.50" y2="301.04" stroke="#5050d8" stroke-width="0.85" stroke-opacity="0.92"/><line x1="39.00" y1="291.88" x2="59.50" y2="312.11" stroke="#5c5cd0" stroke-width="0.85" stroke-opacity="0.92"/><line x1="39.00" y1="292.94" x2="59.50" y2="311.23" stroke="#8484e8" stroke-width="0.85" stroke-opacity="0.92"/><line x1="39.00" y1="287.62" x2="59.50" y2="305.38" stroke="#8484e8" stroke-width="0.85" stroke-opacity="0.92"/><line x1="39.00" y1="296.00" x2="59.50" y2="316.48" stroke="#4040e0" stroke-width="0.85" stroke-opacity="0.92"/><line x1="39.00" y1="293.56" x2="59.50" y2="307.49" stroke="#6c6ce0" stroke-width="0.85" stroke-opacity="0.92"/><line x1="39.00" y1="295.40" x2="59.50" y2="316.00" stroke="#8484e8" stroke-width="0.85" stroke-opacity="0.92"/><line x1="39.00" y1="286.85" x2="59.50" y2="297.84" stroke="#5c5cd0" stroke-width="0.85" stroke-opacity="0.92"/><line x1="39.00" y1="285.40" x2="59.50" y2="292.00" stroke="#8484e8" stroke-width="0.85" stroke-opacity="0.92"/><line x1="39.00" y1="290.41" x2="59.50" y2="304.44" stroke="#6c6ce0" stroke-width="0.85" stroke-opacity="0.92"/><line x1="39.00" y1="284.97" x2="59.50" y2="295.10" stroke="#9090e8" stroke-width="0.85" stroke-opacity="0.92"/><line x1="39.00" y1="288.63" x2="59.50" y2="300.88" stroke="#8484e8" stroke-width="0.85" stroke-opacity="0.92"/><line x1="39.00" y1="295.73" x2="59.50" y2="313.69" stroke="#3030d8" stroke-width="0.85" stroke-opacity="0.92"/><line x1="39.00" y1="289.22" x2="59.50" y2="304.39" stroke="#8484e8" stroke-width="0.85" stroke-opacity="0.92"/><line x1="39.00" y1="293.07" x2="59.50" y2="318.55" stroke="#8484e8" stroke-width="0.85" stroke-opacity="0.92"/><line x1="39.00" y1="287.34" x2="59.50" y2="296.43" stroke="#5c5cd0" stroke-width="0.85" stroke-opacity="0.92"/><line x1="39.00" y1="294.56" x2="59.50" y2="317.65" stroke="#6c6ce0" stroke-width="0.85" stroke-opacity="0.92"/><line x1="39.00" y1="285.48" x2="59.50" y2="302.13" stroke="#9090e8" stroke-width="0.85" stroke-opacity="0.92"/><line x1="39.00" y1="287.58" x2="59.50" y2="299.68" stroke="#6c6ce0" stroke-width="0.85" stroke-opacity="0.92"/><line x1="39.00" y1="285.82" x2="59.50" y2="301.72" stroke="#5c5cd0" stroke-width="0.85" stroke-opacity="0.92"/><line x1="39.00" y1="288.05" x2="59.50" y2="300.25" stroke="#8484e8" stroke-width="0.85" stroke-opacity="0.92"/><line x1="39.00" y1="293.50" x2="59.50" y2="316.13" stroke="#8484e8" stroke-width="0.85" stroke-opacity="0.92"/><line x1="39.00" y1="284.25" x2="59.50" y2="293.41" stroke="#3030d8" stroke-width="0.85" stroke-opacity="0.92"/><line x1="39.00" y1="289.38" x2="59.50" y2="302.77" stroke="#5050d8" stroke-width="0.85" stroke-opacity="0.92"/><line x1="39.00" y1="288.28" x2="59.50" y2="304.22" stroke="#5c5cd0" stroke-width="0.85" stroke-opacity="0.92"/><line x1="39.00" y1="292.84" x2="59.50" y2="311.97" stroke="#9090e8" stroke-width="0.85" stroke-opacity="0.92"/><line x1="39.00" y1="286.34" x2="59.50" y2="292.76" stroke="#4646d0" stroke-width="0.85" stroke-opacity="0.92"/><line x1="39.00" y1="288.85" x2="59.50" y2="300.36" stroke="#6c6ce0" stroke-width="0.85" stroke-opacity="0.92"/><line x1="39.00" y1="291.98" x2="59.50" y2="305.03" stroke="#9090e8" stroke-width="0.85" stroke-opacity="0.92"/><line x1="39.00" y1="286.89" x2="59.50" y2="293.98" stroke="#4646d0" stroke-width="0.85" stroke-opacity="0.92"/><line x1="39.00" y1="283.24" x2="59.50" y2="291.45" stroke="#a8a848" stroke-width="0.85" stroke-opacity="0.92"/><line x1="39.00" y1="283.39" x2="59.50" y2="288.95" stroke="#c8c040" stroke-width="0.85" stroke-opacity="0.92"/><line x1="39.00" y1="286.39" x2="59.50" y2="294.69" stroke="#a8a848" stroke-width="0.85" stroke-opacity="0.92"/><line x1="39.00" y1="285.06" x2="59.50" y2="291.85" stroke="#c8c040" stroke-width="0.85" stroke-opacity="0.92"/><line x1="39.00" y1="282.67" x2="59.50" y2="291.61" stroke="#b8b040" stroke-width="0.85" stroke-opacity="0.92"/><line x1="39.00" y1="284.24" x2="59.50" y2="290.86" stroke="#7a7aa0" stroke-width="0.85" stroke-opacity="0.92"/><line x1="39.00" y1="283.86" x2="59.50" y2="292.10" stroke="#7a7aa0" stroke-width="0.85" stroke-opacity="0.92"/><line x1="39.00" y1="288.00" x2="59.50" y2="296.00" stroke="#6c6ca8" stroke-width="0.85" stroke-opacity="0.92"/><line x1="39.00" y1="285.30" x2="59.50" y2="292.29" stroke="#c8c040" stroke-width="0.85" stroke-opacity="0.92"/><line x1="39.00" y1="283.71" x2="59.50" y2="291.03" stroke="#6262b0" stroke-width="0.85" stroke-opacity="0.92"/><line x1="39.00" y1="271.78" x2="59.50" y2="282.86" stroke="#c8c040" stroke-width="0.85" stroke-opacity="0.92"/><line x1="39.00" y1="281.40" x2="59.50" y2="289.98" stroke="#f0e820" stroke-width="0.85" stroke-opacity="0.92"/><line x1="39.00" y1="276.12" x2="59.50" y2="285.32" stroke="#f0f020" stroke-width="0.85" stroke-opacity="0.92"/><line x1="39.00" y1="280.40" x2="59.50" y2="287.69" stroke="#f0f020" stroke-width="0.85" stroke-opacity="0.92"/><line x1="39.00" y1="282.10" x2="59.50" y2="290.50" stroke="#e8e830" stroke-width="0.85" stroke-opacity="0.92"/><line x1="39.00" y1="279.17" x2="59.50" y2="288.23" stroke="#f0e820" stroke-width="0.85" stroke-opacity="0.92"/><line x1="39.00" y1="275.96" x2="59.50" y2="286.84" stroke="#f8f040" stroke-width="0.85" stroke-opacity="0.92"/><line x1="39.00" y1="276.03" x2="59.50" y2="287.42" stroke="#c8c040" stroke-width="0.85" stroke-opacity="0.92"/><line x1="39.00" y1="276.22" x2="59.50" y2="284.21" stroke="#c8c040" stroke-width="0.85" stroke-opacity="0.92"/><line x1="39.00" y1="276.20" x2="59.50" y2="286.81" stroke="#f0f020" stroke-width="0.85" stroke-opacity="0.92"/><line x1="39.00" y1="280.72" x2="59.50" y2="289.87" stroke="#a8a848" stroke-width="0.85" stroke-opacity="0.92"/><line x1="39.00" y1="282.43" x2="59.50" y2="291.93" stroke="#a8a848" stroke-width="0.85" stroke-opacity="0.92"/><line x1="39.00" y1="272.89" x2="59.50" y2="282.27" stroke="#f0f020" stroke-width="0.85" stroke-opacity="0.92"/><line x1="39.00" y1="277.83" x2="59.50" y2="286.38" stroke="#f0f020" stroke-width="0.85" stroke-opacity="0.92"/><line x1="39.00" y1="273.24" x2="59.50" y2="283.25" stroke="#e8e830" stroke-width="0.85" stroke-opacity="0.92"/><line x1="39.00" y1="280.97" x2="59.50" y2="289.21" stroke="#f0f020" stroke-width="0.85" stroke-opacity="0.92"/><line x1="39.00" y1="273.54" x2="59.50" y2="284.05" stroke="#b8b040" stroke-width="0.85" stroke-opacity="0.92"/><line x1="39.00" y1="277.20" x2="59.50" y2="285.38" stroke="#f0e820" stroke-width="0.85" stroke-opacity="0.92"/><line x1="39.00" y1="274.57" x2="59.50" y2="282.61" stroke="#f0f020" stroke-width="0.85" stroke-opacity="0.92"/><line x1="39.00" y1="278.15" x2="59.50" y2="287.19" stroke="#989858" stroke-width="0.85" stroke-opacity="0.92"/><line x1="39.00" y1="279.58" x2="59.50" y2="288.87" stroke="#f8f040" stroke-width="0.85" stroke-opacity="0.92"/><line x1="39.00" y1="274.97" x2="59.50" y2="284.59" stroke="#989858" stroke-width="0.85" stroke-opacity="0.92"/><line x1="39.00" y1="278.16" x2="59.50" y2="288.15" stroke="#f8f040" stroke-width="0.85" stroke-opacity="0.92"/><line x1="39.00" y1="280.44" x2="59.50" y2="290.30" stroke="#b8b040" stroke-width="0.85" stroke-opacity="0.92"/><line x1="39.00" y1="270.22" x2="59.50" y2="282.86" stroke="#989858" stroke-width="0.85" stroke-opacity="0.92"/><line x1="39.00" y1="274.92" x2="59.50" y2="286.76" stroke="#c8c040" stroke-width="0.85" stroke-opacity="0.92"/><line x1="39.00" y1="281.20" x2="59.50" y2="290.23" stroke="#b8b040" stroke-width="0.85" stroke-opacity="0.92"/><line x1="39.00" y1="281.75" x2="59.50" y2="289.11" stroke="#e8e830" stroke-width="0.85" stroke-opacity="0.92"/><line x1="39.00" y1="273.80" x2="59.50" y2="280.69" stroke="#f0e820" stroke-width="0.85" stroke-opacity="0.92"/><line x1="39.00" y1="275.27" x2="59.50" y2="284.12" stroke="#f0f020" stroke-width="0.85" stroke-opacity="0.92"/><line x1="39.00" y1="276.47" x2="59.50" y2="284.10" stroke="#f8f040" stroke-width="0.85" stroke-opacity="0.92"/><line x1="39.00" y1="278.15" x2="59.50" y2="286.63" stroke="#c8c040" stroke-width="0.85" stroke-opacity="0.92"/><line x1="39.00" y1="270.44" x2="59.50" y2="281.41" stroke="#f8f040" stroke-width="0.85" stroke-opacity="0.92"/><line x1="39.00" y1="283.49" x2="59.50" y2="291.24" stroke="#c8c040" stroke-width="0.85" stroke-opacity="0.92"/><line x1="39.00" y1="273.89" x2="59.50" y2="281.22" stroke="#f8f040" stroke-width="0.85" stroke-opacity="0.92"/><line x1="39.00" y1="273.38" x2="59.50" y2="283.55" stroke="#e8e830" stroke-width="0.85" stroke-opacity="0.92"/><line x1="39.00" y1="282.91" x2="59.50" y2="290.45" stroke="#f0f020" stroke-width="0.85" stroke-opacity="0.92"/><line x1="39.00" y1="273.32" x2="59.50" y2="281.22" stroke="#f8f040" stroke-width="0.85" stroke-opacity="0.92"/><line x1="39.00" y1="270.76" x2="59.50" y2="281.19" stroke="#e8e830" stroke-width="0.85" stroke-opacity="0.92"/><line x1="39.00" y1="272.98" x2="59.50" y2="280.01" stroke="#f8f040" stroke-width="0.85" stroke-opacity="0.92"/><line x1="39.00" y1="284.00" x2="59.50" y2="292.00" stroke="#f0f020" stroke-width="0.85" stroke-opacity="0.92"/><line x1="39.00" y1="274.83" x2="59.50" y2="286.89" stroke="#f0e820" stroke-width="0.85" stroke-opacity="0.92"/><line x1="39.00" y1="271.88" x2="59.50" y2="281.70" stroke="#989858" stroke-width="0.85" stroke-opacity="0.92"/><line x1="39.00" y1="275.84" x2="59.50" y2="285.19" stroke="#f0f020" stroke-width="0.85" stroke-opacity="0.92"/><line x1="39.00" y1="281.86" x2="59.50" y2="290.67" stroke="#989858" stroke-width="0.85" stroke-opacity="0.92"/><line x1="39.00" y1="269.64" x2="59.50" y2="281.61" stroke="#f0a848" stroke-width="0.85" stroke-opacity="0.9"/><line x1="39.00" y1="267.70" x2="59.50" y2="275.48" stroke="#f0a848" stroke-width="0.85" stroke-opacity="0.9"/><line x1="39.00" y1="264.01" x2="59.50" y2="272.81" stroke="#f0b060" stroke-width="0.85" stroke-opacity="0.9"/><line x1="39.00" y1="268.53" x2="59.50" y2="280.43" stroke="#f0b060" stroke-width="0.85" stroke-opacity="0.9"/><line x1="39.00" y1="271.09" x2="59.50" y2="279.70" stroke="#f0a848" stroke-width="0.85" stroke-opacity="0.9"/><line x1="39.00" y1="270.44" x2="59.50" y2="279.50" stroke="#f0a848" stroke-width="0.85" stroke-opacity="0.9"/><line x1="39.00" y1="263.64" x2="59.50" y2="271.05" stroke="#f09838" stroke-width="0.85" stroke-opacity="0.9"/><line x1="39.00" y1="267.95" x2="59.50" y2="273.70" stroke="#f09838" stroke-width="0.85" stroke-opacity="0.9"/><line x1="39.00" y1="266.82" x2="59.50" y2="273.15" stroke="#f0a848" stroke-width="0.85" stroke-opacity="0.9"/><line x1="39.00" y1="271.93" x2="59.50" y2="280.18" stroke="#f09838" stroke-width="0.85" stroke-opacity="0.9"/><line x1="39.00" y1="263.94" x2="59.50" y2="272.72" stroke="#f09838" stroke-width="0.85" stroke-opacity="0.9"/><line x1="39.00" y1="267.59" x2="59.50" y2="274.77" stroke="#e89030" stroke-width="0.85" stroke-opacity="0.9"/><line x1="39.00" y1="265.46" x2="59.50" y2="271.69" stroke="#f0b060" stroke-width="0.85" stroke-opacity="0.9"/><line x1="39.00" y1="265.21" x2="59.50" y2="274.61" stroke="#f09838" stroke-width="0.85" stroke-opacity="0.9"/><line x1="39.00" y1="279.00" x2="59.50" y2="286.40" stroke="#303030" stroke-width="1.0" stroke-opacity="1"/><line x1="64.25" y1="288.69" x2="85.00" y2="322.00" stroke="#5656a8" stroke-width="0.85" stroke-opacity="0.92"/><line x1="64.25" y1="290.08" x2="85.00" y2="313.44" stroke="#5c5cd0" stroke-width="0.85" stroke-opacity="0.92"/><line x1="64.25" y1="279.00" x2="85.00" y2="298.49" stroke="#3a3ad0" stroke-width="0.85" stroke-opacity="0.92"/><line x1="64.25" y1="285.00" x2="85.00" y2="301.90" stroke="#4040e0" stroke-width="0.85" stroke-opacity="0.92"/><line x1="64.25" y1="280.40" x2="85.00" y2="293.13" stroke="#7a7aa0" stroke-width="0.85" stroke-opacity="0.92"/><line x1="64.25" y1="286.53" x2="85.00" y2="311.40" stroke="#8484e8" stroke-width="0.85" stroke-opacity="0.92"/><line x1="64.25" y1="289.99" x2="85.00" y2="322.00" stroke="#6c6ce0" stroke-width="0.85" stroke-opacity="0.92"/><line x1="64.25" y1="288.97" x2="85.00" y2="319.33" stroke="#6c6ca8" stroke-width="0.85" stroke-opacity="0.92"/><line x1="64.25" y1="285.46" x2="85.00" y2="308.58" stroke="#6262b0" stroke-width="0.85" stroke-opacity="0.92"/><line x1="64.25" y1="287.40" x2="85.00" y2="318.32" stroke="#5050d8" stroke-width="0.85" stroke-opacity="0.92"/><line x1="64.25" y1="289.24" x2="85.00" y2="311.24" stroke="#5c5cd0" stroke-width="0.85" stroke-opacity="0.92"/><line x1="64.25" y1="287.86" x2="85.00" y2="319.03" stroke="#8484e8" stroke-width="0.85" stroke-opacity="0.92"/><line x1="64.25" y1="286.52" x2="85.00" y2="309.22" stroke="#5656a8" stroke-width="0.85" stroke-opacity="0.92"/><line x1="64.25" y1="279.59" x2="85.00" y2="293.00" stroke="#4646d0" stroke-width="0.85" stroke-opacity="0.92"/><line x1="64.25" y1="289.30" x2="85.00" y2="312.17" stroke="#3030d8" stroke-width="0.85" stroke-opacity="0.92"/><line x1="64.25" y1="291.11" x2="85.00" y2="313.98" stroke="#5c5cd0" stroke-width="0.85" stroke-opacity="0.92"/><line x1="64.25" y1="287.76" x2="85.00" y2="309.84" stroke="#5656a8" stroke-width="0.85" stroke-opacity="0.92"/><line x1="64.25" y1="282.04" x2="85.00" y2="300.72" stroke="#3030d8" stroke-width="0.85" stroke-opacity="0.92"/><line x1="64.25" y1="289.98" x2="85.00" y2="317.23" stroke="#6c6ce0" stroke-width="0.85" stroke-opacity="0.92"/><line x1="64.25" y1="285.93" x2="85.00" y2="308.10" stroke="#7a7aa0" stroke-width="0.85" stroke-opacity="0.92"/><line x1="64.25" y1="284.68" x2="85.00" y2="301.95" stroke="#4040e0" stroke-width="0.85" stroke-opacity="0.92"/><line x1="64.25" y1="280.99" x2="85.00" y2="297.60" stroke="#5c5cd0" stroke-width="0.85" stroke-opacity="0.92"/><line x1="64.25" y1="282.46" x2="85.00" y2="300.50" stroke="#5656a8" stroke-width="0.85" stroke-opacity="0.92"/><line x1="64.25" y1="288.16" x2="85.00" y2="313.06" stroke="#3030d8" stroke-width="0.85" stroke-opacity="0.92"/><line x1="64.25" y1="285.20" x2="85.00" y2="306.92" stroke="#8484e8" stroke-width="0.85" stroke-opacity="0.92"/><line x1="64.25" y1="289.37" x2="85.00" y2="313.36" stroke="#8484e8" stroke-width="0.85" stroke-opacity="0.92"/><line x1="64.25" y1="289.20" x2="85.00" y2="311.60" stroke="#6c6ce0" stroke-width="0.85" stroke-opacity="0.92"/><line x1="64.25" y1="279.02" x2="85.00" y2="293.00" stroke="#4040e0" stroke-width="0.85" stroke-opacity="0.92"/><line x1="64.25" y1="290.32" x2="85.00" y2="317.69" stroke="#6c6ce0" stroke-width="0.85" stroke-opacity="0.92"/><line x1="64.25" y1="284.31" x2="85.00" y2="303.78" stroke="#5c5cd0" stroke-width="0.85" stroke-opacity="0.92"/><line x1="64.25" y1="283.99" x2="85.00" y2="300.36" stroke="#8484e8" stroke-width="0.85" stroke-opacity="0.92"/><line x1="64.25" y1="279.25" x2="85.00" y2="297.30" stroke="#6c6ca8" stroke-width="0.85" stroke-opacity="0.92"/><line x1="64.25" y1="284.45" x2="85.00" y2="302.57" stroke="#8484e8" stroke-width="0.85" stroke-opacity="0.92"/><line x1="64.25" y1="286.09" x2="85.00" y2="315.62" stroke="#6c6ce0" stroke-width="0.85" stroke-opacity="0.92"/><line x1="64.25" y1="283.41" x2="85.00" y2="301.26" stroke="#6c6ce0" stroke-width="0.85" stroke-opacity="0.92"/><line x1="64.25" y1="283.44" x2="85.00" y2="300.46" stroke="#9090e8" stroke-width="0.85" stroke-opacity="0.92"/><line x1="64.25" y1="282.30" x2="85.00" y2="305.22" stroke="#8484e8" stroke-width="0.85" stroke-opacity="0.92"/><line x1="64.25" y1="291.96" x2="85.00" y2="316.90" stroke="#3a3ad0" stroke-width="0.85" stroke-opacity="0.92"/><line x1="64.25" y1="265.00" x2="85.00" y2="283.61" stroke="#4040e0" stroke-width="0.85" stroke-opacity="0.92"/><line x1="64.25" y1="271.12" x2="85.00" y2="289.63" stroke="#6c6ca8" stroke-width="0.85" stroke-opacity="0.92"/><line x1="64.25" y1="275.00" x2="85.00" y2="294.00" stroke="#4646d0" stroke-width="0.85" stroke-opacity="0.92"/><line x1="64.25" y1="267.11" x2="85.00" y2="282.73" stroke="#4646d0" stroke-width="0.85" stroke-opacity="0.92"/><line x1="64.25" y1="266.13" x2="85.00" y2="282.71" stroke="#3a3ad0" stroke-width="0.85" stroke-opacity="0.92"/><line x1="64.25" y1="269.10" x2="85.00" y2="286.82" stroke="#4646d0" stroke-width="0.85" stroke-opacity="0.92"/><line x1="64.25" y1="275.00" x2="85.00" y2="291.67" stroke="#4040e0" stroke-width="0.85" stroke-opacity="0.92"/><line x1="64.25" y1="270.51" x2="85.00" y2="286.18" stroke="#6c6ca8" stroke-width="0.85" stroke-opacity="0.92"/><line x1="64.25" y1="270.42" x2="85.00" y2="289.59" stroke="#5656a8" stroke-width="0.85" stroke-opacity="0.92"/><line x1="64.25" y1="273.04" x2="85.00" y2="289.07" stroke="#3030d8" stroke-width="0.85" stroke-opacity="0.92"/><line x1="64.25" y1="268.35" x2="85.00" y2="289.36" stroke="#3a3ad0" stroke-width="0.85" stroke-opacity="0.92"/><line x1="64.25" y1="266.71" x2="85.00" y2="284.01" stroke="#6262b0" stroke-width="0.85" stroke-opacity="0.92"/><line x1="64.25" y1="274.00" x2="85.00" y2="294.00" stroke="#3a3ad0" stroke-width="0.85" stroke-opacity="0.92"/><line x1="64.25" y1="270.50" x2="85.00" y2="290.51" stroke="#6262b0" stroke-width="0.85" stroke-opacity="0.92"/><line x1="64.25" y1="270.64" x2="85.00" y2="287.58" stroke="#4646d0" stroke-width="0.85" stroke-opacity="0.92"/><line x1="64.25" y1="271.35" x2="85.00" y2="287.41" stroke="#3a3ad0" stroke-width="0.85" stroke-opacity="0.92"/><line x1="64.25" y1="269.24" x2="85.00" y2="285.88" stroke="#6262b0" stroke-width="0.85" stroke-opacity="0.92"/><line x1="64.25" y1="272.48" x2="85.00" y2="290.23" stroke="#5050d8" stroke-width="0.85" stroke-opacity="0.92"/><line x1="64.25" y1="283.52" x2="85.00" y2="297.50" stroke="#6262b0" stroke-width="0.85" stroke-opacity="0.92"/><line x1="64.25" y1="272.29" x2="85.00" y2="284.66" stroke="#a8a848" stroke-width="0.85" stroke-opacity="0.92"/><line x1="64.25" y1="290.00" x2="85.00" y2="300.73" stroke="#7a7aa0" stroke-width="0.85" stroke-opacity="0.92"/><line x1="64.25" y1="272.60" x2="85.00" y2="289.76" stroke="#f8f040" stroke-width="0.85" stroke-opacity="0.92"/><line x1="64.25" y1="284.98" x2="85.00" y2="294.65" stroke="#5656a8" stroke-width="0.85" stroke-opacity="0.92"/><line x1="64.25" y1="274.57" x2="85.00" y2="288.07" stroke="#c8c040" stroke-width="0.85" stroke-opacity="0.92"/><line x1="64.25" y1="273.56" x2="85.00" y2="291.01" stroke="#c8c040" stroke-width="0.85" stroke-opacity="0.92"/><line x1="64.25" y1="279.47" x2="85.00" y2="291.19" stroke="#989858" stroke-width="0.85" stroke-opacity="0.92"/><line x1="64.25" y1="270.00" x2="85.00" y2="284.98" stroke="#5656a8" stroke-width="0.85" stroke-opacity="0.92"/><line x1="64.25" y1="282.20" x2="85.00" y2="295.42" stroke="#a8a848" stroke-width="0.85" stroke-opacity="0.92"/><line x1="64.25" y1="279.14" x2="85.00" y2="290.49" stroke="#a8a848" stroke-width="0.85" stroke-opacity="0.92"/><line x1="64.25" y1="284.75" x2="85.00" y2="299.05" stroke="#f0f020" stroke-width="0.85" stroke-opacity="0.92"/><line x1="64.25" y1="272.79" x2="85.00" y2="285.10" stroke="#989858" stroke-width="0.85" stroke-opacity="0.92"/><line x1="64.25" y1="281.20" x2="85.00" y2="297.43" stroke="#f0e820" stroke-width="0.85" stroke-opacity="0.92"/><line x1="64.25" y1="285.09" x2="85.00" y2="300.32" stroke="#b8b040" stroke-width="0.85" stroke-opacity="0.92"/><line x1="64.25" y1="287.96" x2="85.00" y2="301.34" stroke="#e8e830" stroke-width="0.85" stroke-opacity="0.92"/><line x1="64.25" y1="285.70" x2="85.00" y2="296.33" stroke="#7a7aa0" stroke-width="0.85" stroke-opacity="0.92"/><line x1="64.25" y1="271.78" x2="85.00" y2="287.97" stroke="#7a7aa0" stroke-width="0.85" stroke-opacity="0.92"/><line x1="64.25" y1="286.18" x2="85.00" y2="299.10" stroke="#989858" stroke-width="0.85" stroke-opacity="0.92"/><line x1="64.25" y1="275.11" x2="85.00" y2="292.30" stroke="#6262b0" stroke-width="0.85" stroke-opacity="0.92"/><line x1="64.25" y1="284.20" x2="85.00" y2="299.55" stroke="#a8a848" stroke-width="0.85" stroke-opacity="0.92"/><line x1="64.25" y1="271.70" x2="85.00" y2="284.06" stroke="#b8b040" stroke-width="0.85" stroke-opacity="0.92"/><line x1="64.25" y1="270.00" x2="85.00" y2="285.60" stroke="#f8f040" stroke-width="0.85" stroke-opacity="0.92"/><line x1="64.25" y1="280.98" x2="85.00" y2="294.80" stroke="#a8a848" stroke-width="0.85" stroke-opacity="0.92"/><line x1="64.25" y1="286.78" x2="85.00" y2="300.04" stroke="#e8e830" stroke-width="0.85" stroke-opacity="0.92"/><line x1="64.25" y1="274.05" x2="85.00" y2="288.09" stroke="#6262b0" stroke-width="0.85" stroke-opacity="0.92"/><line x1="64.25" y1="271.19" x2="85.00" y2="284.00" stroke="#5656a8" stroke-width="0.85" stroke-opacity="0.92"/><line x1="64.25" y1="276.34" x2="85.00" y2="291.65" stroke="#7a7aa0" stroke-width="0.85" stroke-opacity="0.92"/><line x1="64.25" y1="280.06" x2="85.00" y2="292.06" stroke="#6c6ca8" stroke-width="0.85" stroke-opacity="0.92"/><line x1="64.25" y1="282.15" x2="85.00" y2="295.47" stroke="#f8f040" stroke-width="0.85" stroke-opacity="0.92"/><line x1="64.25" y1="275.34" x2="85.00" y2="289.94" stroke="#f0e820" stroke-width="0.85" stroke-opacity="0.92"/><line x1="64.25" y1="278.39" x2="85.00" y2="288.16" stroke="#989858" stroke-width="0.85" stroke-opacity="0.92"/><line x1="64.25" y1="274.11" x2="85.00" y2="289.36" stroke="#c8c040" stroke-width="0.85" stroke-opacity="0.92"/><line x1="64.25" y1="272.86" x2="85.00" y2="288.66" stroke="#6262b0" stroke-width="0.85" stroke-opacity="0.92"/><line x1="64.25" y1="279.11" x2="85.00" y2="294.93" stroke="#c8c040" stroke-width="0.85" stroke-opacity="0.92"/><line x1="64.25" y1="270.56" x2="85.00" y2="286.69" stroke="#989858" stroke-width="0.85" stroke-opacity="0.92"/><line x1="64.25" y1="289.48" x2="85.00" y2="299.91" stroke="#6262b0" stroke-width="0.85" stroke-opacity="0.92"/><line x1="64.25" y1="284.12" x2="85.00" y2="300.12" stroke="#6c6ca8" stroke-width="0.85" stroke-opacity="0.92"/><line x1="64.25" y1="277.92" x2="85.00" y2="295.17" stroke="#f0f020" stroke-width="0.85" stroke-opacity="0.92"/><line x1="64.25" y1="284.82" x2="85.00" y2="297.92" stroke="#5656a8" stroke-width="0.85" stroke-opacity="0.92"/><line x1="64.25" y1="273.20" x2="85.00" y2="287.94" stroke="#404040" stroke-width="0.85" stroke-opacity="0.92"/><line x1="64.25" y1="276.31" x2="85.00" y2="289.58" stroke="#303030" stroke-width="0.85" stroke-opacity="0.92"/><line x1="64.25" y1="277.00" x2="85.00" y2="291.60" stroke="#404040" stroke-width="1.0" stroke-opacity="1"/><line x1="64.25" y1="259.19" x2="85.00" y2="277.00" stroke="#f0f080" stroke-width="0.85" stroke-opacity="0.92"/><line x1="64.25" y1="262.00" x2="85.00" y2="280.00" stroke="#f0f080" stroke-width="0.85" stroke-opacity="0.92"/><line x1="89.50" y1="285.48" x2="110.00" y2="303.38" stroke="#6c6ce0" stroke-width="0.85" stroke-opacity="0.92"/><line x1="89.50" y1="290.85" x2="110.00" y2="320.36" stroke="#3a3ad0" stroke-width="0.85" stroke-opacity="0.92"/><line x1="89.50" y1="286.87" x2="110.00" y2="308.99" stroke="#8484e8" stroke-width="0.85" stroke-opacity="0.92"/><line x1="89.50" y1="291.57" x2="110.00" y2="319.50" stroke="#6c6ce0" stroke-width="0.85" stroke-opacity="0.92"/><line x1="89.50" y1="294.35" x2="110.00" y2="320.21" stroke="#3a3ad0" stroke-width="0.85" stroke-opacity="0.92"/><line x1="89.50" y1="282.00" x2="110.00" y2="294.00" stroke="#9090e8" stroke-width="0.85" stroke-opacity="0.92"/><line x1="89.50" y1="290.34" x2="110.00" y2="311.32" stroke="#8484e8" stroke-width="0.85" stroke-opacity="0.92"/><line x1="89.50" y1="295.06" x2="110.00" y2="319.64" stroke="#6c6ce0" stroke-width="0.85" stroke-opacity="0.92"/><line x1="89.50" y1="291.35" x2="110.00" y2="310.50" stroke="#6c6ca8" stroke-width="0.85" stroke-opacity="0.92"/><line x1="89.50" y1="292.16" x2="110.00" y2="320.40" stroke="#5c5cd0" stroke-width="0.85" stroke-opacity="0.92"/><line x1="89.50" y1="292.76" x2="110.00" y2="321.74" stroke="#8484e8" stroke-width="0.85" stroke-opacity="0.92"/><line x1="89.50" y1="293.03" x2="110.00" y2="320.74" stroke="#5050d8" stroke-width="0.85" stroke-opacity="0.92"/><line x1="89.50" y1="294.02" x2="110.00" y2="317.26" stroke="#9090e8" stroke-width="0.85" stroke-opacity="0.92"/><line x1="89.50" y1="283.89" x2="110.00" y2="295.97" stroke="#8484e8" stroke-width="0.85" stroke-opacity="0.92"/><line x1="89.50" y1="293.81" x2="110.00" y2="319.63" stroke="#6262b0" stroke-width="0.85" stroke-opacity="0.92"/><line x1="89.50" y1="293.79" x2="110.00" y2="314.18" stroke="#6262b0" stroke-width="0.85" stroke-opacity="0.92"/><line x1="89.50" y1="282.00" x2="110.00" y2="295.44" stroke="#9090e8" stroke-width="0.85" stroke-opacity="0.92"/><line x1="89.50" y1="283.70" x2="110.00" y2="299.09" stroke="#4646d0" stroke-width="0.85" stroke-opacity="0.92"/><line x1="89.50" y1="286.57" x2="110.00" y2="311.41" stroke="#4646d0" stroke-width="0.85" stroke-opacity="0.92"/><line x1="89.50" y1="293.34" x2="110.00" y2="320.29" stroke="#6c6ca8" stroke-width="0.85" stroke-opacity="0.92"/><line x1="89.50" y1="289.37" x2="110.00" y2="305.89" stroke="#5c5cd0" stroke-width="0.85" stroke-opacity="0.92"/><line x1="89.50" y1="284.25" x2="110.00" y2="303.56" stroke="#4040e0" stroke-width="0.85" stroke-opacity="0.92"/><line x1="89.50" y1="288.71" x2="110.00" y2="309.04" stroke="#6c6ca8" stroke-width="0.85" stroke-opacity="0.92"/><line x1="89.50" y1="291.77" x2="110.00" y2="312.83" stroke="#6c6ca8" stroke-width="0.85" stroke-opacity="0.92"/><line x1="89.50" y1="292.96" x2="110.00" y2="318.82" stroke="#5656a8" stroke-width="0.85" stroke-opacity="0.92"/><line x1="89.50" y1="285.00" x2="110.00" y2="302.33" stroke="#5c5cd0" stroke-width="0.85" stroke-opacity="0.92"/><line x1="89.50" y1="291.91" x2="110.00" y2="318.93" stroke="#5050d8" stroke-width="0.85" stroke-opacity="0.92"/><line x1="89.50" y1="283.65" x2="110.00" y2="296.49" stroke="#5c5cd0" stroke-width="0.85" stroke-opacity="0.92"/><line x1="89.50" y1="294.83" x2="110.00" y2="313.54" stroke="#5c5cd0" stroke-width="0.85" stroke-opacity="0.92"/><line x1="89.50" y1="291.89" x2="110.00" y2="308.86" stroke="#4040e0" stroke-width="0.85" stroke-opacity="0.92"/><line x1="89.50" y1="293.45" x2="110.00" y2="316.75" stroke="#6c6ca8" stroke-width="0.85" stroke-opacity="0.92"/><line x1="89.50" y1="282.00" x2="110.00" y2="299.34" stroke="#5c5cd0" stroke-width="0.85" stroke-opacity="0.92"/><line x1="89.50" y1="290.94" x2="110.00" y2="317.77" stroke="#6262b0" stroke-width="0.85" stroke-opacity="0.92"/><line x1="89.50" y1="284.23" x2="110.00" y2="297.55" stroke="#4040e0" stroke-width="0.85" stroke-opacity="0.92"/><line x1="89.50" y1="294.24" x2="110.00" y2="313.15" stroke="#5050d8" stroke-width="0.85" stroke-opacity="0.92"/><line x1="89.50" y1="291.88" x2="110.00" y2="318.32" stroke="#4040e0" stroke-width="0.85" stroke-opacity="0.92"/><line x1="89.50" y1="291.06" x2="110.00" y2="308.23" stroke="#3a3ad0" stroke-width="0.85" stroke-opacity="0.92"/><line x1="89.50" y1="282.00" x2="110.00" y2="297.50" stroke="#4646d0" stroke-width="0.85" stroke-opacity="0.92"/><line x1="89.50" y1="279.85" x2="110.00" y2="293.56" stroke="#6262b0" stroke-width="0.85" stroke-opacity="0.92"/><line x1="89.50" y1="268.00" x2="110.00" y2="285.64" stroke="#a8a848" stroke-width="0.85" stroke-opacity="0.92"/><line x1="89.50" y1="279.18" x2="110.00" y2="292.55" stroke="#f8f040" stroke-width="0.85" stroke-opacity="0.92"/><line x1="89.50" y1="270.71" x2="110.00" y2="286.12" stroke="#c8c040" stroke-width="0.85" stroke-opacity="0.92"/><line x1="89.50" y1="273.97" x2="110.00" y2="289.03" stroke="#5656a8" stroke-width="0.85" stroke-opacity="0.92"/><line x1="89.50" y1="274.87" x2="110.00" y2="294.30" stroke="#6262b0" stroke-width="0.85" stroke-opacity="0.92"/><line x1="89.50" y1="280.61" x2="110.00" y2="291.13" stroke="#f8f040" stroke-width="0.85" stroke-opacity="0.92"/><line x1="89.50" y1="288.99" x2="110.00" y2="297.14" stroke="#989858" stroke-width="0.85" stroke-opacity="0.92"/><line x1="89.50" y1="272.77" x2="110.00" y2="287.83" stroke="#c8c040" stroke-width="0.85" stroke-opacity="0.92"/><line x1="89.50" y1="284.50" x2="110.00" y2="296.37" stroke="#f0f020" stroke-width="0.85" stroke-opacity="0.92"/><line x1="89.50" y1="268.00" x2="110.00" y2="286.41" stroke="#6c6ca8" stroke-width="0.85" stroke-opacity="0.92"/><line x1="89.50" y1="271.95" x2="110.00" y2="290.46" stroke="#6c6ca8" stroke-width="0.85" stroke-opacity="0.92"/><line x1="89.50" y1="278.73" x2="110.00" y2="295.74" stroke="#f0e820" stroke-width="0.85" stroke-opacity="0.92"/><line x1="89.50" y1="290.00" x2="110.00" y2="301.60" stroke="#f0f020" stroke-width="0.85" stroke-opacity="0.92"/><line x1="89.50" y1="280.33" x2="110.00" y2="298.28" stroke="#f0f020" stroke-width="0.85" stroke-opacity="0.92"/><line x1="89.50" y1="274.88" x2="110.00" y2="286.92" stroke="#7a7aa0" stroke-width="0.85" stroke-opacity="0.92"/><line x1="89.50" y1="272.85" x2="110.00" y2="288.28" stroke="#f0f020" stroke-width="0.85" stroke-opacity="0.92"/><line x1="89.50" y1="272.46" x2="110.00" y2="289.53" stroke="#5656a8" stroke-width="0.85" stroke-opacity="0.92"/><line x1="89.50" y1="282.25" x2="110.00" y2="296.47" stroke="#989858" stroke-width="0.85" stroke-opacity="0.92"/><line x1="89.50" y1="272.38" x2="110.00" y2="288.46" stroke="#f0f020" stroke-width="0.85" stroke-opacity="0.92"/><line x1="89.50" y1="275.79" x2="110.00" y2="289.36" stroke="#989858" stroke-width="0.85" stroke-opacity="0.92"/><line x1="89.50" y1="269.83" x2="110.00" y2="284.00" stroke="#989858" stroke-width="0.85" stroke-opacity="0.92"/><line x1="89.50" y1="285.69" x2="110.00" y2="296.17" stroke="#989858" stroke-width="0.85" stroke-opacity="0.92"/><line x1="89.50" y1="276.27" x2="110.00" y2="289.30" stroke="#f0e820" stroke-width="0.85" stroke-opacity="0.92"/><line x1="89.50" y1="287.01" x2="110.00" y2="301.55" stroke="#5656a8" stroke-width="0.85" stroke-opacity="0.92"/><line x1="89.50" y1="280.91" x2="110.00" y2="298.20" stroke="#6262b0" stroke-width="0.85" stroke-opacity="0.92"/><line x1="89.50" y1="286.26" x2="110.00" y2="294.20" stroke="#f8f040" stroke-width="0.85" stroke-opacity="0.92"/><line x1="89.50" y1="274.48" x2="110.00" y2="290.01" stroke="#7a7aa0" stroke-width="0.85" stroke-opacity="0.92"/><line x1="89.50" y1="275.15" x2="110.00" y2="291.33" stroke="#e8e830" stroke-width="0.85" stroke-opacity="0.92"/><line x1="89.50" y1="282.19" x2="110.00" y2="293.19" stroke="#7a7aa0" stroke-width="0.85" stroke-opacity="0.92"/><line x1="89.50" y1="273.53" x2="110.00" y2="288.26" stroke="#f0f020" stroke-width="0.85" stroke-opacity="0.92"/><line x1="89.50" y1="272.44" x2="110.00" y2="286.41" stroke="#6c6ca8" stroke-width="0.85" stroke-opacity="0.92"/><line x1="89.50" y1="290.00" x2="110.00" y2="301.85" stroke="#5656a8" stroke-width="0.85" stroke-opacity="0.92"/><line x1="89.50" y1="268.00" x2="110.00" y2="284.66" stroke="#f0e820" stroke-width="0.85" stroke-opacity="0.92"/><line x1="89.50" y1="268.00" x2="110.00" y2="284.00" stroke="#989858" stroke-width="0.85" stroke-opacity="0.92"/><line x1="89.50" y1="270.02" x2="110.00" y2="286.54" stroke="#5656a8" stroke-width="0.85" stroke-opacity="0.92"/><line x1="89.50" y1="290.00" x2="110.00" y2="300.23" stroke="#c8c040" stroke-width="0.85" stroke-opacity="0.92"/><line x1="89.50" y1="269.27" x2="110.00" y2="286.14" stroke="#b8b040" stroke-width="0.85" stroke-opacity="0.92"/><line x1="89.50" y1="281.17" x2="110.00" y2="299.18" stroke="#f0e820" stroke-width="0.85" stroke-opacity="0.92"/><line x1="89.50" y1="286.69" x2="110.00" y2="298.55" stroke="#f8f040" stroke-width="0.85" stroke-opacity="0.92"/><line x1="89.50" y1="266.78" x2="110.00" y2="280.00" stroke="#303030" stroke-width="0.85" stroke-opacity="0.92"/><line x1="89.50" y1="268.40" x2="110.00" y2="284.60" stroke="#303030" stroke-width="1.0" stroke-opacity="1"/><line x1="89.50" y1="262.89" x2="110.00" y2="280.95" stroke="#f0b060" stroke-width="0.85" stroke-opacity="0.92"/><line x1="89.50" y1="262.54" x2="110.00" y2="280.78" stroke="#f0c080" stroke-width="0.85" stroke-opacity="0.92"/><line x1="89.50" y1="255.44" x2="110.00" y2="274.61" stroke="#f8c890" stroke-width="0.85" stroke-opacity="0.92"/><line x1="89.50" y1="259.72" x2="110.00" y2="277.44" stroke="#f0c080" stroke-width="0.85" stroke-opacity="0.92"/><line x1="89.50" y1="255.01" x2="110.00" y2="273.00" stroke="#f0c080" stroke-width="0.85" stroke-opacity="0.92"/><line x1="89.50" y1="264.82" x2="110.00" y2="283.44" stroke="#f0c080" stroke-width="0.85" stroke-opacity="0.92"/><line x1="89.50" y1="257.47" x2="110.00" y2="273.70" stroke="#f8d0a0" stroke-width="0.85" stroke-opacity="0.92"/><line x1="89.50" y1="257.37" x2="110.00" y2="276.06" stroke="#f0b060" stroke-width="0.85" stroke-opacity="0.92"/><line x1="89.50" y1="257.68" x2="110.00" y2="276.25" stroke="#f8c890" stroke-width="0.85" stroke-opacity="0.92"/><line x1="89.50" y1="256.45" x2="110.00" y2="274.54" stroke="#f8c890" stroke-width="0.85" stroke-opacity="0.92"/><line x1="89.50" y1="263.53" x2="110.00" y2="283.68" stroke="#f8d0a0" stroke-width="0.85" stroke-opacity="0.92"/><line x1="89.50" y1="263.08" x2="110.00" y2="283.11" stroke="#f0b060" stroke-width="0.85" stroke-opacity="0.92"/><line x1="115.00" y1="271.29" x2="135.00" y2="302.49" stroke="#5c5cd0" stroke-width="0.8" stroke-opacity="0.92"/><line x1="115.00" y1="266.68" x2="135.00" y2="295.52" stroke="#3030d8" stroke-width="0.8" stroke-opacity="0.92"/><line x1="115.00" y1="275.12" x2="135.00" y2="316.04" stroke="#4040e0" stroke-width="0.8" stroke-opacity="0.92"/><line x1="115.00" y1="269.77" x2="135.00" y2="298.10" stroke="#5050d8" stroke-width="0.8" stroke-opacity="0.92"/><line x1="115.00" y1="273.68" x2="135.00" y2="314.13" stroke="#9090e8" stroke-width="0.8" stroke-opacity="0.92"/><line x1="115.00" y1="265.73" x2="135.00" y2="286.56" stroke="#4040e0" stroke-width="0.8" stroke-opacity="0.92"/><line x1="115.00" y1="284.94" x2="135.00" y2="325.29" stroke="#8484e8" stroke-width="0.8" stroke-opacity="0.92"/><line x1="115.00" y1="273.29" x2="135.00" y2="290.37" stroke="#4040e0" stroke-width="0.8" stroke-opacity="0.92"/><line x1="115.00" y1="278.75" x2="135.00" y2="306.34" stroke="#3030d8" stroke-width="0.8" stroke-opacity="0.92"/><line x1="115.00" y1="264.00" x2="135.00" y2="299.35" stroke="#5c5cd0" stroke-width="0.8" stroke-opacity="0.92"/><line x1="115.00" y1="280.83" x2="135.00" y2="332.80" stroke="#8484e8" stroke-width="0.8" stroke-opacity="0.92"/><line x1="115.00" y1="268.77" x2="135.00" y2="304.76" stroke="#6c6ce0" stroke-width="0.8" stroke-opacity="0.92"/><line x1="115.00" y1="268.76" x2="135.00" y2="286.89" stroke="#5050d8" stroke-width="0.8" stroke-opacity="0.92"/><line x1="115.00" y1="264.00" x2="135.00" y2="297.34" stroke="#9090e8" stroke-width="0.8" stroke-opacity="0.92"/><line x1="115.00" y1="291.28" x2="135.00" y2="335.80" stroke="#3a3ad0" stroke-width="0.8" stroke-opacity="0.92"/><line x1="115.00" y1="275.32" x2="135.00" y2="311.90" stroke="#6c6ce0" stroke-width="0.8" stroke-opacity="0.92"/><line x1="115.00" y1="266.00" x2="135.00" y2="288.31" stroke="#6c6ce0" stroke-width="0.8" stroke-opacity="0.92"/><line x1="115.00" y1="289.73" x2="135.00" y2="319.06" stroke="#8484e8" stroke-width="0.8" stroke-opacity="0.92"/><line x1="115.00" y1="265.26" x2="135.00" y2="296.00" stroke="#5c5cd0" stroke-width="0.8" stroke-opacity="0.92"/><line x1="115.00" y1="264.00" x2="135.00" y2="284.00" stroke="#5c5cd0" stroke-width="0.8" stroke-opacity="0.92"/><line x1="115.00" y1="292.00" x2="135.00" y2="329.64" stroke="#6c6ce0" stroke-width="0.8" stroke-opacity="0.92"/><line x1="115.00" y1="286.48" x2="135.00" y2="311.78" stroke="#8484e8" stroke-width="0.8" stroke-opacity="0.92"/><line x1="115.00" y1="266.66" x2="135.00" y2="292.18" stroke="#3030d8" stroke-width="0.8" stroke-opacity="0.92"/><line x1="115.00" y1="277.52" x2="135.00" y2="320.46" stroke="#5c5cd0" stroke-width="0.8" stroke-opacity="0.92"/><line x1="115.00" y1="278.80" x2="135.00" y2="329.53" stroke="#4040e0" stroke-width="0.8" stroke-opacity="0.92"/><line x1="115.00" y1="283.18" x2="135.00" y2="336.00" stroke="#5c5cd0" stroke-width="0.8" stroke-opacity="0.92"/><line x1="115.00" y1="278.24" x2="135.00" y2="304.74" stroke="#3a3ad0" stroke-width="0.8" stroke-opacity="0.92"/><line x1="115.00" y1="273.20" x2="135.00" y2="309.55" stroke="#3a3ad0" stroke-width="0.8" stroke-opacity="0.92"/><line x1="115.00" y1="283.70" x2="135.00" y2="306.77" stroke="#3a3ad0" stroke-width="0.8" stroke-opacity="0.92"/><line x1="115.00" y1="272.70" x2="135.00" y2="294.82" stroke="#5c5cd0" stroke-width="0.8" stroke-opacity="0.92"/><line x1="115.00" y1="282.70" x2="135.00" y2="303.80" stroke="#4040e0" stroke-width="0.8" stroke-opacity="0.92"/><line x1="115.00" y1="276.57" x2="135.00" y2="311.05" stroke="#4646d0" stroke-width="0.8" stroke-opacity="0.92"/><line x1="115.00" y1="286.85" x2="135.00" y2="331.27" stroke="#9090e8" stroke-width="0.8" stroke-opacity="0.92"/><line x1="115.00" y1="264.00" x2="135.00" y2="284.00" stroke="#6c6ce0" stroke-width="0.8" stroke-opacity="0.92"/><line x1="115.00" y1="291.00" x2="135.00" y2="320.19" stroke="#6c6ce0" stroke-width="0.8" stroke-opacity="0.92"/><line x1="115.00" y1="287.57" x2="135.00" y2="330.29" stroke="#5050d8" stroke-width="0.8" stroke-opacity="0.92"/><line x1="115.00" y1="292.00" x2="135.00" y2="323.79" stroke="#8484e8" stroke-width="0.8" stroke-opacity="0.92"/><line x1="115.00" y1="284.07" x2="135.00" y2="319.02" stroke="#5050d8" stroke-width="0.8" stroke-opacity="0.92"/><line x1="115.00" y1="285.95" x2="135.00" y2="292.00" stroke="#e8e830" stroke-width="0.85" stroke-opacity="0.92"/><line x1="115.00" y1="290.70" x2="135.00" y2="309.83" stroke="#f0e820" stroke-width="0.85" stroke-opacity="0.92"/><line x1="115.00" y1="297.32" x2="135.00" y2="313.14" stroke="#c8c040" stroke-width="0.85" stroke-opacity="0.92"/><line x1="115.00" y1="288.46" x2="135.00" y2="300.61" stroke="#f0e820" stroke-width="0.85" stroke-opacity="0.92"/><line x1="115.00" y1="289.61" x2="135.00" y2="303.96" stroke="#b8b040" stroke-width="0.85" stroke-opacity="0.92"/><line x1="115.00" y1="287.50" x2="135.00" y2="295.34" stroke="#e8e830" stroke-width="0.85" stroke-opacity="0.92"/><line x1="115.00" y1="302.00" x2="135.00" y2="319.94" stroke="#b8b040" stroke-width="0.85" stroke-opacity="0.92"/><line x1="115.00" y1="289.56" x2="135.00" y2="305.65" stroke="#f0e820" stroke-width="0.85" stroke-opacity="0.92"/><line x1="115.00" y1="291.59" x2="135.00" y2="315.77" stroke="#f8f040" stroke-width="0.85" stroke-opacity="0.92"/><line x1="115.00" y1="298.44" x2="135.00" y2="304.81" stroke="#c8c040" stroke-width="0.85" stroke-opacity="0.92"/><line x1="115.00" y1="291.41" x2="135.00" y2="309.04" stroke="#f8f040" stroke-width="0.85" stroke-opacity="0.92"/><line x1="115.00" y1="290.19" x2="135.00" y2="301.69" stroke="#f8f040" stroke-width="0.85" stroke-opacity="0.92"/><line x1="115.00" y1="297.45" x2="135.00" y2="322.00" stroke="#f0a030" stroke-width="0.85" stroke-opacity="0.92"/><line x1="115.00" y1="294.80" x2="135.00" y2="310.27" stroke="#f8f040" stroke-width="0.85" stroke-opacity="0.92"/><line x1="115.00" y1="291.50" x2="135.00" y2="301.33" stroke="#c8c040" stroke-width="0.85" stroke-opacity="0.92"/><line x1="115.00" y1="293.61" x2="135.00" y2="310.84" stroke="#f8f040" stroke-width="0.85" stroke-opacity="0.92"/><line x1="115.00" y1="295.71" x2="135.00" y2="318.52" stroke="#f8f040" stroke-width="0.85" stroke-opacity="0.92"/><line x1="115.00" y1="289.33" x2="135.00" y2="297.85" stroke="#e89828" stroke-width="0.85" stroke-opacity="0.92"/><line x1="115.00" y1="289.40" x2="135.00" y2="306.27" stroke="#989858" stroke-width="0.85" stroke-opacity="0.92"/><line x1="115.00" y1="295.46" x2="135.00" y2="308.26" stroke="#c8c040" stroke-width="0.85" stroke-opacity="0.92"/><line x1="115.00" y1="297.63" x2="135.00" y2="317.01" stroke="#b8b040" stroke-width="0.85" stroke-opacity="0.92"/><line x1="115.00" y1="294.02" x2="135.00" y2="307.09" stroke="#e8e830" stroke-width="0.85" stroke-opacity="0.92"/><line x1="115.00" y1="290.04" x2="135.00" y2="304.74" stroke="#e89828" stroke-width="0.85" stroke-opacity="0.92"/><line x1="115.00" y1="298.29" x2="135.00" y2="322.00" stroke="#a8a848" stroke-width="0.85" stroke-opacity="0.92"/><line x1="115.00" y1="291.61" x2="135.00" y2="304.93" stroke="#c8c040" stroke-width="0.85" stroke-opacity="0.92"/><line x1="115.00" y1="302.00" x2="135.00" y2="318.82" stroke="#f8f040" stroke-width="0.85" stroke-opacity="0.92"/><line x1="115.00" y1="300.90" x2="135.00" y2="317.60" stroke="#f0a030" stroke-width="0.85" stroke-opacity="0.92"/><line x1="115.00" y1="283.15" x2="135.00" y2="292.74" stroke="#e8e830" stroke-width="0.85" stroke-opacity="0.92"/><line x1="115.00" y1="282.00" x2="135.00" y2="292.00" stroke="#e8e830" stroke-width="0.85" stroke-opacity="0.92"/><line x1="115.00" y1="289.41" x2="135.00" y2="307.26" stroke="#f0f020" stroke-width="0.85" stroke-opacity="0.92"/><line x1="115.00" y1="259.00" x2="135.00" y2="292.00" stroke="#606060" stroke-width="0.9" stroke-opacity="1"/><line x1="115.00" y1="310.00" x2="135.00" y2="327.00" stroke="#404040" stroke-width="1.0" stroke-opacity="1"/><line x1="115.00" y1="300.00" x2="135.00" y2="352.00" stroke="#e8a060" stroke-width="0.85" stroke-opacity="0.92"/><line x1="115.00" y1="324.30" x2="135.00" y2="324.30" stroke="#f0c8a0" stroke-width="0.85" stroke-opacity="0.92"/><line x1="139.50" y1="251.00" x2="159.50" y2="271.21" stroke="#4646d0" stroke-width="0.8" stroke-opacity="0.92"/><line x1="139.50" y1="277.94" x2="159.50" y2="284.48" stroke="#5c5cd0" stroke-width="0.8" stroke-opacity="0.92"/><line x1="139.50" y1="256.92" x2="159.50" y2="274.52" stroke="#7a7aa0" stroke-width="0.8" stroke-opacity="0.92"/><line x1="139.50" y1="251.00" x2="159.50" y2="264.34" stroke="#8484e8" stroke-width="0.8" stroke-opacity="0.92"/><line x1="139.50" y1="251.15" x2="159.50" y2="264.91" stroke="#3030d8" stroke-width="0.8" stroke-opacity="0.92"/><line x1="139.50" y1="267.20" x2="159.50" y2="290.44" stroke="#4040e0" stroke-width="0.8" stroke-opacity="0.92"/><line x1="139.50" y1="273.19" x2="159.50" y2="287.45" stroke="#404060" stroke-width="0.8" stroke-opacity="0.92"/><line x1="139.50" y1="251.00" x2="159.50" y2="270.51" stroke="#6262b0" stroke-width="0.8" stroke-opacity="0.92"/><line x1="139.50" y1="255.16" x2="159.50" y2="284.43" stroke="#4040e0" stroke-width="0.8" stroke-opacity="0.92"/><line x1="139.50" y1="256.46" x2="159.50" y2="258.00" stroke="#5050d8" stroke-width="0.8" stroke-opacity="0.92"/><line x1="139.50" y1="265.92" x2="159.50" y2="273.22" stroke="#3a3ad0" stroke-width="0.8" stroke-opacity="0.92"/><line x1="139.50" y1="255.80" x2="159.50" y2="258.00" stroke="#5050d8" stroke-width="0.8" stroke-opacity="0.92"/><line x1="139.50" y1="260.92" x2="159.50" y2="264.99" stroke="#4040e0" stroke-width="0.8" stroke-opacity="0.92"/><line x1="139.50" y1="272.01" x2="159.50" y2="287.96" stroke="#6c6ca8" stroke-width="0.8" stroke-opacity="0.92"/><line x1="139.50" y1="270.64" x2="159.50" y2="282.16" stroke="#5c5cd0" stroke-width="0.8" stroke-opacity="0.92"/><line x1="139.50" y1="279.06" x2="159.50" y2="292.24" stroke="#5656a8" stroke-width="0.8" stroke-opacity="0.92"/><line x1="139.50" y1="270.72" x2="159.50" y2="283.98" stroke="#5656a8" stroke-width="0.8" stroke-opacity="0.92"/><line x1="139.50" y1="264.66" x2="159.50" y2="265.44" stroke="#5050d8" stroke-width="0.8" stroke-opacity="0.92"/><line x1="139.50" y1="252.66" x2="159.50" y2="258.00" stroke="#6c6ca8" stroke-width="0.8" stroke-opacity="0.92"/><line x1="139.50" y1="275.78" x2="159.50" y2="284.44" stroke="#3030d8" stroke-width="0.8" stroke-opacity="0.92"/><line x1="139.50" y1="277.56" x2="159.50" y2="296.00" stroke="#6c6ca8" stroke-width="0.8" stroke-opacity="0.92"/><line x1="139.50" y1="272.28" x2="159.50" y2="291.50" stroke="#3030d8" stroke-width="0.8" stroke-opacity="0.92"/><line x1="139.50" y1="272.26" x2="159.50" y2="281.61" stroke="#3030d8" stroke-width="0.8" stroke-opacity="0.92"/><line x1="139.50" y1="261.26" x2="159.50" y2="261.26" stroke="#6c6ce0" stroke-width="0.8" stroke-opacity="0.92"/><line x1="139.50" y1="280.00" x2="159.50" y2="288.53" stroke="#5656a8" stroke-width="0.8" stroke-opacity="0.92"/><line x1="139.50" y1="260.85" x2="159.50" y2="281.87" stroke="#6c6ce0" stroke-width="0.8" stroke-opacity="0.92"/><line x1="139.50" y1="262.07" x2="159.50" y2="280.50" stroke="#6c6ca8" stroke-width="0.8" stroke-opacity="0.92"/><line x1="139.50" y1="271.37" x2="159.50" y2="296.00" stroke="#9090e8" stroke-width="0.8" stroke-opacity="0.92"/><line x1="139.50" y1="277.58" x2="159.50" y2="288.79" stroke="#a8a848" stroke-width="0.85" stroke-opacity="0.92"/><line x1="139.50" y1="300.68" x2="159.50" y2="308.56" stroke="#989858" stroke-width="0.85" stroke-opacity="0.92"/><line x1="139.50" y1="281.37" x2="159.50" y2="295.83" stroke="#f0e820" stroke-width="0.85" stroke-opacity="0.92"/><line x1="139.50" y1="300.68" x2="159.50" y2="299.35" stroke="#f0b050" stroke-width="0.85" stroke-opacity="0.92"/><line x1="139.50" y1="274.00" x2="159.50" y2="282.00" stroke="#e8e830" stroke-width="0.85" stroke-opacity="0.92"/><line x1="139.50" y1="301.85" x2="159.50" y2="309.78" stroke="#f8f040" stroke-width="0.85" stroke-opacity="0.92"/><line x1="139.50" y1="283.80" x2="159.50" y2="286.92" stroke="#989858" stroke-width="0.85" stroke-opacity="0.92"/><line x1="139.50" y1="291.86" x2="159.50" y2="294.29" stroke="#f0a030" stroke-width="0.85" stroke-opacity="0.92"/><line x1="139.50" y1="274.00" x2="159.50" y2="290.54" stroke="#b8b040" stroke-width="0.85" stroke-opacity="0.92"/><line x1="139.50" y1="296.43" x2="159.50" y2="300.89" stroke="#a8a848" stroke-width="0.85" stroke-opacity="0.92"/><line x1="139.50" y1="296.57" x2="159.50" y2="303.95" stroke="#e8e830" stroke-width="0.85" stroke-opacity="0.92"/><line x1="139.50" y1="304.62" x2="159.50" y2="308.80" stroke="#f0a030" stroke-width="0.85" stroke-opacity="0.92"/><line x1="139.50" y1="280.81" x2="159.50" y2="289.79" stroke="#c8c040" stroke-width="0.85" stroke-opacity="0.92"/><line x1="139.50" y1="303.18" x2="159.50" y2="318.00" stroke="#e89828" stroke-width="0.85" stroke-opacity="0.92"/><line x1="139.50" y1="279.04" x2="159.50" y2="297.97" stroke="#989858" stroke-width="0.85" stroke-opacity="0.92"/><line x1="139.50" y1="298.40" x2="159.50" y2="298.59" stroke="#f0f020" stroke-width="0.85" stroke-opacity="0.92"/><line x1="139.50" y1="302.82" x2="159.50" y2="304.26" stroke="#a8a848" stroke-width="0.85" stroke-opacity="0.92"/><line x1="139.50" y1="299.80" x2="159.50" y2="311.97" stroke="#989858" stroke-width="0.85" stroke-opacity="0.92"/><line x1="139.50" y1="278.38" x2="159.50" y2="297.07" stroke="#989858" stroke-width="0.85" stroke-opacity="0.92"/><line x1="139.50" y1="285.54" x2="159.50" y2="290.96" stroke="#a8a848" stroke-width="0.85" stroke-opacity="0.92"/><line x1="139.50" y1="274.00" x2="159.50" y2="293.34" stroke="#b8b040" stroke-width="0.85" stroke-opacity="0.92"/><line x1="139.50" y1="302.52" x2="159.50" y2="310.43" stroke="#f8f040" stroke-width="0.85" stroke-opacity="0.92"/><line x1="139.50" y1="302.45" x2="159.50" y2="303.35" stroke="#e8e830" stroke-width="0.85" stroke-opacity="0.92"/><line x1="139.50" y1="303.16" x2="159.50" y2="304.73" stroke="#f0b050" stroke-width="0.85" stroke-opacity="0.92"/><line x1="139.50" y1="283.42" x2="159.50" y2="290.26" stroke="#f8f040" stroke-width="0.85" stroke-opacity="0.92"/><line x1="139.50" y1="288.63" x2="159.50" y2="307.18" stroke="#989858" stroke-width="0.85" stroke-opacity="0.92"/><line x1="139.50" y1="297.43" x2="159.50" y2="311.01" stroke="#e8e830" stroke-width="0.85" stroke-opacity="0.92"/><line x1="139.50" y1="306.00" x2="159.50" y2="318.00" stroke="#f0a030" stroke-width="0.85" stroke-opacity="0.92"/><line x1="139.50" y1="287.65" x2="159.50" y2="312.15" stroke="#f0a030" stroke-width="0.85" stroke-opacity="0.92"/><line x1="139.50" y1="306.00" x2="159.50" y2="316.71" stroke="#c8c040" stroke-width="0.85" stroke-opacity="0.92"/><line x1="139.50" y1="304.95" x2="159.50" y2="305.01" stroke="#989858" stroke-width="0.85" stroke-opacity="0.92"/><line x1="139.50" y1="278.57" x2="159.50" y2="288.12" stroke="#f0f020" stroke-width="0.85" stroke-opacity="0.92"/><line x1="139.50" y1="295.31" x2="159.50" y2="312.17" stroke="#e89828" stroke-width="0.85" stroke-opacity="0.92"/><line x1="139.50" y1="280.02" x2="159.50" y2="282.00" stroke="#c8c040" stroke-width="0.85" stroke-opacity="0.92"/><line x1="139.50" y1="291.46" x2="159.50" y2="304.62" stroke="#b8b040" stroke-width="0.85" stroke-opacity="0.92"/><line x1="139.50" y1="286.03" x2="159.50" y2="300.26" stroke="#c8c040" stroke-width="0.85" stroke-opacity="0.92"/><line x1="139.50" y1="249.00" x2="159.50" y2="255.50" stroke="#505070" stroke-width="0.9" stroke-opacity="1"/><line x1="139.50" y1="319.50" x2="159.50" y2="332.00" stroke="#303030" stroke-width="1.0" stroke-opacity="1"/><line x1="139.50" y1="314.29" x2="159.50" y2="297.59" stroke="#f0c070" stroke-width="0.85" stroke-opacity="0.92"/><line x1="139.50" y1="312.83" x2="159.50" y2="295.00" stroke="#f0c070" stroke-width="0.85" stroke-opacity="0.92"/><line x1="139.50" y1="315.38" x2="159.50" y2="297.86" stroke="#f0c070" stroke-width="0.85" stroke-opacity="0.92"/><line x1="164.25" y1="282.00" x2="184.50" y2="301.01" stroke="#4646d0" stroke-width="0.8" stroke-opacity="0.92"/><line x1="164.25" y1="302.52" x2="184.50" y2="314.05" stroke="#6c6ce0" stroke-width="0.8" stroke-opacity="0.92"/><line x1="164.25" y1="289.46" x2="184.50" y2="297.06" stroke="#3a3ad0" stroke-width="0.8" stroke-opacity="0.92"/><line x1="164.25" y1="294.32" x2="184.50" y2="307.35" stroke="#8484e8" stroke-width="0.8" stroke-opacity="0.92"/><line x1="164.25" y1="288.79" x2="184.50" y2="292.00" stroke="#8484e8" stroke-width="0.8" stroke-opacity="0.92"/><line x1="164.25" y1="285.08" x2="184.50" y2="295.84" stroke="#5656a8" stroke-width="0.8" stroke-opacity="0.92"/><line x1="164.25" y1="311.04" x2="184.50" y2="325.00" stroke="#3a3ad0" stroke-width="0.8" stroke-opacity="0.92"/><line x1="164.25" y1="296.70" x2="184.50" y2="321.59" stroke="#9090e8" stroke-width="0.8" stroke-opacity="0.92"/><line x1="164.25" y1="303.96" x2="184.50" y2="313.74" stroke="#6c6ca8" stroke-width="0.8" stroke-opacity="0.92"/><line x1="164.25" y1="302.43" x2="184.50" y2="316.28" stroke="#6c6ce0" stroke-width="0.8" stroke-opacity="0.92"/><line x1="164.25" y1="282.00" x2="184.50" y2="293.84" stroke="#9090e8" stroke-width="0.8" stroke-opacity="0.92"/><line x1="164.25" y1="310.75" x2="184.50" y2="323.59" stroke="#4040e0" stroke-width="0.8" stroke-opacity="0.92"/><line x1="164.25" y1="303.81" x2="184.50" y2="309.85" stroke="#4646d0" stroke-width="0.8" stroke-opacity="0.92"/><line x1="164.25" y1="285.67" x2="184.50" y2="292.00" stroke="#4646d0" stroke-width="0.8" stroke-opacity="0.92"/><line x1="164.25" y1="296.45" x2="184.50" y2="308.17" stroke="#8484e8" stroke-width="0.8" stroke-opacity="0.92"/><line x1="164.25" y1="290.42" x2="184.50" y2="292.00" stroke="#7a7aa0" stroke-width="0.8" stroke-opacity="0.92"/><line x1="164.25" y1="282.00" x2="184.50" y2="295.77" stroke="#5656a8" stroke-width="0.8" stroke-opacity="0.92"/><line x1="164.25" y1="306.06" x2="184.50" y2="313.41" stroke="#4646d0" stroke-width="0.8" stroke-opacity="0.92"/><line x1="164.25" y1="284.09" x2="184.50" y2="305.81" stroke="#6262b0" stroke-width="0.8" stroke-opacity="0.92"/><line x1="164.25" y1="297.79" x2="184.50" y2="315.19" stroke="#6262b0" stroke-width="0.8" stroke-opacity="0.92"/><line x1="164.25" y1="299.91" x2="184.50" y2="321.03" stroke="#9090e8" stroke-width="0.8" stroke-opacity="0.92"/><line x1="164.25" y1="290.24" x2="184.50" y2="292.79" stroke="#3030d8" stroke-width="0.8" stroke-opacity="0.92"/><line x1="164.25" y1="312.00" x2="184.50" y2="321.64" stroke="#8484e8" stroke-width="0.8" stroke-opacity="0.92"/><line x1="164.25" y1="285.66" x2="184.50" y2="298.98" stroke="#9090e8" stroke-width="0.8" stroke-opacity="0.92"/><line x1="164.25" y1="296.08" x2="184.50" y2="298.88" stroke="#4040e0" stroke-width="0.8" stroke-opacity="0.92"/><line x1="164.25" y1="294.37" x2="184.50" y2="297.15" stroke="#8484e8" stroke-width="0.8" stroke-opacity="0.92"/><line x1="164.25" y1="286.02" x2="184.50" y2="297.36" stroke="#3030d8" stroke-width="0.8" stroke-opacity="0.92"/><line x1="164.25" y1="287.62" x2="184.50" y2="292.00" stroke="#5050d8" stroke-width="0.8" stroke-opacity="0.92"/><line x1="164.25" y1="287.20" x2="184.50" y2="297.07" stroke="#6262b0" stroke-width="0.8" stroke-opacity="0.92"/><line x1="164.25" y1="303.26" x2="184.50" y2="307.57" stroke="#4040e0" stroke-width="0.8" stroke-opacity="0.92"/><line x1="164.25" y1="296.29" x2="184.50" y2="307.57" stroke="#4040e0" stroke-width="0.8" stroke-opacity="0.92"/><line x1="164.25" y1="287.22" x2="184.50" y2="302.12" stroke="#8484e8" stroke-width="0.8" stroke-opacity="0.92"/><line x1="164.25" y1="272.09" x2="184.50" y2="270.62" stroke="#7a7aa0" stroke-width="0.85" stroke-opacity="0.92"/><line x1="164.25" y1="283.83" x2="184.50" y2="287.57" stroke="#6c6ca8" stroke-width="0.85" stroke-opacity="0.92"/><line x1="164.25" y1="274.92" x2="184.50" y2="293.46" stroke="#c8c040" stroke-width="0.85" stroke-opacity="0.92"/><line x1="164.25" y1="277.74" x2="184.50" y2="289.20" stroke="#b8b040" stroke-width="0.85" stroke-opacity="0.92"/><line x1="164.25" y1="294.00" x2="184.50" y2="296.53" stroke="#5656a8" stroke-width="0.85" stroke-opacity="0.92"/><line x1="164.25" y1="287.85" x2="184.50" y2="300.17" stroke="#e8e830" stroke-width="0.85" stroke-opacity="0.92"/><line x1="164.25" y1="286.03" x2="184.50" y2="289.58" stroke="#989858" stroke-width="0.85" stroke-opacity="0.92"/><line x1="164.25" y1="285.00" x2="184.50" y2="287.34" stroke="#e8e830" stroke-width="0.85" stroke-opacity="0.92"/><line x1="164.25" y1="280.02" x2="184.50" y2="283.28" stroke="#f0e820" stroke-width="0.85" stroke-opacity="0.92"/><line x1="164.25" y1="275.47" x2="184.50" y2="282.71" stroke="#6c6ca8" stroke-width="0.85" stroke-opacity="0.92"/><line x1="164.25" y1="274.76" x2="184.50" y2="280.92" stroke="#989858" stroke-width="0.85" stroke-opacity="0.92"/><line x1="164.25" y1="273.88" x2="184.50" y2="288.56" stroke="#707050" stroke-width="0.85" stroke-opacity="0.92"/><line x1="164.25" y1="293.97" x2="184.50" y2="301.21" stroke="#989858" stroke-width="0.85" stroke-opacity="0.92"/><line x1="164.25" y1="274.66" x2="184.50" y2="279.76" stroke="#a8a848" stroke-width="0.85" stroke-opacity="0.92"/><line x1="164.25" y1="270.67" x2="184.50" y2="270.00" stroke="#707050" stroke-width="0.85" stroke-opacity="0.92"/><line x1="164.25" y1="292.11" x2="184.50" y2="297.23" stroke="#989858" stroke-width="0.85" stroke-opacity="0.92"/><line x1="164.25" y1="273.99" x2="184.50" y2="287.26" stroke="#b8b040" stroke-width="0.85" stroke-opacity="0.92"/><line x1="164.25" y1="266.00" x2="184.50" y2="270.00" stroke="#707050" stroke-width="0.85" stroke-opacity="0.92"/><line x1="164.25" y1="267.29" x2="184.50" y2="270.01" stroke="#b8b040" stroke-width="0.85" stroke-opacity="0.92"/><line x1="164.25" y1="276.66" x2="184.50" y2="282.71" stroke="#f0e820" stroke-width="0.85" stroke-opacity="0.92"/><line x1="164.25" y1="293.23" x2="184.50" y2="304.00" stroke="#f0e820" stroke-width="0.85" stroke-opacity="0.92"/><line x1="164.25" y1="282.72" x2="184.50" y2="302.02" stroke="#f0f020" stroke-width="0.85" stroke-opacity="0.92"/><line x1="164.25" y1="291.97" x2="184.50" y2="293.49" stroke="#f0e820" stroke-width="0.85" stroke-opacity="0.92"/><line x1="164.25" y1="286.55" x2="184.50" y2="285.96" stroke="#e8e830" stroke-width="0.85" stroke-opacity="0.92"/><line x1="164.25" y1="286.88" x2="184.50" y2="295.66" stroke="#f0e820" stroke-width="0.85" stroke-opacity="0.92"/><line x1="164.25" y1="266.00" x2="184.50" y2="274.63" stroke="#e8e830" stroke-width="0.85" stroke-opacity="0.92"/><line x1="164.25" y1="266.00" x2="184.50" y2="270.00" stroke="#6c6ca8" stroke-width="0.85" stroke-opacity="0.92"/><line x1="164.25" y1="282.20" x2="184.50" y2="277.04" stroke="#f0e820" stroke-width="0.85" stroke-opacity="0.92"/><line x1="164.25" y1="292.49" x2="184.50" y2="301.43" stroke="#a8a848" stroke-width="0.85" stroke-opacity="0.92"/><line x1="164.25" y1="278.26" x2="184.50" y2="277.09" stroke="#5656a8" stroke-width="0.85" stroke-opacity="0.92"/><line x1="164.25" y1="281.22" x2="184.50" y2="288.56" stroke="#e8e830" stroke-width="0.85" stroke-opacity="0.92"/><line x1="164.25" y1="289.99" x2="184.50" y2="299.62" stroke="#c8c040" stroke-width="0.85" stroke-opacity="0.92"/><line x1="164.25" y1="283.38" x2="184.50" y2="280.10" stroke="#c8c040" stroke-width="0.85" stroke-opacity="0.92"/><line x1="164.25" y1="286.71" x2="184.50" y2="280.34" stroke="#c8c040" stroke-width="0.85" stroke-opacity="0.92"/><line x1="164.25" y1="292.09" x2="184.50" y2="297.20" stroke="#b8b040" stroke-width="0.85" stroke-opacity="0.92"/><line x1="164.25" y1="275.38" x2="184.50" y2="279.70" stroke="#707050" stroke-width="0.85" stroke-opacity="0.92"/><line x1="164.25" y1="276.70" x2="184.50" y2="283.54" stroke="#b8b040" stroke-width="0.85" stroke-opacity="0.92"/><line x1="164.25" y1="272.43" x2="184.50" y2="275.33" stroke="#707050" stroke-width="0.85" stroke-opacity="0.92"/><line x1="164.25" y1="291.79" x2="184.50" y2="299.71" stroke="#989858" stroke-width="0.85" stroke-opacity="0.92"/><line x1="164.25" y1="279.97" x2="184.50" y2="285.27" stroke="#7a7aa0" stroke-width="0.85" stroke-opacity="0.92"/><line x1="164.25" y1="282.23" x2="184.50" y2="292.18" stroke="#6c6ca8" stroke-width="0.85" stroke-opacity="0.92"/><line x1="164.25" y1="293.62" x2="184.50" y2="298.46" stroke="#b8b040" stroke-width="0.85" stroke-opacity="0.92"/><line x1="164.25" y1="260.84" x2="184.50" y2="260.60" stroke="#f0f0a0" stroke-width="0.85" stroke-opacity="0.92"/><line x1="164.25" y1="261.50" x2="184.50" y2="261.44" stroke="#f0f0a0" stroke-width="0.85" stroke-opacity="0.92"/><line x1="164.25" y1="237.00" x2="184.50" y2="242.00" stroke="#e4e4e4" stroke-width="0.85" stroke-opacity="0.92"/><line x1="164.25" y1="315.00" x2="184.50" y2="324.00" stroke="#e8a060" stroke-width="0.85" stroke-opacity="0.92"/><line x1="35.9" y1="221.5" x2="35.9" y2="356.75" stroke="#666" stroke-width="1.0"/><line x1="33.9" y1="221.50" x2="35.9" y2="221.50" stroke="#444" stroke-width="0.8"/><line x1="34.6" y1="245.26" x2="35.9" y2="245.26" stroke="#555" stroke-width="0.6"/><line x1="34.6" y1="239.28" x2="35.9" y2="239.28" stroke="#555" stroke-width="0.6"/><line x1="34.6" y1="235.03" x2="35.9" y2="235.03" stroke="#555" stroke-width="0.6"/><line x1="34.6" y1="231.74" x2="35.9" y2="231.74" stroke="#555" stroke-width="0.6"/><line x1="34.6" y1="229.04" x2="35.9" y2="229.04" stroke="#555" stroke-width="0.6"/><line x1="34.6" y1="226.77" x2="35.9" y2="226.77" stroke="#555" stroke-width="0.6"/><line x1="34.6" y1="224.79" x2="35.9" y2="224.79" stroke="#555" stroke-width="0.6"/><line x1="34.6" y1="223.06" x2="35.9" y2="223.06" stroke="#555" stroke-width="0.6"/><line x1="33.9" y1="255.50" x2="35.9" y2="255.50" stroke="#444" stroke-width="0.8"/><line x1="34.6" y1="279.26" x2="35.9" y2="279.26" stroke="#555" stroke-width="0.6"/><line x1="34.6" y1="273.28" x2="35.9" y2="273.28" stroke="#555" stroke-width="0.6"/><line x1="34.6" y1="269.03" x2="35.9" y2="269.03" stroke="#555" stroke-width="0.6"/><line x1="34.6" y1="265.74" x2="35.9" y2="265.74" stroke="#555" stroke-width="0.6"/><line x1="34.6" y1="263.04" x2="35.9" y2="263.04" stroke="#555" stroke-width="0.6"/><line x1="34.6" y1="260.77" x2="35.9" y2="260.77" stroke="#555" stroke-width="0.6"/><line x1="34.6" y1="258.79" x2="35.9" y2="258.79" stroke="#555" stroke-width="0.6"/><line x1="34.6" y1="257.06" x2="35.9" y2="257.06" stroke="#555" stroke-width="0.6"/><line x1="33.9" y1="289.50" x2="35.9" y2="289.50" stroke="#444" stroke-width="0.8"/><line x1="34.6" y1="313.26" x2="35.9" y2="313.26" stroke="#555" stroke-width="0.6"/><line x1="34.6" y1="307.28" x2="35.9" y2="307.28" stroke="#555" stroke-width="0.6"/><line x1="34.6" y1="303.03" x2="35.9" y2="303.03" stroke="#555" stroke-width="0.6"/><line x1="34.6" y1="299.74" x2="35.9" y2="299.74" stroke="#555" stroke-width="0.6"/><line x1="34.6" y1="297.04" x2="35.9" y2="297.04" stroke="#555" stroke-width="0.6"/><line x1="34.6" y1="294.77" x2="35.9" y2="294.77" stroke="#555" stroke-width="0.6"/><line x1="34.6" y1="292.79" x2="35.9" y2="292.79" stroke="#555" stroke-width="0.6"/><line x1="34.6" y1="291.06" x2="35.9" y2="291.06" stroke="#555" stroke-width="0.6"/><line x1="33.9" y1="323.50" x2="35.9" y2="323.50" stroke="#444" stroke-width="0.8"/><line x1="34.6" y1="347.26" x2="35.9" y2="347.26" stroke="#555" stroke-width="0.6"/><line x1="34.6" y1="341.28" x2="35.9" y2="341.28" stroke="#555" stroke-width="0.6"/><line x1="34.6" y1="337.03" x2="35.9" y2="337.03" stroke="#555" stroke-width="0.6"/><line x1="34.6" y1="333.74" x2="35.9" y2="333.74" stroke="#555" stroke-width="0.6"/><line x1="34.6" y1="331.04" x2="35.9" y2="331.04" stroke="#555" stroke-width="0.6"/><line x1="34.6" y1="328.77" x2="35.9" y2="328.77" stroke="#555" stroke-width="0.6"/><line x1="34.6" y1="326.79" x2="35.9" y2="326.79" stroke="#555" stroke-width="0.6"/><line x1="34.6" y1="325.06" x2="35.9" y2="325.06" stroke="#555" stroke-width="0.6"/><line x1="33.9" y1="357.50" x2="35.9" y2="357.50" stroke="#444" stroke-width="0.8"/><text x="35.3" y="223.5" font-size="5.8" font-weight="normal" text-anchor="end" fill="#777"  >100</text><text x="35.3" y="257.5" font-size="5.8" font-weight="normal" text-anchor="end" fill="#777"  >10</text><text x="35.3" y="291.5" font-size="5.8" font-weight="normal" text-anchor="end" fill="#777"  >1</text><text x="35.3" y="325.5" font-size="5.8" font-weight="normal" text-anchor="end" fill="#777"  >0.1</text><line x1="35.9" y1="356.75" x2="187" y2="356.75" stroke="#777" stroke-width="1.3"/><line x1="39" y1="356.75" x2="39" y2="358.35" stroke="#666" stroke-width="0.6"/><line x1="59.5" y1="356.75" x2="59.5" y2="358.35" stroke="#666" stroke-width="0.6"/><text x="59.6" y="366.05" font-size="10" font-weight="bold" text-anchor="middle" fill="#111" stroke="#111" stroke-width="0.22" >+</text><text x="47.3" y="372.1" font-size="7.7" font-weight="bold" text-anchor="middle" fill="#111" stroke="#111" stroke-width="0.22" >DC1</text><line x1="64.25" y1="356.75" x2="64.25" y2="358.35" stroke="#666" stroke-width="0.6"/><line x1="85" y1="356.75" x2="85" y2="358.35" stroke="#666" stroke-width="0.6"/><text x="85.1" y="366.05" font-size="10" font-weight="bold" text-anchor="middle" fill="#111" stroke="#111" stroke-width="0.22" >+</text><text x="73.1" y="372.1" font-size="7.7" font-weight="bold" text-anchor="middle" fill="#111" stroke="#111" stroke-width="0.22" >DC2</text><line x1="89.5" y1="356.75" x2="89.5" y2="358.35" stroke="#666" stroke-width="0.6"/><line x1="110" y1="356.75" x2="110" y2="358.35" stroke="#666" stroke-width="0.6"/><text x="110.1" y="366.05" font-size="10" font-weight="bold" text-anchor="middle" fill="#111" stroke="#111" stroke-width="0.22" >+</text><text x="99.4" y="372.1" font-size="7.7" font-weight="bold" text-anchor="middle" fill="#111" stroke="#111" stroke-width="0.22" >DC3</text><line x1="115" y1="356.75" x2="115" y2="358.35" stroke="#666" stroke-width="0.6"/><line x1="135" y1="356.75" x2="135" y2="358.35" stroke="#666" stroke-width="0.6"/><text x="135.1" y="366.05" font-size="10" font-weight="bold" text-anchor="middle" fill="#111" stroke="#111" stroke-width="0.22" >+</text><text x="124.4" y="372.1" font-size="7.7" font-weight="bold" text-anchor="middle" fill="#111" stroke="#111" stroke-width="0.22" >IR</text><line x1="139.5" y1="356.75" x2="139.5" y2="358.35" stroke="#666" stroke-width="0.6"/><line x1="159.5" y1="356.75" x2="159.5" y2="358.35" stroke="#666" stroke-width="0.6"/><text x="159.6" y="366.05" font-size="10" font-weight="bold" text-anchor="middle" fill="#111" stroke="#111" stroke-width="0.22" >+</text><text x="147.6" y="372.1" font-size="7.7" font-weight="bold" text-anchor="middle" fill="#111" stroke="#111" stroke-width="0.22" >C114R</text><line x1="164.25" y1="356.75" x2="164.25" y2="358.35" stroke="#666" stroke-width="0.6"/><line x1="184.5" y1="356.75" x2="184.5" y2="358.35" stroke="#666" stroke-width="0.6"/><text x="184.6" y="366.05" font-size="10" font-weight="bold" text-anchor="middle" fill="#111" stroke="#111" stroke-width="0.22" >+</text><text x="173.75" y="372.1" font-size="7.7" font-weight="bold" text-anchor="middle" fill="#111" stroke="#111" stroke-width="0.22" >C131Y</text><text x="8" y="363.5" font-size="8.8" font-weight="bold" text-anchor="start" fill="#111" stroke="#111" stroke-width="0.22" >RGS:</text><text x="-0.7" y="213.6" font-size="11.2" font-weight="bold" text-anchor="start" fill="#111" stroke="#111" stroke-width="0.22" >B</text><text x="109.4" y="205.8" font-size="9.25" font-weight="bold" text-anchor="middle" fill="#111" stroke="#111" stroke-width="0.22" >24h downregulated probe sets (144)</text><text x="110.2" y="216.5" font-size="9.25" font-weight="bold" text-anchor="middle" fill="#111" stroke="#111" stroke-width="0.22" >by PPAR<tspan font-weight="normal" stroke-width="0">γ</tspan> ligand</text><text transform="translate(14.9,284.2) rotate(-90)" font-size="9.35" font-weight="bold" text-anchor="middle" fill="#111" stroke="#111" stroke-width="0.22">relative expression</text><rect x="242.5" y="50.5" width="35.5" height="306.0" fill="#ffff38"/><rect x="278" y="51.00" width="35.199999999999974" height="7.75" fill="#2424dc"/><rect x="312.9" y="51.00" width="32.10000000000002" height="7.75" fill="#3030cc"/><text x="347.2" y="55.0" font-size="5.4" font-weight="bold" text-anchor="start" fill="#111" stroke="#111" stroke-width="0.22" >FABP4</text><rect x="278" y="58.45" width="35.199999999999974" height="7.75" fill="#6a6aa8"/><rect x="312.9" y="58.45" width="32.10000000000002" height="7.75" fill="#7a7a9a"/><text x="347.2" y="62.49" font-size="5.4" font-weight="bold" text-anchor="start" fill="#111" stroke="#111" stroke-width="0.22" >PDCD4</text><rect x="278" y="65.90" width="35.199999999999974" height="7.75" fill="#6a6aa8"/><rect x="312.9" y="65.90" width="32.10000000000002" height="7.75" fill="#7b7b98"/><text x="347.2" y="69.98" font-size="5.4" font-weight="bold" text-anchor="start" fill="#111" stroke="#111" stroke-width="0.22" >LOC284837</text><rect x="278" y="73.35" width="35.199999999999974" height="7.75" fill="#4a4ac0"/><rect x="312.9" y="73.35" width="32.10000000000002" height="7.75" fill="#5555b5"/><text x="347.2" y="77.47" font-size="5.4" font-weight="bold" text-anchor="start" fill="#111" stroke="#111" stroke-width="0.22" >ABCG2</text><rect x="278" y="80.80" width="35.199999999999974" height="7.75" fill="#2525d8"/><rect x="312.9" y="80.80" width="32.10000000000002" height="7.75" fill="#3030d0"/><text x="347.2" y="84.96" font-size="5.4" font-weight="bold" text-anchor="start" fill="#111" stroke="#111" stroke-width="0.22" >OAS1</text><rect x="278" y="88.26" width="35.199999999999974" height="7.75" fill="#7a7a98"/><rect x="312.9" y="88.26" width="32.10000000000002" height="7.75" fill="#808090"/><text x="347.2" y="92.45" font-size="5.4" font-weight="bold" text-anchor="start" fill="#111" stroke="#111" stroke-width="0.22" >APOL6</text><rect x="278" y="95.71" width="35.199999999999974" height="7.75" fill="#6464b0"/><rect x="312.9" y="95.71" width="32.10000000000002" height="7.75" fill="#828484"/><text x="347.2" y="99.94" font-size="5.4" font-weight="bold" text-anchor="start" fill="#111" stroke="#111" stroke-width="0.22" >KCNE1</text><rect x="278" y="103.16" width="35.199999999999974" height="7.75" fill="#707098"/><rect x="312.9" y="103.16" width="32.10000000000002" height="7.75" fill="#9c9e6c"/><text x="347.2" y="107.43" font-size="5.4" font-weight="bold" text-anchor="start" fill="#111" stroke="#111" stroke-width="0.22" >C1QB</text><rect x="278" y="110.61" width="35.199999999999974" height="7.75" fill="#4848c8"/><rect x="312.9" y="110.61" width="32.10000000000002" height="7.75" fill="#7070a0"/><text x="347.2" y="114.92" font-size="5.4" font-weight="bold" text-anchor="start" fill="#111" stroke="#111" stroke-width="0.22" >MGLL</text><rect x="278" y="118.06" width="35.199999999999974" height="7.75" fill="#3838d8"/><rect x="312.9" y="118.06" width="32.10000000000002" height="7.75" fill="#5a5ab8"/><text x="347.2" y="122.41" font-size="5.4" font-weight="bold" text-anchor="start" fill="#111" stroke="#111" stroke-width="0.22" >ATF3</text><rect x="278" y="125.51" width="35.199999999999974" height="7.75" fill="#787898"/><rect x="312.9" y="125.51" width="32.10000000000002" height="7.75" fill="#8e9274"/><text x="347.2" y="129.9" font-size="5.4" font-weight="bold" text-anchor="start" fill="#111" stroke="#111" stroke-width="0.22" >FLJ22353</text><rect x="278" y="132.96" width="35.199999999999974" height="7.75" fill="#2a2ae0"/><rect x="312.9" y="132.96" width="32.10000000000002" height="7.75" fill="#828484"/><text x="347.2" y="137.39" font-size="5.4" font-weight="bold" text-anchor="start" fill="#111" stroke="#111" stroke-width="0.22" >PRR5</text><rect x="278" y="140.41" width="35.199999999999974" height="7.75" fill="#2020e0"/><rect x="312.9" y="140.41" width="32.10000000000002" height="7.75" fill="#4848c8"/><text x="347.2" y="144.88" font-size="5.4" font-weight="bold" text-anchor="start" fill="#111" stroke="#111" stroke-width="0.22" >ADFP</text><rect x="278" y="147.87" width="35.199999999999974" height="7.75" fill="#4a4ac0"/><rect x="312.9" y="147.87" width="32.10000000000002" height="7.75" fill="#7a7a98"/><text x="347.2" y="152.37" font-size="5.4" font-weight="bold" text-anchor="start" fill="#111" stroke="#111" stroke-width="0.22" >TLR4</text><rect x="278" y="155.32" width="35.199999999999974" height="7.75" fill="#1818e8"/><rect x="312.9" y="155.32" width="32.10000000000002" height="7.75" fill="#4848c8"/><text x="347.2" y="159.86" font-size="5.4" font-weight="bold" text-anchor="start" fill="#111" stroke="#111" stroke-width="0.22" >EHF</text><rect x="278" y="162.77" width="35.199999999999974" height="7.75" fill="#8e9274"/><rect x="312.9" y="162.77" width="32.10000000000002" height="7.75" fill="#a8a862"/><text x="347.2" y="167.35" font-size="5.4" font-weight="bold" text-anchor="start" fill="#111" stroke="#111" stroke-width="0.22" >BLVRB</text><rect x="278" y="170.22" width="35.199999999999974" height="7.75" fill="#4848c0"/><rect x="312.9" y="170.22" width="32.10000000000002" height="7.75" fill="#4a4ac0"/><text x="347.2" y="174.84" font-size="5.4" font-weight="bold" text-anchor="start" fill="#111" stroke="#111" stroke-width="0.22" >FAM13A1</text><rect x="278" y="177.67" width="35.199999999999974" height="7.75" fill="#5858b0"/><rect x="312.9" y="177.67" width="32.10000000000002" height="7.75" fill="#5050b8"/><text x="347.2" y="182.33" font-size="5.4" font-weight="bold" text-anchor="start" fill="#111" stroke="#111" stroke-width="0.22" >BCL2L11</text><rect x="278" y="185.12" width="35.199999999999974" height="7.75" fill="#9c9e6c"/><rect x="312.9" y="185.12" width="32.10000000000002" height="7.75" fill="#a8a862"/><text x="347.2" y="189.82" font-size="5.4" font-weight="bold" text-anchor="start" fill="#111" stroke="#111" stroke-width="0.22" >INPP5F</text><rect x="278" y="192.57" width="35.199999999999974" height="7.75" fill="#848486"/><rect x="312.9" y="192.57" width="32.10000000000002" height="7.75" fill="#848486"/><text x="347.2" y="197.31" font-size="5.4" font-weight="bold" text-anchor="start" fill="#111" stroke="#111" stroke-width="0.22" >ECH1</text><rect x="278" y="200.02" width="35.199999999999974" height="7.75" fill="#80808a"/><rect x="312.9" y="200.02" width="32.10000000000002" height="7.75" fill="#828286"/><text x="347.2" y="204.8" font-size="5.4" font-weight="bold" text-anchor="start" fill="#111" stroke="#111" stroke-width="0.22" >ME3</text><rect x="278" y="207.48" width="35.199999999999974" height="7.75" fill="#949872"/><rect x="312.9" y="207.48" width="32.10000000000002" height="7.75" fill="#949872"/><text x="347.2" y="212.29" font-size="5.4" font-weight="bold" text-anchor="start" fill="#111" stroke="#111" stroke-width="0.22" >GGA2</text><rect x="278" y="214.93" width="35.199999999999974" height="7.75" fill="#5a5ab0"/><rect x="312.9" y="214.93" width="32.10000000000002" height="7.75" fill="#4848c8"/><text x="347.2" y="219.78" font-size="5.4" font-weight="bold" text-anchor="start" fill="#111" stroke="#111" stroke-width="0.22" >TRIM14</text><rect x="278" y="222.38" width="35.199999999999974" height="7.75" fill="#7a7a9a"/><rect x="312.9" y="222.38" width="32.10000000000002" height="7.75" fill="#5a5ab0"/><text x="347.2" y="227.27" font-size="5.4" font-weight="bold" text-anchor="start" fill="#111" stroke="#111" stroke-width="0.22" >C18orf1</text><rect x="278" y="229.83" width="35.199999999999974" height="7.75" fill="#7070a4"/><rect x="312.9" y="229.83" width="32.10000000000002" height="7.75" fill="#acae5c"/><text x="347.2" y="234.76" font-size="5.4" font-weight="bold" text-anchor="start" fill="#111" stroke="#111" stroke-width="0.22" >SCARB1</text><rect x="278" y="237.28" width="35.199999999999974" height="7.75" fill="#2a2ad8"/><rect x="312.9" y="237.28" width="32.10000000000002" height="7.75" fill="#5a5ab0"/><text x="347.2" y="242.25" font-size="5.4" font-weight="bold" text-anchor="start" fill="#111" stroke="#111" stroke-width="0.22" >PSD3</text><rect x="278" y="244.73" width="35.199999999999974" height="7.75" fill="#7a7a98"/><rect x="312.9" y="244.73" width="32.10000000000002" height="7.75" fill="#d0d040"/><text x="347.2" y="249.74" font-size="5.4" font-weight="bold" text-anchor="start" fill="#111" stroke="#111" stroke-width="0.22" >PHYH</text><rect x="278" y="252.18" width="35.199999999999974" height="7.75" fill="#7a7a98"/><rect x="312.9" y="252.18" width="32.10000000000002" height="7.75" fill="#f4f63a"/><text x="347.2" y="257.23" font-size="5.4" font-weight="bold" text-anchor="start" fill="#111" stroke="#111" stroke-width="0.22" >PHLDA1</text><rect x="278" y="259.63" width="35.199999999999974" height="7.75" fill="#828286"/><rect x="312.9" y="259.63" width="32.10000000000002" height="7.75" fill="#a8a862"/><text x="347.2" y="264.72" font-size="5.4" font-weight="bold" text-anchor="start" fill="#111" stroke="#111" stroke-width="0.22" >PPGB</text><rect x="278" y="267.09" width="35.199999999999974" height="7.75" fill="#2a2ad8"/><rect x="312.9" y="267.09" width="32.10000000000002" height="7.75" fill="#9c9e6c"/><text x="347.2" y="272.21" font-size="5.4" font-weight="bold" text-anchor="start" fill="#111" stroke="#111" stroke-width="0.22" >CDW52</text><rect x="278" y="274.54" width="35.199999999999974" height="7.75" fill="#a0a068"/><rect x="312.9" y="274.54" width="32.10000000000002" height="7.75" fill="#c8c048"/><text x="347.2" y="279.7" font-size="5.4" font-weight="bold" text-anchor="start" fill="#111" stroke="#111" stroke-width="0.22" >C9orf99</text><rect x="278" y="281.99" width="35.199999999999974" height="7.75" fill="#7a7a98"/><rect x="312.9" y="281.99" width="32.10000000000002" height="7.75" fill="#e8e838"/><text x="347.2" y="287.19" font-size="5.4" font-weight="bold" text-anchor="start" fill="#111" stroke="#111" stroke-width="0.22" >SSB1</text><rect x="278" y="289.44" width="35.199999999999974" height="7.75" fill="#5a5ab0"/><rect x="312.9" y="289.44" width="32.10000000000002" height="7.75" fill="#6a6aa8"/><text x="347.2" y="294.68" font-size="5.4" font-weight="bold" text-anchor="start" fill="#111" stroke="#111" stroke-width="0.22" >MGC24133</text><rect x="278" y="296.89" width="35.199999999999974" height="7.75" fill="#3a3ad0"/><rect x="312.9" y="296.89" width="32.10000000000002" height="7.75" fill="#9c9e6c"/><text x="347.2" y="302.17" font-size="5.4" font-weight="bold" text-anchor="start" fill="#111" stroke="#111" stroke-width="0.22" >KAI1</text><rect x="278" y="304.34" width="35.199999999999974" height="7.75" fill="#7070a0"/><rect x="312.9" y="304.34" width="32.10000000000002" height="7.75" fill="#3a3ad0"/><text x="347.2" y="309.66" font-size="5.4" font-weight="bold" text-anchor="start" fill="#111" stroke="#111" stroke-width="0.22" >ALOX5</text><rect x="278" y="311.79" width="35.199999999999974" height="7.75" fill="#9c9e6c"/><rect x="312.9" y="311.79" width="32.10000000000002" height="7.75" fill="#8e9274"/><text x="347.2" y="317.15" font-size="5.4" font-weight="bold" text-anchor="start" fill="#111" stroke="#111" stroke-width="0.22" >C3F</text><rect x="278" y="319.24" width="35.199999999999974" height="7.75" fill="#828286"/><rect x="312.9" y="319.24" width="32.10000000000002" height="7.75" fill="#acae5c"/><text x="347.2" y="324.64" font-size="5.4" font-weight="bold" text-anchor="start" fill="#111" stroke="#111" stroke-width="0.22" >IL21R</text><rect x="278" y="326.70" width="35.199999999999974" height="7.75" fill="#9c9e6c"/><rect x="312.9" y="326.70" width="32.10000000000002" height="7.75" fill="#4040c8"/><text x="347.2" y="332.13" font-size="5.4" font-weight="bold" text-anchor="start" fill="#111" stroke="#111" stroke-width="0.22" >APOC1</text><rect x="278" y="334.15" width="35.199999999999974" height="7.75" fill="#d0d040"/><rect x="312.9" y="334.15" width="32.10000000000002" height="7.75" fill="#828484"/><text x="347.2" y="339.62" font-size="5.4" font-weight="bold" text-anchor="start" fill="#111" stroke="#111" stroke-width="0.22" >KLF4</text><rect x="278" y="341.60" width="35.199999999999974" height="7.75" fill="#868a80"/><rect x="312.9" y="341.60" width="32.10000000000002" height="7.75" fill="#9c9e6c"/><text x="347.2" y="347.11" font-size="5.4" font-weight="bold" text-anchor="start" fill="#111" stroke="#111" stroke-width="0.22" >LY6E</text><rect x="278" y="349.05" width="35.199999999999974" height="7.75" fill="#e01010"/><rect x="312.9" y="349.05" width="32.10000000000002" height="7.75" fill="#e81010"/><text x="347.2" y="354.6" font-size="5.4" font-weight="bold" text-anchor="start" fill="#111" stroke="#111" stroke-width="0.22" >COLEC12</text><text x="232.9" y="12.8" font-size="10.8" font-weight="bold" text-anchor="middle" fill="#111" stroke="#111" stroke-width="0.22" >C</text><text x="311.2" y="22.9" font-size="9.25" font-weight="bold" text-anchor="middle" fill="#111" stroke="#111" stroke-width="0.22" >24h upregulated genes (41)</text><text x="311.4" y="33.7" font-size="9.25" font-weight="bold" text-anchor="middle" fill="#111" stroke="#111" stroke-width="0.22" >by PPAR<tspan font-weight="normal" stroke-width="0">γ</tspan> ligand</text><text x="296" y="47.2" font-size="9" font-weight="bold" text-anchor="middle" fill="#111" stroke="#111" stroke-width="0.22" >73%</text><text x="328.3" y="47.2" font-size="9" font-weight="bold" text-anchor="middle" fill="#111" stroke="#111" stroke-width="0.22" >49%</text><rect x="308.45" y="39.4" width="1.5" height="5.399999999999999" fill="#111"/><polygon points="306.9,44.199999999999996 311.5,44.199999999999996 309.2,47.8" fill="#111"/><rect x="340.25" y="39.4" width="1.5" height="5.399999999999999" fill="#111"/><polygon points="338.7,44.199999999999996 343.3,44.199999999999996 341,47.8" fill="#111"/><text transform="translate(260,363.3) rotate(-35)" font-size="7.6" font-weight="bold" text-anchor="end" fill="#111" stroke="#111" stroke-width="0.22">WT RSG</text><text transform="translate(297,362.6) rotate(-35)" font-size="7.6" font-weight="bold" text-anchor="end" fill="#111" stroke="#111" stroke-width="0.22">C114R RSG</text><text transform="translate(334.3,362) rotate(-35)" font-size="7.6" font-weight="bold" text-anchor="end" fill="#111" stroke="#111" stroke-width="0.22">R357X RSG</text><rect x="400" y="52.9" width="29" height="228.5" fill="#ffff38"/><rect x="429" y="52.90" width="29.8" height="7.67" fill="#c8c850"/><rect x="458.5" y="52.90" width="27.5" height="7.67" fill="#f8e820"/><text x="487.3" y="57.7" font-size="5.4" font-weight="bold" text-anchor="start" fill="#111" stroke="#111" stroke-width="0.22" >FAM43A</text><rect x="429" y="60.27" width="29.8" height="7.67" fill="#d8e030"/><rect x="458.5" y="60.27" width="27.5" height="7.67" fill="#f0b020"/><text x="487.3" y="65.09" font-size="5.4" font-weight="bold" text-anchor="start" fill="#111" stroke="#111" stroke-width="0.22" >MYO1B</text><rect x="429" y="67.64" width="29.8" height="7.67" fill="#f0a020"/><rect x="458.5" y="67.64" width="27.5" height="7.67" fill="#e88018"/><text x="487.3" y="72.49" font-size="5.4" font-weight="bold" text-anchor="start" fill="#111" stroke="#111" stroke-width="0.22" >LOC120224</text><rect x="429" y="75.01" width="29.8" height="7.67" fill="#f0a020"/><rect x="458.5" y="75.01" width="27.5" height="7.67" fill="#e88018"/><text x="487.3" y="79.89" font-size="5.4" font-weight="bold" text-anchor="start" fill="#111" stroke="#111" stroke-width="0.22" >GPX3</text><rect x="429" y="82.38" width="29.8" height="7.67" fill="#f0a820"/><rect x="458.5" y="82.38" width="27.5" height="7.67" fill="#f0b820"/><text x="487.3" y="87.28" font-size="5.4" font-weight="bold" text-anchor="start" fill="#111" stroke="#111" stroke-width="0.22" >MGC11324</text><rect x="429" y="89.75" width="29.8" height="7.67" fill="#e00808"/><rect x="458.5" y="89.75" width="27.5" height="7.67" fill="#e00808"/><text x="487.3" y="94.67" font-size="5.4" font-weight="bold" text-anchor="start" fill="#111" stroke="#111" stroke-width="0.22" >MMP12</text><rect x="429" y="97.13" width="29.8" height="7.67" fill="#e00808"/><rect x="458.5" y="97.13" width="27.5" height="7.67" fill="#e00808"/><text x="487.3" y="102.07" font-size="5.4" font-weight="bold" text-anchor="start" fill="#111" stroke="#111" stroke-width="0.22" >CLDN1</text><rect x="429" y="104.50" width="29.8" height="7.67" fill="#f0a828"/><rect x="458.5" y="104.50" width="27.5" height="7.67" fill="#f0b028"/><text x="487.3" y="109.47" font-size="5.4" font-weight="bold" text-anchor="start" fill="#111" stroke="#111" stroke-width="0.22" >LOC57168</text><rect x="429" y="111.87" width="29.8" height="7.67" fill="#e88820"/><rect x="458.5" y="111.87" width="27.5" height="7.67" fill="#e89020"/><text x="487.3" y="116.86" font-size="5.4" font-weight="bold" text-anchor="start" fill="#111" stroke="#111" stroke-width="0.22" >NDRG2</text><rect x="429" y="119.24" width="29.8" height="7.67" fill="#e02810"/><rect x="458.5" y="119.24" width="27.5" height="7.67" fill="#e03010"/><text x="487.3" y="124.25" font-size="5.4" font-weight="bold" text-anchor="start" fill="#111" stroke="#111" stroke-width="0.22" >CD1A</text><rect x="429" y="126.61" width="29.8" height="7.67" fill="#f0b828"/><rect x="458.5" y="126.61" width="27.5" height="7.67" fill="#f8f030"/><text x="487.3" y="131.65" font-size="5.4" font-weight="bold" text-anchor="start" fill="#111" stroke="#111" stroke-width="0.22" >ENTPD1</text><rect x="429" y="133.98" width="29.8" height="7.67" fill="#e87820"/><rect x="458.5" y="133.98" width="27.5" height="7.67" fill="#f0b020"/><text x="487.3" y="139.05" font-size="5.4" font-weight="bold" text-anchor="start" fill="#111" stroke="#111" stroke-width="0.22" >CD226</text><rect x="429" y="141.35" width="29.8" height="7.67" fill="#e88020"/><rect x="458.5" y="141.35" width="27.5" height="7.67" fill="#f0c020"/><text x="487.3" y="146.44" font-size="5.4" font-weight="bold" text-anchor="start" fill="#111" stroke="#111" stroke-width="0.22" >CDA</text><rect x="429" y="148.72" width="29.8" height="7.67" fill="#e01008"/><rect x="458.5" y="148.72" width="27.5" height="7.67" fill="#e85818"/><text x="487.3" y="153.83" font-size="5.4" font-weight="bold" text-anchor="start" fill="#111" stroke="#111" stroke-width="0.22" >IL1R2</text><rect x="429" y="156.09" width="29.8" height="7.67" fill="#e01008"/><rect x="458.5" y="156.09" width="27.5" height="7.67" fill="#e04010"/><text x="487.3" y="161.23" font-size="5.4" font-weight="bold" text-anchor="start" fill="#111" stroke="#111" stroke-width="0.22" >CD1B</text><rect x="429" y="163.46" width="29.8" height="7.67" fill="#e01008"/><rect x="458.5" y="163.46" width="27.5" height="7.67" fill="#e03810"/><text x="487.3" y="168.62" font-size="5.4" font-weight="bold" text-anchor="start" fill="#111" stroke="#111" stroke-width="0.22" >CD1E</text><rect x="429" y="170.84" width="29.8" height="7.67" fill="#e87820"/><rect x="458.5" y="170.84" width="27.5" height="7.67" fill="#f0c020"/><text x="487.3" y="176.02" font-size="5.4" font-weight="bold" text-anchor="start" fill="#111" stroke="#111" stroke-width="0.22" >SLC39A14</text><rect x="429" y="178.21" width="29.8" height="7.67" fill="#e00808"/><rect x="458.5" y="178.21" width="27.5" height="7.67" fill="#e88020"/><text x="487.3" y="183.41" font-size="5.4" font-weight="bold" text-anchor="start" fill="#111" stroke="#111" stroke-width="0.22" >CD207</text><rect x="429" y="185.58" width="29.8" height="7.67" fill="#f08820"/><rect x="458.5" y="185.58" width="27.5" height="7.67" fill="#f0c020"/><text x="487.3" y="190.81" font-size="5.4" font-weight="bold" text-anchor="start" fill="#111" stroke="#111" stroke-width="0.22" >ANKH</text><rect x="429" y="192.95" width="29.8" height="7.67" fill="#e80808"/><rect x="458.5" y="192.95" width="27.5" height="7.67" fill="#e80808"/><text x="487.3" y="198.2" font-size="5.4" font-weight="bold" text-anchor="start" fill="#111" stroke="#111" stroke-width="0.22" >RIS1</text><rect x="429" y="200.32" width="29.8" height="7.67" fill="#e83010"/><rect x="458.5" y="200.32" width="27.5" height="7.67" fill="#e84010"/><text x="487.3" y="205.6" font-size="5.4" font-weight="bold" text-anchor="start" fill="#111" stroke="#111" stroke-width="0.22" >ATP2B4</text><rect x="429" y="207.69" width="29.8" height="7.67" fill="#c0bc50"/><rect x="458.5" y="207.69" width="27.5" height="7.67" fill="#9e9c6c"/><text x="487.3" y="213.0" font-size="5.4" font-weight="bold" text-anchor="start" fill="#111" stroke="#111" stroke-width="0.22" >SIAT1</text><rect x="429" y="215.06" width="29.8" height="7.67" fill="#f8f020"/><rect x="458.5" y="215.06" width="27.5" height="7.67" fill="#949872"/><text x="487.3" y="220.39" font-size="5.4" font-weight="bold" text-anchor="start" fill="#111" stroke="#111" stroke-width="0.22" >LOC57228</text><rect x="429" y="222.43" width="29.8" height="7.67" fill="#78788e"/><rect x="458.5" y="222.43" width="27.5" height="7.67" fill="#949872"/><text x="487.3" y="227.78" font-size="5.4" font-weight="bold" text-anchor="start" fill="#111" stroke="#111" stroke-width="0.22" >C13orf18</text><rect x="429" y="229.80" width="29.8" height="7.67" fill="#727292"/><rect x="458.5" y="229.80" width="27.5" height="7.67" fill="#727292"/><text x="487.3" y="235.18" font-size="5.4" font-weight="bold" text-anchor="start" fill="#111" stroke="#111" stroke-width="0.22" >FREB</text><rect x="429" y="237.17" width="29.8" height="7.67" fill="#3838d0"/><rect x="458.5" y="237.17" width="27.5" height="7.67" fill="#5050b8"/><text x="487.3" y="242.57" font-size="5.4" font-weight="bold" text-anchor="start" fill="#111" stroke="#111" stroke-width="0.22" >MMP9</text><rect x="429" y="244.55" width="29.8" height="7.67" fill="#f8f020"/><rect x="458.5" y="244.55" width="27.5" height="7.67" fill="#f8f020"/><text x="487.3" y="249.97" font-size="5.4" font-weight="bold" text-anchor="start" fill="#111" stroke="#111" stroke-width="0.22" >MGAM</text><rect x="429" y="251.92" width="29.8" height="7.67" fill="#f8f020"/><rect x="458.5" y="251.92" width="27.5" height="7.67" fill="#e86010"/><text x="487.3" y="257.37" font-size="5.4" font-weight="bold" text-anchor="start" fill="#111" stroke="#111" stroke-width="0.22" >AREG</text><rect x="429" y="259.29" width="29.8" height="7.67" fill="#a8a862"/><rect x="458.5" y="259.29" width="27.5" height="7.67" fill="#a8a862"/><text x="487.3" y="264.76" font-size="5.4" font-weight="bold" text-anchor="start" fill="#111" stroke="#111" stroke-width="0.22" >SNCA</text><rect x="429" y="266.66" width="29.8" height="7.67" fill="#a8a862"/><rect x="458.5" y="266.66" width="27.5" height="7.67" fill="#f0c828"/><text x="487.3" y="272.15" font-size="5.4" font-weight="bold" text-anchor="start" fill="#111" stroke="#111" stroke-width="0.22" >CLECSF5</text><rect x="429" y="274.03" width="29.8" height="7.67" fill="#3838d0"/><rect x="458.5" y="274.03" width="27.5" height="7.67" fill="#7a7a98"/><text x="487.3" y="279.55" font-size="5.4" font-weight="bold" text-anchor="start" fill="#111" stroke="#111" stroke-width="0.22" >C10orf58</text><text x="384.3" y="13.2" font-size="10.2" font-weight="bold" text-anchor="middle" fill="#111" stroke="#111" stroke-width="0.22" >D</text><text x="452.6" y="25.6" font-size="9.25" font-weight="bold" text-anchor="middle" fill="#111" stroke="#111" stroke-width="0.22" >24h downregulated genes (31)</text><text x="452.4" y="36.3" font-size="9.25" font-weight="bold" text-anchor="middle" fill="#111" stroke="#111" stroke-width="0.22" >by PPAR<tspan font-weight="normal" stroke-width="0">γ</tspan> ligand</text><text x="444.75" y="48.6" font-size="9" font-weight="bold" text-anchor="middle" fill="#111" stroke="#111" stroke-width="0.22" >52%</text><text x="471.85" y="48.6" font-size="9" font-weight="bold" text-anchor="middle" fill="#111" stroke="#111" stroke-width="0.22" >48%</text><rect x="455.55" y="43.6" width="1.5" height="5.100000000000001" fill="#111"/><polygon points="454.0,44.2 458.6,44.2 456.3,40.6" fill="#111"/><rect x="482.95" y="43.6" width="1.5" height="5.100000000000001" fill="#111"/><polygon points="481.4,44.2 486.0,44.2 483.7,40.6" fill="#111"/><text transform="translate(419,289.5) rotate(-35)" font-size="7.6" font-weight="bold" text-anchor="end" fill="#111" stroke="#111" stroke-width="0.22">WT RSG</text><text transform="translate(444.8,290.2) rotate(-35)" font-size="7.6" font-weight="bold" text-anchor="end" fill="#111" stroke="#111" stroke-width="0.22">C114R RSG</text><text transform="translate(477,290.2) rotate(-35)" font-size="7.6" font-weight="bold" text-anchor="end" fill="#111" stroke="#111" stroke-width="0.22">R357X RSG</text><defs><linearGradient id="fc" x1="0" x2="1" y1="0" y2="0"><stop offset="0" stop-color="#e00000"/><stop offset="0.12" stop-color="#e82808"/><stop offset="0.3" stop-color="#f07818"/><stop offset="0.42" stop-color="#f8b820"/><stop offset="0.52" stop-color="#f8f020"/><stop offset="0.6" stop-color="#c8c838"/><stop offset="0.68" stop-color="#989860"/><stop offset="0.77" stop-color="#7070a4"/><stop offset="0.87" stop-color="#3030e0"/><stop offset="1" stop-color="#1010f0"/></linearGradient></defs><rect x="404.5" y="340" width="80.5" height="10.3" fill="url(#fc)"/><text x="444" y="336.1" font-size="7.7" font-weight="bold" text-anchor="middle" fill="#111" stroke="#111" stroke-width="0.22" >Fold change</text><text x="409.3" y="357.7" font-size="6.6" font-weight="bold" text-anchor="middle" fill="#111" stroke="#111" stroke-width="0.22" >5</text><text x="418.5" y="357.7" font-size="6.6" font-weight="bold" text-anchor="middle" fill="#111" stroke="#111" stroke-width="0.22" >3</text><text x="443.9" y="357.7" font-size="6.6" font-weight="bold" text-anchor="middle" fill="#111" stroke="#111" stroke-width="0.22" >1</text><text x="469.4" y="357.7" font-size="6.6" font-weight="bold" text-anchor="middle" fill="#111" stroke="#111" stroke-width="0.22" >0.5</text><text x="483.3" y="357.7" font-size="6.6" font-weight="bold" text-anchor="middle" fill="#111" stroke="#111" stroke-width="0.22" >0.2</text></svg>
</body></html>
